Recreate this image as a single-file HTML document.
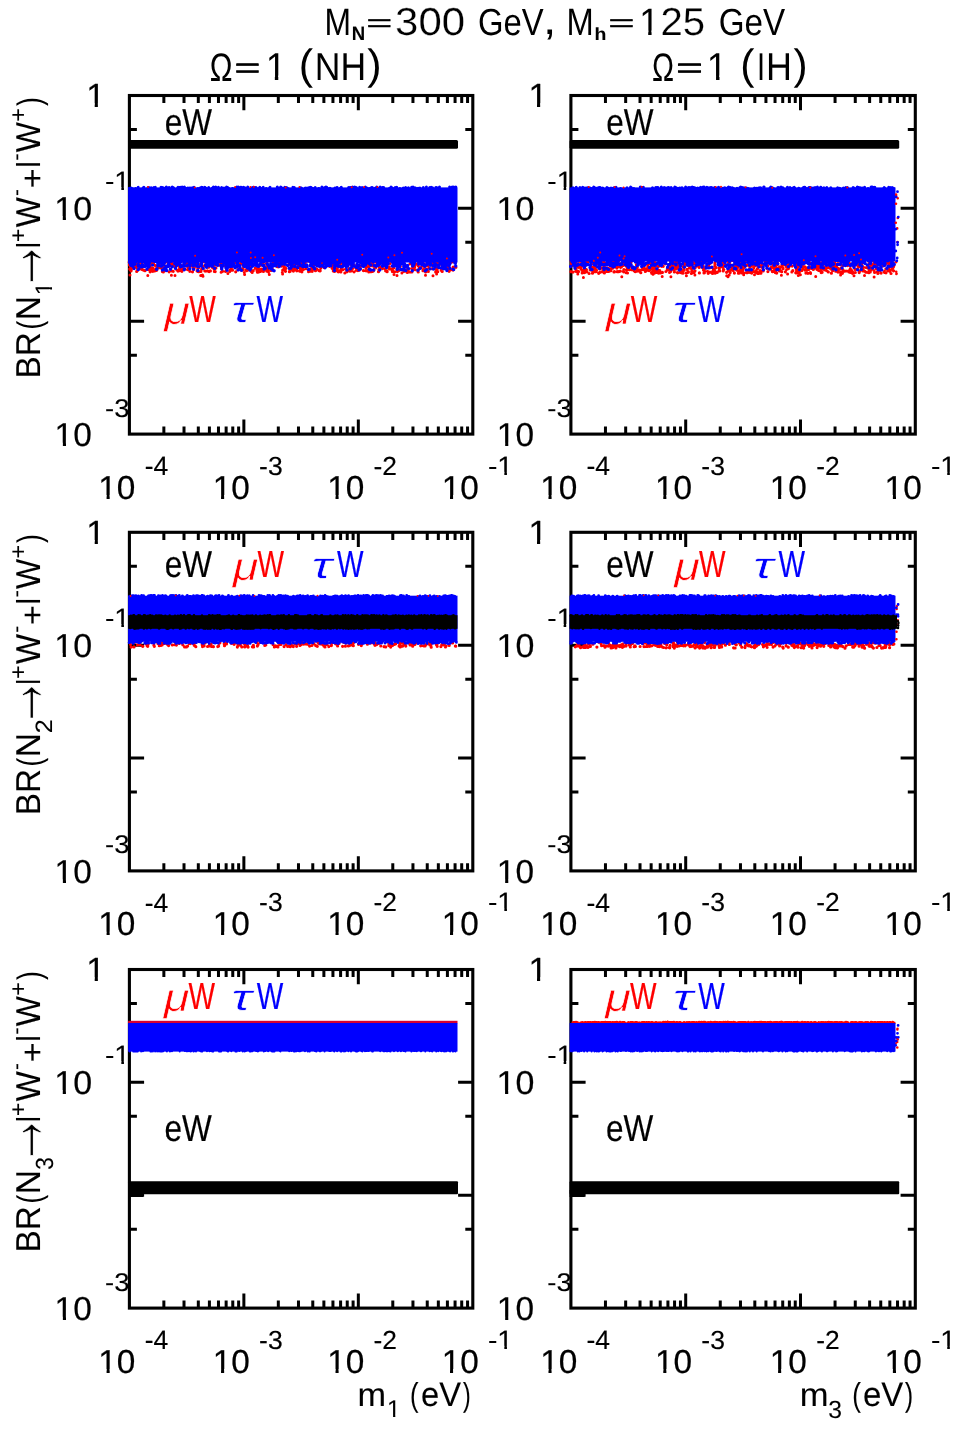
<!DOCTYPE html>
<html><head><meta charset="utf-8"><title>BR plots</title>
<style>html,body{margin:0;padding:0;background:#fff}svg{display:block}</style></head>
<body><svg width="957" height="1429" viewBox="0 0 957 1429" text-rendering="geometricPrecision">
<defs>
<clipPath id="k1"><path d="M-20 -130H150V-11H-20ZM24.9 -12H34.2V3H24.9Z"/></clipPath>
<clipPath id="k10"><path d="M-20 -130H250V-11H-20ZM24.9 -12H34.2V3H24.9ZM55.6 -12H130V5H55.6Z"/></clipPath>
<clipPath id="km1"><path d="M-20 -130H150V-11H-20ZM58.2 -12H67.5V3H58.2Z"/></clipPath>
<clipPath id="k1b"><path d="M-20 -130H150V-10.3H-20ZM23.1 -11H37.3V3H23.1Z"/></clipPath>
</defs>
<rect width="957" height="1429" fill="#fff"/>
<rect x="129.4" y="95.5" width="343.4" height="338.6" fill="none" stroke="#000" stroke-width="3.1"/>
<path d="M163.86 95.50v7.6M163.86 434.10v-7.6M184.01 95.50v7.6M184.01 434.10v-7.6M198.32 95.50v7.6M198.32 434.10v-7.6M209.41 95.50v7.6M209.41 434.10v-7.6M218.47 95.50v7.6M218.47 434.10v-7.6M226.14 95.50v7.6M226.14 434.10v-7.6M232.77 95.50v7.6M232.77 434.10v-7.6M238.63 95.50v7.6M238.63 434.10v-7.6M243.87 95.50v14.7M243.87 434.10v-14.7M278.32 95.50v7.6M278.32 434.10v-7.6M298.48 95.50v7.6M298.48 434.10v-7.6M312.78 95.50v7.6M312.78 434.10v-7.6M323.88 95.50v7.6M323.88 434.10v-7.6M332.94 95.50v7.6M332.94 434.10v-7.6M340.60 95.50v7.6M340.60 434.10v-7.6M347.24 95.50v7.6M347.24 434.10v-7.6M353.10 95.50v7.6M353.10 434.10v-7.6M358.33 95.50v14.7M358.33 434.10v-14.7M392.79 95.50v7.6M392.79 434.10v-7.6M412.95 95.50v7.6M412.95 434.10v-7.6M427.25 95.50v7.6M427.25 434.10v-7.6M438.34 95.50v7.6M438.34 434.10v-7.6M447.41 95.50v7.6M447.41 434.10v-7.6M455.07 95.50v7.6M455.07 434.10v-7.6M461.71 95.50v7.6M461.71 434.10v-7.6M467.56 95.50v7.6M467.56 434.10v-7.6M129.40 129.48h7.5M472.80 129.48h-7.5M129.40 208.37h14.7M472.80 208.37h-14.7M129.40 242.34h7.5M472.80 242.34h-7.5M129.40 321.23h14.7M472.80 321.23h-14.7M129.40 355.21h7.5M472.80 355.21h-7.5" stroke="#000" stroke-width="3" fill="none"/>
<rect x="129.4" y="532.3" width="343.4" height="338.6" fill="none" stroke="#000" stroke-width="3.1"/>
<path d="M163.86 532.30v7.6M163.86 870.90v-7.6M184.01 532.30v7.6M184.01 870.90v-7.6M198.32 532.30v7.6M198.32 870.90v-7.6M209.41 532.30v7.6M209.41 870.90v-7.6M218.47 532.30v7.6M218.47 870.90v-7.6M226.14 532.30v7.6M226.14 870.90v-7.6M232.77 532.30v7.6M232.77 870.90v-7.6M238.63 532.30v7.6M238.63 870.90v-7.6M243.87 532.30v14.7M243.87 870.90v-14.7M278.32 532.30v7.6M278.32 870.90v-7.6M298.48 532.30v7.6M298.48 870.90v-7.6M312.78 532.30v7.6M312.78 870.90v-7.6M323.88 532.30v7.6M323.88 870.90v-7.6M332.94 532.30v7.6M332.94 870.90v-7.6M340.60 532.30v7.6M340.60 870.90v-7.6M347.24 532.30v7.6M347.24 870.90v-7.6M353.10 532.30v7.6M353.10 870.90v-7.6M358.33 532.30v14.7M358.33 870.90v-14.7M392.79 532.30v7.6M392.79 870.90v-7.6M412.95 532.30v7.6M412.95 870.90v-7.6M427.25 532.30v7.6M427.25 870.90v-7.6M438.34 532.30v7.6M438.34 870.90v-7.6M447.41 532.30v7.6M447.41 870.90v-7.6M455.07 532.30v7.6M455.07 870.90v-7.6M461.71 532.30v7.6M461.71 870.90v-7.6M467.56 532.30v7.6M467.56 870.90v-7.6M129.40 566.28h7.5M472.80 566.28h-7.5M129.40 645.17h14.7M472.80 645.17h-14.7M129.40 679.14h7.5M472.80 679.14h-7.5M129.40 758.03h14.7M472.80 758.03h-14.7M129.40 792.01h7.5M472.80 792.01h-7.5" stroke="#000" stroke-width="3" fill="none"/>
<rect x="129.4" y="969.5" width="343.4" height="338.6" fill="none" stroke="#000" stroke-width="3.1"/>
<path d="M163.86 969.50v7.6M163.86 1308.10v-7.6M184.01 969.50v7.6M184.01 1308.10v-7.6M198.32 969.50v7.6M198.32 1308.10v-7.6M209.41 969.50v7.6M209.41 1308.10v-7.6M218.47 969.50v7.6M218.47 1308.10v-7.6M226.14 969.50v7.6M226.14 1308.10v-7.6M232.77 969.50v7.6M232.77 1308.10v-7.6M238.63 969.50v7.6M238.63 1308.10v-7.6M243.87 969.50v14.7M243.87 1308.10v-14.7M278.32 969.50v7.6M278.32 1308.10v-7.6M298.48 969.50v7.6M298.48 1308.10v-7.6M312.78 969.50v7.6M312.78 1308.10v-7.6M323.88 969.50v7.6M323.88 1308.10v-7.6M332.94 969.50v7.6M332.94 1308.10v-7.6M340.60 969.50v7.6M340.60 1308.10v-7.6M347.24 969.50v7.6M347.24 1308.10v-7.6M353.10 969.50v7.6M353.10 1308.10v-7.6M358.33 969.50v14.7M358.33 1308.10v-14.7M392.79 969.50v7.6M392.79 1308.10v-7.6M412.95 969.50v7.6M412.95 1308.10v-7.6M427.25 969.50v7.6M427.25 1308.10v-7.6M438.34 969.50v7.6M438.34 1308.10v-7.6M447.41 969.50v7.6M447.41 1308.10v-7.6M455.07 969.50v7.6M455.07 1308.10v-7.6M461.71 969.50v7.6M461.71 1308.10v-7.6M467.56 969.50v7.6M467.56 1308.10v-7.6M129.40 1003.48h7.5M472.80 1003.48h-7.5M129.40 1082.37h14.7M472.80 1082.37h-14.7M129.40 1116.34h7.5M472.80 1116.34h-7.5M129.40 1195.23h14.7M472.80 1195.23h-14.7M129.40 1229.21h7.5M472.80 1229.21h-7.5" stroke="#000" stroke-width="3" fill="none"/>
<rect x="570.9" y="95.5" width="344.4" height="338.6" fill="none" stroke="#000" stroke-width="3.1"/>
<path d="M605.46 95.50v7.6M605.46 434.10v-7.6M625.67 95.50v7.6M625.67 434.10v-7.6M640.02 95.50v7.6M640.02 434.10v-7.6M651.14 95.50v7.6M651.14 434.10v-7.6M660.23 95.50v7.6M660.23 434.10v-7.6M667.92 95.50v7.6M667.92 434.10v-7.6M674.57 95.50v7.6M674.57 434.10v-7.6M680.45 95.50v7.6M680.45 434.10v-7.6M685.70 95.50v14.7M685.70 434.10v-14.7M720.26 95.50v7.6M720.26 434.10v-7.6M740.47 95.50v7.6M740.47 434.10v-7.6M754.82 95.50v7.6M754.82 434.10v-7.6M765.94 95.50v7.6M765.94 434.10v-7.6M775.03 95.50v7.6M775.03 434.10v-7.6M782.72 95.50v7.6M782.72 434.10v-7.6M789.37 95.50v7.6M789.37 434.10v-7.6M795.25 95.50v7.6M795.25 434.10v-7.6M800.50 95.50v14.7M800.50 434.10v-14.7M835.06 95.50v7.6M835.06 434.10v-7.6M855.27 95.50v7.6M855.27 434.10v-7.6M869.62 95.50v7.6M869.62 434.10v-7.6M880.74 95.50v7.6M880.74 434.10v-7.6M889.83 95.50v7.6M889.83 434.10v-7.6M897.52 95.50v7.6M897.52 434.10v-7.6M904.17 95.50v7.6M904.17 434.10v-7.6M910.05 95.50v7.6M910.05 434.10v-7.6M570.90 129.48h7.5M915.30 129.48h-7.5M570.90 208.37h14.7M915.30 208.37h-14.7M570.90 242.34h7.5M915.30 242.34h-7.5M570.90 321.23h14.7M915.30 321.23h-14.7M570.90 355.21h7.5M915.30 355.21h-7.5" stroke="#000" stroke-width="3" fill="none"/>
<rect x="570.9" y="532.3" width="344.4" height="338.6" fill="none" stroke="#000" stroke-width="3.1"/>
<path d="M605.46 532.30v7.6M605.46 870.90v-7.6M625.67 532.30v7.6M625.67 870.90v-7.6M640.02 532.30v7.6M640.02 870.90v-7.6M651.14 532.30v7.6M651.14 870.90v-7.6M660.23 532.30v7.6M660.23 870.90v-7.6M667.92 532.30v7.6M667.92 870.90v-7.6M674.57 532.30v7.6M674.57 870.90v-7.6M680.45 532.30v7.6M680.45 870.90v-7.6M685.70 532.30v14.7M685.70 870.90v-14.7M720.26 532.30v7.6M720.26 870.90v-7.6M740.47 532.30v7.6M740.47 870.90v-7.6M754.82 532.30v7.6M754.82 870.90v-7.6M765.94 532.30v7.6M765.94 870.90v-7.6M775.03 532.30v7.6M775.03 870.90v-7.6M782.72 532.30v7.6M782.72 870.90v-7.6M789.37 532.30v7.6M789.37 870.90v-7.6M795.25 532.30v7.6M795.25 870.90v-7.6M800.50 532.30v14.7M800.50 870.90v-14.7M835.06 532.30v7.6M835.06 870.90v-7.6M855.27 532.30v7.6M855.27 870.90v-7.6M869.62 532.30v7.6M869.62 870.90v-7.6M880.74 532.30v7.6M880.74 870.90v-7.6M889.83 532.30v7.6M889.83 870.90v-7.6M897.52 532.30v7.6M897.52 870.90v-7.6M904.17 532.30v7.6M904.17 870.90v-7.6M910.05 532.30v7.6M910.05 870.90v-7.6M570.90 566.28h7.5M915.30 566.28h-7.5M570.90 645.17h14.7M915.30 645.17h-14.7M570.90 679.14h7.5M915.30 679.14h-7.5M570.90 758.03h14.7M915.30 758.03h-14.7M570.90 792.01h7.5M915.30 792.01h-7.5" stroke="#000" stroke-width="3" fill="none"/>
<rect x="570.9" y="969.5" width="344.4" height="338.6" fill="none" stroke="#000" stroke-width="3.1"/>
<path d="M605.46 969.50v7.6M605.46 1308.10v-7.6M625.67 969.50v7.6M625.67 1308.10v-7.6M640.02 969.50v7.6M640.02 1308.10v-7.6M651.14 969.50v7.6M651.14 1308.10v-7.6M660.23 969.50v7.6M660.23 1308.10v-7.6M667.92 969.50v7.6M667.92 1308.10v-7.6M674.57 969.50v7.6M674.57 1308.10v-7.6M680.45 969.50v7.6M680.45 1308.10v-7.6M685.70 969.50v14.7M685.70 1308.10v-14.7M720.26 969.50v7.6M720.26 1308.10v-7.6M740.47 969.50v7.6M740.47 1308.10v-7.6M754.82 969.50v7.6M754.82 1308.10v-7.6M765.94 969.50v7.6M765.94 1308.10v-7.6M775.03 969.50v7.6M775.03 1308.10v-7.6M782.72 969.50v7.6M782.72 1308.10v-7.6M789.37 969.50v7.6M789.37 1308.10v-7.6M795.25 969.50v7.6M795.25 1308.10v-7.6M800.50 969.50v14.7M800.50 1308.10v-14.7M835.06 969.50v7.6M835.06 1308.10v-7.6M855.27 969.50v7.6M855.27 1308.10v-7.6M869.62 969.50v7.6M869.62 1308.10v-7.6M880.74 969.50v7.6M880.74 1308.10v-7.6M889.83 969.50v7.6M889.83 1308.10v-7.6M897.52 969.50v7.6M897.52 1308.10v-7.6M904.17 969.50v7.6M904.17 1308.10v-7.6M910.05 969.50v7.6M910.05 1308.10v-7.6M570.90 1003.48h7.5M915.30 1003.48h-7.5M570.90 1082.37h14.7M915.30 1082.37h-14.7M570.90 1116.34h7.5M915.30 1116.34h-7.5M570.90 1195.23h14.7M915.30 1195.23h-14.7M570.90 1229.21h7.5M915.30 1229.21h-7.5" stroke="#000" stroke-width="3" fill="none"/>
<path d="M235.1 262.2h0M342.1 261.3h0M304.4 264.7h0M148.1 266.3h0M141.4 265.5h0M152.0 261.5h0M268.0 270.0h0M169.6 263.1h0M334.4 271.4h0M317.9 265.1h0M448.5 261.0h0M410.0 263.8h0M176.3 261.9h0M230.0 269.9h0M188.2 267.2h0M338.2 264.8h0M308.3 261.2h0M148.6 262.9h0M351.7 265.4h0M231.9 267.2h0M277.4 263.9h0M389.0 268.5h0M209.0 267.1h0M300.9 270.6h0M367.8 263.8h0M449.8 261.9h0M265.9 269.2h0M178.8 266.1h0M141.9 268.2h0M379.3 267.1h0M415.6 264.1h0M356.6 267.3h0M318.8 265.7h0M403.9 271.4h0M284.2 268.1h0M149.0 268.6h0M340.8 271.9h0M398.0 263.8h0M255.3 268.2h0M136.5 265.8h0M184.1 261.8h0M148.4 269.3h0M171.4 263.3h0M257.0 270.5h0M155.5 265.7h0M308.9 270.7h0M397.2 270.4h0M220.2 265.3h0M246.5 270.7h0M442.5 262.2h0M186.8 263.2h0M205.4 266.1h0M321.9 263.5h0M130.4 265.3h0M249.9 267.0h0M441.0 268.4h0M297.8 267.6h0M350.4 261.1h0M423.4 269.5h0M415.2 269.7h0M257.5 265.1h0M163.0 267.8h0M149.5 261.3h0M197.4 262.4h0M240.4 261.1h0M129.2 262.2h0M162.3 264.7h0M137.4 270.6h0M330.0 262.2h0M211.6 264.5h0M248.3 261.9h0M406.9 271.9h0M281.6 266.1h0M157.2 261.7h0M241.2 263.5h0M400.3 262.4h0M136.7 271.4h0M301.9 262.2h0M306.8 260.8h0M301.9 271.8h0M411.6 268.5h0M214.5 264.7h0M183.8 269.4h0M303.4 269.5h0M237.0 263.1h0M394.6 271.8h0M408.1 269.8h0M396.9 269.0h0M203.3 266.5h0M245.4 260.8h0M138.2 263.7h0M213.9 268.5h0M442.1 265.6h0M435.7 271.9h0M441.6 264.7h0M201.2 263.1h0M193.5 262.9h0M333.3 270.9h0M404.1 266.0h0M342.8 269.7h0M156.8 268.1h0M426.8 269.5h0M374.5 266.0h0M187.5 269.6h0M237.9 269.7h0M447.0 265.1h0M260.4 271.4h0M366.3 262.5h0M170.7 262.2h0M425.2 269.8h0M176.9 270.0h0M449.9 268.1h0M243.8 266.8h0M172.0 260.7h0M446.8 268.0h0M301.4 271.2h0M271.0 270.5h0M399.4 262.9h0M211.5 263.9h0M207.8 267.2h0M214.0 265.3h0M172.0 271.0h0M244.9 265.8h0M320.0 270.9h0M266.7 271.1h0M293.2 266.6h0M300.4 260.7h0M273.1 262.6h0M130.4 269.7h0M185.5 265.9h0M366.4 266.9h0M235.8 266.5h0M310.8 269.5h0M163.8 266.9h0M210.4 263.7h0M381.8 266.3h0M312.9 269.2h0M427.7 265.6h0M329.5 266.3h0M296.7 268.5h0M277.1 266.6h0M285.5 271.3h0M357.9 270.6h0M437.4 263.5h0M312.2 271.3h0M403.9 262.1h0M168.9 265.6h0M152.8 263.3h0M153.0 268.2h0M385.6 270.8h0M179.6 268.7h0M345.1 262.1h0M418.0 271.6h0M200.9 271.5h0M259.4 266.1h0M453.0 270.1h0M181.9 265.5h0M297.8 264.4h0M193.1 264.2h0M365.4 260.7h0M310.4 265.6h0M135.0 264.3h0M333.2 266.4h0M150.1 271.8h0M387.1 271.7h0M163.4 263.6h0M142.1 269.5h0M217.6 262.0h0M267.3 271.0h0M397.1 263.5h0M178.0 271.1h0M315.8 268.6h0M158.4 261.2h0M354.3 265.4h0M152.8 271.3h0M336.7 269.7h0M156.5 270.3h0M150.9 270.4h0M277.6 264.4h0M310.1 271.2h0M216.7 262.0h0M301.5 263.2h0M164.9 262.4h0M145.6 262.8h0M231.2 264.0h0M377.6 263.8h0M292.7 262.5h0M242.6 260.7h0M211.0 260.7h0M369.0 266.8h0M191.1 266.0h0M434.9 261.7h0M397.1 265.5h0M291.1 270.1h0M257.7 266.3h0M354.1 271.8h0M241.2 270.1h0M360.3 267.8h0M261.5 264.5h0M146.9 262.0h0M152.2 269.0h0M212.7 262.4h0M156.7 270.2h0M413.9 268.2h0M221.3 263.3h0M225.0 265.8h0M180.6 265.6h0M215.2 271.6h0M447.3 266.8h0M209.1 271.6h0M230.4 264.6h0M129.4 264.9h0M284.4 266.3h0M194.9 266.3h0M130.7 263.5h0M158.5 265.1h0M142.7 260.8h0M228.6 263.2h0M320.7 266.6h0M374.7 268.1h0M363.4 270.6h0M256.5 264.3h0M451.3 262.2h0M366.0 267.9h0M143.4 270.1h0M420.9 267.7h0M369.2 269.8h0M174.7 266.5h0M294.1 270.1h0M392.4 270.0h0M320.2 270.8h0M352.5 268.5h0M204.3 260.9h0M172.6 264.6h0M163.4 270.1h0M311.9 267.7h0M334.0 268.3h0M289.2 260.5h0M390.1 269.1h0M293.7 266.7h0M344.8 261.3h0M370.2 263.4h0M153.5 263.6h0M367.7 262.9h0M371.2 271.7h0M290.7 264.9h0M285.8 268.4h0M380.1 267.6h0M339.4 261.4h0M177.3 263.4h0M372.3 264.0h0M314.9 260.6h0M148.9 263.6h0M349.0 268.5h0M350.2 263.8h0M298.1 265.8h0M281.7 261.9h0M421.5 262.8h0M449.1 271.3h0M134.8 265.8h0M397.4 271.6h0M276.2 263.6h0M197.8 271.4h0M198.0 267.2h0M175.5 266.5h0M440.8 262.0h0M397.5 266.4h0M419.3 268.6h0M204.8 270.8h0M288.2 260.8h0M130.3 266.2h0M276.6 264.0h0M175.1 264.5h0M232.5 270.2h0M129.7 269.1h0M403.7 261.9h0M432.2 268.7h0M424.1 263.8h0M250.9 265.0h0M455.9 267.3h0M247.1 265.4h0M219.1 261.1h0M162.4 270.1h0M222.6 271.3h0M210.7 263.6h0M296.3 262.7h0M251.3 271.5h0M418.4 269.8h0M335.5 271.0h0M436.9 266.8h0M364.5 261.1h0M368.7 265.7h0M375.4 267.9h0M222.7 261.1h0M432.3 262.0h0M283.6 264.5h0M226.5 269.0h0M448.5 263.5h0M343.7 264.0h0M311.5 265.0h0M183.9 262.4h0M197.1 270.9h0M291.7 263.0h0M425.6 272.0h0M276.3 262.1h0M192.1 261.5h0M241.0 261.5h0M207.3 263.5h0M315.5 270.7h0M374.4 265.2h0M264.5 266.5h0M252.4 264.4h0M149.4 263.7h0M445.7 261.9h0M293.8 267.7h0M411.4 263.0h0M217.8 263.4h0M259.9 265.6h0M441.2 270.3h0M414.7 260.8h0M139.7 268.7h0M422.2 265.9h0M321.2 260.5h0M257.2 271.2h0M399.2 270.3h0M447.2 263.4h0M164.8 262.3h0M300.0 268.3h0M437.2 268.8h0M340.9 269.3h0M278.7 266.8h0M142.0 269.5h0M205.2 271.1h0M340.3 264.0h0M171.0 263.4h0M337.3 268.5h0M165.8 261.3h0M300.7 267.2h0M256.1 263.1h0M325.8 260.6h0M227.8 265.8h0M442.9 267.9h0M418.3 266.0h0M205.9 263.3h0M443.4 268.6h0M229.7 260.8h0M292.1 268.3h0M266.5 263.5h0M347.5 271.1h0M203.3 260.9h0M239.7 265.3h0M352.4 262.8h0M389.9 269.0h0M294.3 262.9h0M446.4 264.1h0M397.4 263.2h0M201.6 269.2h0M225.6 271.4h0M291.3 262.7h0M202.2 265.3h0M346.8 271.4h0M177.0 265.0h0M198.8 271.7h0M175.5 261.1h0M148.8 265.0h0M423.0 270.7h0M368.8 272.0h0M433.9 264.3h0M189.8 271.3h0M373.3 260.9h0M346.5 264.9h0M251.4 264.3h0M184.5 260.5h0M220.7 264.5h0M441.7 261.9h0M444.6 262.9h0M245.8 269.9h0M398.1 265.5h0M145.2 265.9h0M251.1 271.1h0M192.3 264.7h0M422.6 260.8h0M263.5 269.8h0M380.0 261.0h0M140.5 261.2h0M430.1 263.5h0M373.6 270.8h0M240.0 263.6h0M442.5 267.6h0M214.9 268.7h0M232.7 263.7h0M130.3 269.2h0M429.0 267.8h0M437.7 260.8h0M205.6 266.0h0M442.2 271.5h0M255.6 263.4h0M269.8 266.2h0M432.8 262.6h0M391.7 269.0h0M398.3 269.4h0M327.8 264.3h0M233.7 264.7h0M385.1 261.4h0M193.7 269.2h0M210.0 261.2h0M140.2 266.9h0M235.7 271.8h0M418.2 271.9h0M215.8 261.5h0M160.6 266.2h0M361.3 265.6h0M205.7 265.3h0M332.1 268.3h0M373.8 270.2h0M346.5 261.9h0M404.2 263.9h0M314.6 264.8h0M370.6 262.8h0M210.1 263.3h0M179.3 270.7h0M318.3 264.3h0M258.7 271.9h0M295.1 263.2h0M393.6 268.0h0M453.3 261.7h0M284.4 269.9h0M404.1 271.0h0M142.3 263.9h0M168.1 262.7h0M447.5 267.2h0M433.5 264.8h0M412.5 265.7h0M214.2 269.4h0M438.5 261.7h0M324.2 267.6h0M200.3 264.7h0M175.4 262.8h0M212.5 267.4h0M342.3 262.8h0M132.8 264.3h0M351.0 262.6h0M231.3 262.8h0M389.3 266.8h0M149.8 261.7h0M258.4 266.8h0M338.2 261.5h0M182.7 268.5h0M263.2 263.8h0M229.7 271.5h0M231.3 267.0h0M246.0 265.3h0M411.9 272.0h0M248.1 262.8h0M367.3 262.8h0M131.0 270.9h0M267.8 269.9h0M262.0 270.7h0M279.9 262.4h0M134.0 266.8h0M338.7 271.0h0M158.2 267.7h0M250.4 266.3h0M176.8 263.8h0M299.6 271.1h0M164.7 266.1h0M392.4 271.6h0M193.7 262.0h0M437.7 271.7h0M287.1 261.1h0M432.1 265.0h0M425.0 267.6h0M398.9 262.3h0M386.2 263.1h0M261.4 270.2h0M400.4 262.6h0M200.5 265.1h0M298.6 264.9h0M169.4 263.3h0M366.3 270.8h0M142.5 267.0h0M376.9 260.9h0M403.4 261.9h0M325.3 266.8h0M334.3 264.0h0M266.5 267.2h0M268.4 268.1h0M275.3 265.5h0M136.7 267.6h0M289.3 263.2h0M378.9 269.5h0M279.1 262.6h0M283.9 261.7h0M171.1 265.5h0M159.1 265.6h0M296.0 261.0h0M337.3 261.4h0M369.1 269.4h0M296.5 261.1h0M294.0 264.8h0M440.2 262.1h0M409.5 272.0h0M368.6 269.9h0M192.5 271.8h0M290.0 271.5h0M428.8 262.4h0M387.1 271.2h0M150.5 264.5h0M376.5 262.3h0M422.4 263.7h0M396.0 262.2h0M293.4 271.1h0M197.3 263.5h0M294.7 264.2h0M141.2 262.6h0M181.9 271.3h0M351.5 270.8h0M184.3 269.5h0M166.8 266.6h0M337.3 264.6h0M414.7 266.9h0M318.9 270.6h0M163.3 271.9h0M335.2 265.0h0M390.1 263.5h0M453.2 267.1h0M247.0 269.3h0M273.8 262.5h0M372.4 261.1h0M397.3 263.4h0M338.3 271.8h0M320.8 268.1h0M231.4 260.5h0M140.2 262.2h0M330.7 265.5h0M296.8 270.8h0M172.3 263.1h0M342.8 260.8h0M130.0 264.6h0M163.9 264.6h0M202.5 267.2h0M321.9 262.8h0M333.2 266.0h0M173.2 271.3h0M208.8 262.2h0M160.4 267.8h0M414.2 269.5h0M260.6 263.5h0M132.9 267.9h0M313.1 264.5h0M340.3 265.6h0M435.7 268.9h0M210.4 270.9h0M143.5 266.6h0M261.9 263.2h0M148.2 269.5h0M133.1 266.8h0M437.0 262.1h0M194.4 267.5h0M295.0 267.9h0M395.2 262.5h0M230.3 264.0h0M145.0 270.7h0M385.3 268.7h0M131.2 270.2h0M372.9 265.9h0M371.8 265.7h0M203.0 261.7h0M205.1 260.9h0M238.9 269.1h0M356.5 270.2h0M362.0 263.6h0M310.3 265.5h0M387.1 266.5h0M215.9 267.9h0M444.9 263.0h0M417.1 260.7h0M214.3 263.2h0M372.5 271.4h0M373.2 264.3h0M417.1 264.3h0M207.4 270.9h0M335.5 268.5h0M346.8 271.8h0M282.7 270.2h0M357.4 270.4h0M272.2 268.8h0M315.7 264.0h0M198.5 267.7h0M154.6 271.0h0M176.4 260.8h0M164.0 271.2h0M241.9 262.1h0M138.5 261.0h0M355.7 267.8h0M357.2 269.0h0M150.6 267.3h0M248.0 269.9h0M397.3 270.7h0M150.7 270.5h0M428.3 271.4h0M164.1 262.9h0M165.7 260.9h0M406.5 269.8h0M336.6 270.0h0M335.7 263.8h0M161.8 261.6h0M376.9 262.9h0M233.5 265.4h0M135.9 263.5h0M221.6 268.7h0M249.5 264.2h0M444.5 266.3h0M407.7 267.6h0M139.2 265.2h0M271.9 269.4h0M242.6 268.6h0M305.1 263.0h0M411.2 261.5h0M397.3 262.5h0M129.5 262.8h0M378.5 271.7h0M130.5 266.1h0M289.9 269.7h0M189.5 266.2h0M242.7 270.1h0M214.4 271.4h0M221.9 263.0h0M358.0 266.2h0M165.1 267.8h0M155.6 269.6h0M357.2 269.5h0M334.6 264.6h0M260.4 265.0h0M420.4 261.5h0M419.8 260.8h0M196.5 263.5h0M424.0 266.3h0M253.2 270.7h0M205.5 265.8h0M303.0 269.2h0M375.5 267.9h0M243.1 264.3h0M179.9 270.2h0M345.7 269.0h0M184.6 265.5h0M382.2 267.2h0M170.3 265.8h0M418.7 263.2h0M191.8 264.0h0M359.2 270.2h0M179.7 262.3h0M210.1 264.3h0M300.0 262.4h0M236.4 262.7h0M448.2 268.9h0M162.4 271.6h0M162.4 264.9h0M451.0 269.6h0M369.0 265.5h0M193.3 267.8h0M164.1 262.9h0M256.2 260.9h0M259.7 269.6h0M356.0 266.3h0M336.0 265.8h0M175.5 267.4h0M261.5 269.0h0M426.2 265.4h0M316.9 269.1h0M266.9 263.1h0M365.4 270.6h0M382.4 268.6h0M408.0 268.3h0M339.0 265.7h0M231.5 267.7h0M161.1 265.3h0M385.1 268.7h0M335.1 263.4h0M267.7 265.7h0M332.5 265.2h0M350.0 271.2h0M189.0 268.0h0M383.7 265.0h0M289.4 271.7h0M141.6 266.7h0M181.7 269.5h0M436.9 266.5h0M162.2 267.1h0M306.1 268.7h0M296.7 267.9h0M400.3 266.5h0M263.4 271.4h0M197.8 268.4h0M257.5 269.3h0M169.1 271.8h0M245.4 261.2h0M218.9 265.1h0M133.5 265.3h0M266.7 268.5h0" stroke="#f00" stroke-width="3.2" stroke-linecap="round" fill="none"/>
<path d="M244.3 272.5h0M202.5 275.1h0M436.6 273.9h0M200.7 275.4h0M257.4 272.2h0M171.4 275.3h0M394.0 274.5h0M282.6 274.1h0M203.0 276.3h0M244.6 274.5h0M397.0 275.5h0M282.3 272.6h0M308.5 271.7h0M401.9 273.0h0M407.4 272.5h0M252.2 272.4h0M268.5 272.0h0M130.0 275.0h0M221.1 272.3h0M227.9 273.6h0M269.3 274.5h0M344.8 273.0h0M433.0 275.7h0M147.8 275.6h0M425.5 275.3h0M175.0 275.6h0" stroke="#f00" stroke-width="3.0" stroke-linecap="round" fill="none"/>
<rect x="128.1" y="187.4" width="329.4" height="75.1" fill="#00f"/>
<path d="M336.3 261.1h0M132.9 266.2h0M343.7 262.4h0M162.3 261.8h0M205.5 265.3h0M242.5 261.8h0M424.9 265.4h0M184.0 265.9h0M328.2 265.3h0M347.8 265.9h0M387.0 265.6h0M193.7 264.8h0M302.8 265.1h0M272.6 265.9h0M310.7 262.5h0M205.7 261.8h0M290.4 261.3h0M281.9 261.8h0M289.9 263.7h0M305.6 265.7h0M131.3 265.6h0M282.2 264.1h0M346.8 265.6h0M251.8 263.3h0M443.4 261.4h0M337.5 264.5h0M138.4 264.4h0M352.4 266.1h0M237.2 266.4h0M296.2 263.7h0M422.8 261.2h0M364.1 264.4h0M239.9 265.7h0M248.9 263.6h0M301.1 265.2h0M198.0 263.4h0M267.3 264.0h0M399.6 262.6h0M399.9 263.2h0M293.9 262.5h0M294.8 266.4h0M343.3 265.4h0M237.4 262.7h0M227.0 264.2h0M336.8 265.3h0M142.2 265.0h0M418.9 264.0h0M145.4 262.7h0M131.1 262.0h0M430.6 264.3h0M344.4 265.3h0M426.8 264.4h0M330.9 264.4h0M357.0 264.3h0M351.9 262.2h0M347.3 263.5h0M378.6 261.6h0M188.4 261.2h0M382.5 266.0h0M343.7 263.0h0M398.3 265.3h0M313.0 262.4h0M227.9 263.3h0M233.3 263.4h0M339.1 266.1h0M147.0 264.1h0M142.0 261.7h0M394.2 264.2h0M429.7 263.5h0M133.7 263.1h0M322.8 266.2h0M450.0 263.6h0M264.0 261.6h0M340.0 262.2h0M178.8 261.1h0M130.7 264.8h0M168.9 266.3h0M157.9 265.8h0M171.3 261.1h0M364.5 262.3h0M369.1 262.0h0M145.5 265.3h0M362.6 265.7h0M367.9 261.5h0M334.8 264.9h0M279.8 266.1h0M212.2 266.3h0M363.8 261.1h0M133.9 264.6h0M396.5 261.4h0M230.9 265.0h0M183.4 265.7h0M288.2 261.3h0M249.4 264.2h0M272.7 264.7h0M176.5 265.4h0M248.0 264.5h0M335.1 263.3h0M255.3 265.3h0M438.3 265.3h0M314.6 262.6h0M148.9 266.4h0M359.2 265.6h0M237.7 264.3h0M448.9 265.6h0M325.8 262.7h0M269.3 265.9h0M252.3 264.8h0M326.0 265.9h0M393.3 262.6h0M129.7 262.4h0M267.3 264.2h0M396.1 265.9h0M142.9 265.6h0M394.7 265.8h0M316.2 262.5h0M407.6 265.4h0M353.1 266.0h0M242.6 261.5h0M310.3 265.4h0M194.7 265.1h0M434.0 262.3h0M327.7 264.7h0M281.4 262.1h0M212.4 265.1h0M388.1 263.5h0M157.8 265.4h0M381.8 262.3h0M318.7 265.9h0M418.7 263.9h0M285.0 264.2h0M191.0 262.1h0M188.2 264.9h0M247.8 264.1h0M260.8 263.8h0M177.9 261.2h0M455.4 263.1h0M163.8 264.5h0M386.7 261.9h0M324.5 262.9h0M299.1 261.1h0M140.1 266.4h0M412.5 263.7h0M314.7 262.4h0M384.1 263.3h0M438.8 265.2h0M397.0 266.3h0M212.2 261.2h0M194.9 262.0h0M156.5 261.3h0M311.5 265.8h0M279.0 266.2h0M426.8 261.4h0M324.8 263.2h0M168.3 266.3h0M213.3 264.1h0M338.7 266.3h0M348.2 263.2h0M275.8 261.9h0M445.1 266.5h0M201.6 261.2h0M212.8 262.9h0M424.5 266.0h0M403.0 261.3h0M386.4 264.9h0M340.7 266.4h0M147.3 261.8h0M376.1 266.2h0M350.6 262.6h0M322.6 265.2h0M163.6 262.8h0M213.2 261.7h0M286.6 261.9h0M207.1 261.8h0M350.8 261.1h0M363.8 262.1h0M140.9 266.1h0M201.3 266.1h0M412.7 265.9h0M174.8 263.5h0M160.8 266.1h0M404.7 264.5h0M277.1 262.9h0M398.4 263.6h0M334.6 261.8h0M201.6 261.3h0M362.6 264.0h0M176.4 265.8h0M216.3 263.3h0M180.0 262.5h0M403.8 262.8h0M184.0 263.7h0M233.2 266.0h0M166.5 266.4h0M147.7 265.9h0M347.8 262.2h0M285.3 262.6h0M213.4 262.1h0M248.3 266.5h0M455.7 266.1h0M161.0 262.6h0M422.3 261.3h0M366.8 262.6h0M449.3 261.1h0M393.2 262.9h0M175.0 261.0h0M401.4 263.9h0M189.9 263.4h0M427.5 262.2h0M316.0 261.8h0M188.0 265.2h0M361.9 262.1h0M155.0 261.5h0M328.2 263.7h0M218.7 262.1h0M329.5 264.9h0M394.7 264.2h0M195.3 261.4h0M368.8 263.2h0M365.2 261.3h0M394.3 262.8h0M404.6 265.8h0M290.4 261.1h0M426.9 263.6h0M414.4 262.5h0M190.0 265.6h0M249.2 261.9h0M250.5 264.3h0M130.6 263.9h0M275.0 263.8h0M168.6 264.9h0M396.3 265.8h0M234.1 264.9h0M253.9 265.1h0M149.1 265.8h0M441.3 263.7h0M297.1 263.9h0M304.9 261.1h0M445.6 262.2h0M188.8 261.6h0M211.0 265.5h0M138.9 261.5h0M357.8 262.1h0M134.9 264.3h0M317.7 263.9h0M359.0 261.6h0M413.6 264.9h0M143.9 261.7h0M290.6 263.8h0M220.6 261.7h0M261.8 261.8h0M322.7 265.7h0M177.3 264.2h0M373.4 261.9h0M399.4 266.2h0M256.3 263.3h0M403.9 263.9h0M258.6 266.2h0M383.3 262.9h0M207.8 262.8h0M271.6 266.4h0M392.3 266.0h0M395.8 265.7h0M146.6 263.8h0M442.5 266.1h0M210.7 263.3h0M336.1 263.0h0M302.8 261.4h0M270.8 263.8h0M135.9 261.8h0M446.4 265.3h0M435.7 264.5h0M393.9 265.9h0M418.6 261.2h0M339.0 262.5h0M351.1 262.5h0M306.5 266.1h0M332.4 262.4h0M299.3 263.4h0M440.2 262.6h0M229.0 264.6h0M168.5 264.3h0M441.9 263.8h0M216.9 263.6h0M303.8 261.8h0M169.6 261.7h0M225.2 263.2h0M223.4 262.3h0M157.8 264.0h0M403.9 264.4h0M315.7 264.6h0M194.9 264.9h0M279.9 264.0h0M329.6 263.6h0M230.7 262.3h0M201.6 263.8h0M254.5 264.2h0M133.0 262.9h0M411.1 262.3h0M311.2 263.7h0M222.3 266.4h0M225.8 265.2h0M181.0 261.4h0M414.2 263.4h0M149.4 263.1h0M273.0 265.0h0M164.8 262.2h0M443.0 265.1h0M179.7 262.9h0M244.4 264.7h0M330.8 265.7h0M397.8 263.8h0M370.8 265.1h0M377.7 263.6h0M385.9 264.9h0M428.4 261.7h0M414.0 261.0h0M379.6 264.2h0M292.0 266.3h0M316.2 263.3h0M385.5 265.8h0M327.8 263.1h0M277.1 263.5h0M365.7 262.6h0M256.9 264.1h0M254.9 262.8h0M386.6 265.7h0M292.6 263.4h0M189.4 262.7h0M176.5 264.2h0M319.4 261.5h0M430.2 262.8h0M405.1 265.6h0M442.8 262.1h0M268.6 266.0h0M132.6 261.3h0M313.9 263.7h0M430.2 265.3h0M305.3 266.5h0M298.4 263.8h0M353.3 263.1h0M246.1 264.3h0M244.0 266.2h0M350.4 263.9h0M161.5 263.1h0M260.3 264.1h0M316.9 265.8h0M444.7 263.7h0M273.1 264.4h0M455.0 262.9h0M302.6 265.5h0M185.0 262.7h0M449.2 265.5h0M296.8 261.6h0M421.8 264.8h0M397.6 266.4h0M419.7 263.3h0M180.3 262.6h0M296.5 263.8h0M190.6 262.0h0M335.3 264.3h0M244.7 266.5h0M337.4 261.2h0M263.7 265.3h0M229.5 264.8h0M130.4 262.7h0M404.7 264.2h0M347.7 262.1h0M292.0 264.0h0M216.1 264.6h0M303.0 266.5h0M317.1 263.3h0M168.9 261.9h0M377.6 261.6h0M161.9 261.9h0M300.1 265.5h0M329.7 265.4h0M149.4 261.1h0M381.2 262.8h0M363.2 262.9h0M184.5 262.5h0M161.6 266.0h0M319.6 262.9h0M276.3 263.1h0M147.0 265.9h0M319.7 266.3h0M273.0 264.4h0M210.7 261.2h0M433.7 265.7h0M232.1 265.9h0M396.1 262.7h0M326.3 266.3h0M291.2 266.2h0M208.6 263.1h0M364.2 262.2h0M230.3 265.8h0M287.6 265.4h0M208.7 262.0h0M246.4 262.0h0M447.0 262.6h0M312.8 261.6h0M303.7 263.1h0M261.0 261.4h0M169.4 265.5h0M244.0 262.3h0M191.7 262.6h0M206.7 261.2h0M346.5 262.9h0M180.1 264.9h0M159.4 262.5h0M402.3 261.7h0M274.2 265.6h0M392.5 261.9h0M244.6 265.0h0M252.4 266.3h0M197.2 266.2h0M294.3 262.3h0M277.2 261.7h0M360.3 262.4h0M423.5 264.2h0M249.5 262.4h0M328.1 262.2h0M414.5 261.7h0M297.0 264.0h0M217.6 265.2h0M255.0 264.6h0M314.8 262.7h0M256.7 261.5h0M187.0 265.7h0M234.1 264.6h0" stroke="#00f" stroke-width="3.5" stroke-linecap="round" fill="none"/>
<path d="M164.8 268.4h0M247.4 268.0h0M226.3 265.4h0M230.9 266.4h0M170.4 269.3h0M221.5 267.4h0M426.5 269.6h0M417.9 270.2h0M172.3 266.7h0M138.8 269.1h0M346.2 267.1h0M264.1 269.0h0M357.9 266.5h0M406.1 267.1h0M334.9 266.1h0M166.8 270.5h0M369.3 269.3h0M142.3 265.2h0M182.1 266.2h0M228.3 267.3h0M141.9 266.9h0M338.0 266.1h0M403.8 268.4h0M363.6 266.5h0M271.4 269.1h0M243.3 265.0h0M402.1 269.7h0M222.8 265.3h0M408.6 268.6h0M144.6 266.5h0M165.5 269.7h0M197.9 270.5h0M374.3 265.5h0M356.4 267.4h0M373.7 270.0h0M221.1 265.5h0M438.7 267.5h0M433.5 269.1h0M370.8 270.0h0M334.6 267.7h0M146.9 269.2h0M269.3 268.1h0M432.8 265.8h0M378.4 265.3h0M359.0 269.8h0M214.6 268.3h0M446.3 268.8h0M307.1 266.5h0M148.5 267.1h0M263.8 266.2h0M230.7 265.8h0M360.4 269.0h0M206.9 266.5h0M297.7 267.7h0M435.3 267.1h0M227.1 270.3h0M175.5 268.4h0M238.2 269.9h0M308.5 269.6h0M184.5 269.0h0M325.0 267.8h0M379.8 270.0h0M166.6 266.7h0M247.0 266.2h0M148.8 266.7h0M193.6 269.2h0M275.7 265.7h0M235.3 267.8h0M247.9 266.0h0M152.6 265.1h0M453.7 269.5h0M156.6 269.3h0M449.8 268.4h0M164.7 267.9h0M271.2 266.1h0M306.8 265.0h0M430.0 268.9h0M334.5 270.6h0M342.6 266.5h0M209.6 265.8h0M138.2 269.6h0M403.8 266.8h0M189.9 268.8h0M405.8 270.6h0M184.2 269.7h0M400.8 269.5h0M236.0 266.1h0M399.1 266.9h0M249.7 268.3h0M249.9 270.0h0M207.4 265.2h0M314.6 268.8h0M397.3 269.2h0M425.3 270.7h0M290.9 268.0h0M180.6 266.8h0M319.2 265.5h0M354.2 266.0h0M274.1 270.8h0M158.4 265.2h0M272.9 266.1h0M365.6 265.0h0M404.2 270.1h0M386.6 267.6h0M221.8 269.0h0M297.5 267.5h0M239.9 267.6h0M347.0 270.0h0M424.9 266.0h0M225.9 267.7h0M313.4 267.1h0M193.0 265.5h0M235.0 267.8h0M446.9 270.5h0M412.3 270.8h0M443.8 268.7h0M394.5 265.4h0M350.4 268.7h0M226.3 268.4h0M440.9 267.9h0M340.9 266.8h0M241.5 270.3h0M138.2 266.1h0M351.2 267.7h0M157.0 269.0h0M250.8 268.5h0M265.3 268.2h0M313.9 267.4h0M166.5 266.1h0M420.3 268.3h0M165.8 270.2h0M212.0 265.6h0M302.8 266.5h0M289.2 268.3h0M203.2 268.4h0M166.1 268.1h0M321.6 265.5h0M262.6 265.4h0M272.9 270.2h0M309.2 269.3h0M376.8 265.7h0M453.2 269.3h0M162.5 270.0h0M257.4 266.0h0M443.2 268.4h0M382.7 265.8h0M383.1 265.3h0M206.6 267.2h0M134.1 268.6h0M198.8 266.8h0" stroke="#00f" stroke-width="3.4" stroke-linecap="round" fill="none"/>
<path d="M360.6 187.7h0M419.9 188.0h0M414.5 187.9h0M429.3 188.4h0M184.1 188.2h0M240.8 188.2h0M351.8 188.3h0M169.3 187.6h0M370.3 188.5h0M365.3 187.1h0M326.7 187.2h0M308.7 188.3h0M166.1 188.5h0M350.0 187.4h0M192.3 187.7h0M403.3 187.9h0M166.3 187.0h0M165.2 188.3h0M189.7 187.9h0M224.0 188.1h0M253.7 187.2h0M415.5 187.9h0M354.7 188.3h0M439.5 187.0h0M241.1 187.2h0M293.3 188.4h0M391.0 187.1h0M188.7 188.3h0M351.4 187.6h0M284.8 187.3h0M405.6 187.6h0M414.8 188.0h0M153.9 187.5h0M199.9 188.4h0M321.9 187.1h0M184.6 187.6h0M282.2 187.9h0M256.0 187.6h0M131.1 187.9h0M238.3 187.0h0M279.4 188.6h0M143.9 187.2h0M348.6 187.4h0M218.5 187.8h0M214.8 187.9h0M301.9 188.5h0M453.7 187.1h0M312.5 188.2h0M414.5 188.2h0M336.3 188.0h0M247.8 187.5h0M389.3 188.4h0M436.2 188.1h0M228.6 188.2h0M371.1 187.8h0M336.9 187.6h0M309.3 187.6h0M148.9 187.5h0M234.9 188.6h0M286.6 187.6h0M208.7 187.4h0M243.4 187.2h0M131.5 188.4h0M277.4 187.7h0M315.2 187.5h0M184.4 187.1h0M227.7 187.5h0M366.9 187.9h0M435.8 187.5h0M430.5 187.9h0M155.3 187.3h0M319.0 188.6h0M245.9 188.2h0M269.2 188.4h0M151.3 187.8h0M423.3 187.4h0M213.4 187.0h0M182.9 187.4h0M359.6 187.3h0M259.8 187.3h0M326.4 188.4h0M341.2 187.3h0M369.2 188.5h0M325.8 187.1h0M394.0 188.4h0M240.7 187.2h0M190.7 187.9h0M415.5 188.0h0M431.1 187.3h0M236.0 188.2h0M341.4 187.6h0M351.3 187.5h0M147.9 187.7h0M144.0 188.0h0M238.6 187.8h0M324.7 187.4h0M280.7 187.0h0M431.9 187.9h0M452.2 187.1h0M330.0 188.2h0M236.8 187.1h0M180.2 187.2h0M380.1 187.1h0M395.4 187.7h0M305.3 187.9h0M310.7 188.1h0M325.9 187.5h0M371.6 187.4h0M361.9 188.2h0M383.0 187.5h0M381.9 188.6h0M277.4 187.4h0M300.3 188.5h0M172.2 187.0h0M284.8 188.0h0M382.4 187.6h0M452.9 187.4h0M376.7 187.1h0M138.2 187.2h0M148.8 187.8h0M310.8 187.3h0M436.6 187.6h0M178.0 187.3h0M370.5 188.5h0M182.1 187.0h0M383.7 187.4h0M450.5 187.8h0M337.2 187.6h0M391.0 187.7h0M235.1 188.4h0M164.4 188.2h0M150.5 188.0h0M260.6 188.4h0M148.7 187.9h0M263.2 188.5h0M438.3 188.0h0M202.4 187.4h0M214.9 187.7h0M204.8 187.3h0M377.5 188.0h0M226.8 188.6h0M200.0 187.9h0M180.4 188.4h0M413.5 187.4h0M375.0 188.3h0M221.6 187.5h0M288.0 188.4h0M182.0 188.1h0M324.6 187.7h0M318.6 188.4h0M197.8 188.4h0M247.0 188.2h0M411.6 187.3h0M411.8 188.6h0M226.5 187.0h0M165.6 188.6h0M132.2 188.5h0M178.4 188.2h0M161.0 187.3h0M352.5 187.1h0M240.2 188.5h0M363.5 188.4h0M449.6 187.1h0M205.9 188.3h0M354.7 187.1h0M294.3 187.4h0M270.0 187.2h0M135.6 188.6h0M232.7 188.4h0M168.5 187.8h0M173.5 187.7h0M187.7 188.1h0M177.5 188.2h0M292.9 187.2h0M244.8 187.8h0M429.7 187.6h0M199.5 188.5h0M418.1 188.2h0M218.4 187.3h0M215.7 187.1h0M143.2 187.8h0M262.6 187.9h0M247.7 187.0h0M354.3 188.0h0M307.1 187.9h0M355.0 188.6h0M415.1 188.1h0M259.7 187.5h0M266.2 188.6h0M255.8 187.6h0M263.2 187.2h0M455.8 187.0h0M328.0 188.5h0M212.4 188.0h0M252.4 187.4h0M194.0 187.2h0M404.9 188.3h0M426.4 187.1h0M356.2 187.5h0M340.5 187.9h0M232.4 188.6h0M129.4 188.2h0M408.4 187.8h0M322.9 188.6h0M205.8 188.0h0M372.3 187.6h0M362.1 187.6h0M301.3 188.0h0M350.7 187.5h0M334.9 187.9h0M202.2 188.0h0M215.8 188.5h0M284.0 188.2h0M299.9 187.8h0M201.5 187.2h0M432.5 187.8h0M300.5 187.8h0M395.2 187.4h0M185.5 188.3h0M279.7 188.0h0M399.8 188.4h0M413.0 187.1h0M253.8 188.3h0M396.7 187.2h0M179.4 187.4h0M162.7 187.6h0M391.9 187.8h0M277.3 187.1h0M258.5 188.6h0M356.5 187.7h0" stroke="#00f" stroke-width="3.0" stroke-linecap="round" fill="none"/>
<path d="M285.6 187.6h0M377.4 186.9h0M351.7 187.2h0M299.5 187.0h0M250.4 187.1h0M253.8 186.8h0M194.8 187.4h0M148.0 187.0h0M364.1 187.1h0M235.1 187.0h0" stroke="#f00" stroke-width="2.0" stroke-linecap="round" fill="none"/>
<path d="M402.0 252.8h0M337.2 259.7h0M195.1 255.8h0M388.3 257.6h0M250.7 252.4h0M273.9 255.3h0M362.2 254.7h0M262.6 257.8h0M394.4 255.2h0M255.2 257.2h0M431.7 253.7h0M446.9 258.4h0M250.9 258.0h0M236.9 252.6h0" stroke="#f00" stroke-width="2.0" stroke-linecap="round" fill="none"/>
<rect x="128.1" y="140" width="329.9" height="8.8" fill="#000" rx="1.5"/>
<path d="M376.5 644.0h0M301.1 644.6h0M424.0 645.9h0M137.5 645.1h0M280.4 644.4h0M403.8 644.2h0M284.1 646.6h0M273.0 644.6h0M296.6 646.3h0M348.4 645.9h0M260.5 642.2h0M351.5 644.9h0M380.8 646.0h0M167.7 643.1h0M154.3 646.3h0M162.4 642.5h0M375.6 644.9h0M147.1 645.5h0M361.8 644.5h0M147.0 645.6h0M265.8 645.0h0M455.7 646.2h0M414.4 642.8h0M238.5 644.7h0M131.1 647.1h0M219.0 643.4h0M231.5 643.3h0M410.1 644.9h0M296.3 644.2h0M145.8 643.6h0M412.7 646.2h0M409.4 643.3h0M195.2 642.3h0M304.8 643.9h0M281.0 644.5h0M320.1 643.9h0M391.3 643.0h0M429.9 644.9h0M145.8 643.6h0M303.5 644.1h0M313.9 643.7h0M218.6 646.1h0M224.5 645.7h0M391.7 645.1h0M277.9 646.9h0M274.7 646.6h0M148.0 644.3h0M338.3 642.3h0M411.4 642.4h0M324.2 642.9h0M430.9 644.9h0M391.1 644.6h0M349.6 645.5h0M225.6 643.1h0M403.4 642.8h0M429.4 643.1h0M162.1 642.5h0M385.7 646.9h0M264.8 645.4h0M213.4 646.7h0M353.5 642.8h0M147.6 645.6h0M142.8 646.3h0M225.2 643.2h0M319.5 643.7h0M312.5 642.8h0M427.5 643.7h0M404.4 642.8h0M390.7 647.1h0M257.2 642.2h0M253.4 645.3h0M202.2 644.8h0M159.7 644.4h0M367.4 644.2h0M351.2 642.6h0M400.2 642.6h0M431.2 647.2h0M436.5 644.7h0M224.2 643.8h0M374.6 644.6h0M433.3 642.5h0M287.7 646.5h0M324.7 644.8h0M158.0 642.7h0M217.8 646.6h0M405.7 643.2h0M431.6 642.2h0M325.0 647.0h0M241.8 646.9h0M343.9 642.3h0M238.1 644.3h0M210.0 645.9h0M187.6 646.1h0M226.7 642.4h0M312.1 642.5h0M309.6 646.1h0M324.0 644.4h0M140.1 644.7h0M160.9 645.4h0M172.3 645.0h0M244.6 643.9h0M346.1 642.9h0M184.6 646.9h0M237.6 646.4h0M414.9 644.5h0M177.9 642.5h0M416.7 642.6h0M291.4 644.8h0M167.6 644.4h0M182.8 644.8h0M294.9 643.9h0M193.8 644.1h0M195.7 642.7h0M207.6 646.5h0M293.3 646.6h0M134.0 646.9h0M288.9 646.1h0M315.7 645.6h0M204.1 645.9h0M179.4 643.4h0M139.2 644.0h0M298.6 643.5h0M420.5 642.4h0M318.4 643.2h0M323.9 646.1h0M361.7 642.3h0M209.5 645.1h0M450.7 642.2h0M331.4 645.6h0M395.7 643.8h0M394.3 644.4h0M430.4 642.1h0M436.8 644.1h0M262.3 642.5h0M209.2 645.8h0M351.2 642.8h0M241.8 642.7h0M194.0 643.1h0M237.4 647.1h0M455.4 646.1h0M286.1 644.6h0M384.1 646.7h0M375.0 645.3h0M194.2 645.3h0M405.8 646.1h0M159.3 645.7h0M243.4 642.8h0M445.1 645.5h0M373.0 642.7h0M400.2 646.9h0M425.1 645.9h0M401.5 646.2h0M322.3 644.3h0M399.1 646.1h0M414.0 643.6h0M443.5 644.8h0M438.6 642.6h0M446.0 646.1h0M211.6 646.4h0M205.0 643.0h0M278.9 643.2h0M290.3 646.7h0M353.3 645.7h0M257.4 646.1h0M388.8 645.6h0M437.2 646.3h0M262.0 642.5h0M342.6 646.3h0M240.2 645.1h0M402.7 646.1h0M130.6 644.5h0M134.5 642.6h0M394.9 644.2h0M327.0 644.4h0M238.8 643.1h0M244.8 646.4h0M331.7 643.5h0M157.9 643.4h0M358.5 644.3h0M345.4 646.2h0M168.6 645.6h0M142.7 646.3h0M189.3 643.4h0M442.5 643.9h0M202.5 646.6h0M328.8 646.6h0M258.1 644.6h0M441.8 644.6h0M452.6 643.0h0M400.9 642.8h0M301.6 642.0h0M186.5 646.9h0M277.8 646.2h0M211.2 643.8h0M162.1 644.9h0M411.2 644.7h0M252.4 646.8h0M421.6 645.5h0M153.9 645.2h0M274.4 647.0h0M247.5 645.4h0M335.9 644.0h0M300.0 645.5h0M425.9 644.6h0M248.1 647.1h0M147.7 646.3h0M352.8 644.9h0M275.6 645.9h0M420.7 645.8h0M374.4 642.2h0M235.5 642.7h0M440.9 646.6h0M176.4 645.1h0M317.8 642.2h0M257.4 645.9h0M339.0 643.5h0M378.6 643.5h0M307.2 644.2h0M449.2 645.4h0M392.5 645.5h0M253.6 647.0h0M361.3 645.6h0M219.9 642.8h0M317.3 646.3h0M388.8 643.8h0M174.9 644.7h0M416.2 642.8h0M370.7 642.9h0M231.2 642.3h0M226.5 644.0h0M445.5 647.0h0M190.3 643.6h0M437.9 643.0h0M234.1 644.3h0M164.6 643.4h0M258.0 644.0h0M444.4 643.4h0M195.8 646.7h0M276.4 646.4h0M337.6 646.0h0M232.1 642.8h0M376.8 644.4h0M311.9 645.5h0M375.4 643.4h0M247.8 646.8h0M302.3 643.5h0M335.3 643.4h0M381.5 642.2h0M399.6 644.9h0M244.8 646.9h0" stroke="#f00" stroke-width="3.2" stroke-linecap="round" fill="none"/>
<rect x="128.1" y="595.7" width="329.4" height="46.1" fill="#00f"/>
<path d="M216.0 595.7h0M152.0 596.1h0M375.7 596.2h0M264.1 596.4h0M165.5 595.8h0M340.1 596.6h0M336.5 596.2h0M382.6 595.9h0M436.8 596.3h0M240.9 595.9h0M392.7 595.8h0M189.9 596.4h0M303.1 596.0h0M348.1 596.5h0M172.8 595.8h0M150.7 595.9h0M293.4 596.4h0M347.6 596.1h0M261.2 596.1h0M218.7 596.4h0M387.1 596.4h0M178.6 596.2h0M375.8 596.0h0M423.0 596.5h0M372.2 596.4h0M341.4 596.5h0M172.1 596.2h0M359.4 596.1h0M219.1 595.5h0M326.5 596.4h0M218.4 595.7h0M202.3 595.5h0M350.3 596.6h0M391.6 595.8h0M358.0 595.5h0M403.5 595.8h0M130.2 596.2h0M174.5 595.7h0M148.4 595.9h0M310.7 596.4h0M142.1 596.4h0M165.3 595.7h0M335.1 595.8h0M237.4 596.1h0M200.4 596.4h0M197.5 596.4h0M393.7 596.0h0M139.1 596.3h0M138.4 596.0h0M267.8 595.5h0M335.2 596.3h0M320.5 595.9h0M296.7 596.1h0M203.1 596.4h0M454.9 596.4h0M443.7 595.8h0M451.8 595.5h0M285.5 595.6h0M277.6 596.2h0M360.9 595.9h0M240.9 595.6h0M260.9 595.7h0M192.6 596.3h0M298.0 595.9h0M193.8 596.2h0M193.5 595.7h0M312.4 596.2h0M447.5 596.3h0M439.4 596.5h0M365.5 596.3h0M149.6 595.6h0M133.4 596.4h0M365.3 596.2h0M215.4 595.8h0M182.6 596.2h0M453.5 595.8h0M143.6 595.6h0M245.3 596.5h0M392.3 595.9h0M162.5 595.5h0M179.4 596.3h0M283.3 596.6h0M427.4 596.4h0M284.9 596.4h0M171.1 595.5h0M313.4 596.0h0M197.6 595.7h0M136.0 596.5h0M361.5 596.5h0M449.9 595.9h0M368.7 595.9h0M394.7 596.4h0M172.9 595.4h0M199.1 596.1h0M253.1 595.4h0M400.8 596.3h0M280.8 595.5h0M420.0 596.0h0M152.3 595.8h0M333.5 596.5h0M287.6 596.2h0M196.4 595.7h0M425.5 595.9h0M163.1 596.1h0M170.4 595.6h0M278.4 596.1h0M337.3 596.2h0M272.9 595.5h0M366.1 595.5h0M283.1 595.9h0M349.3 596.3h0M207.6 596.2h0M355.5 596.0h0M175.5 596.5h0M325.1 595.5h0M207.2 596.6h0M203.9 595.9h0M387.0 596.4h0M336.5 596.3h0M141.6 595.5h0M448.5 596.4h0M141.6 595.5h0M207.8 596.5h0M200.9 596.2h0M433.5 596.2h0M429.9 595.7h0M179.3 595.4h0M376.8 595.5h0M447.5 596.3h0M190.3 596.4h0M182.4 596.0h0M163.7 596.3h0M420.2 596.5h0M129.8 596.4h0M311.0 596.4h0M293.5 596.1h0M323.6 596.4h0M154.5 595.5h0M307.6 595.7h0M259.0 595.4h0M372.9 595.4h0M400.6 596.4h0M279.0 595.5h0M341.8 595.6h0M269.5 595.5h0M448.6 596.1h0M244.4 595.5h0M368.0 596.4h0M406.7 595.5h0M249.4 595.8h0M378.6 595.6h0M327.5 596.6h0M380.6 595.4h0M153.6 595.5h0M355.7 596.1h0M299.3 595.9h0M262.4 596.1h0M341.3 596.5h0M368.8 596.4h0M427.8 596.4h0M363.6 595.4h0M351.9 596.4h0M270.0 596.5h0M187.9 596.5h0M273.6 596.2h0M211.8 595.8h0M243.1 595.8h0M160.1 595.9h0M450.0 596.2h0M434.1 596.3h0M402.9 596.6h0M375.4 595.7h0M210.8 595.9h0M135.9 595.7h0M419.1 596.5h0M236.7 596.3h0M382.7 596.5h0M389.1 596.0h0M163.4 596.4h0M231.7 596.2h0M249.2 596.0h0M445.1 595.6h0M302.8 596.2h0M305.3 596.5h0M262.4 596.5h0M354.8 596.6h0M158.4 595.7h0M223.1 596.5h0M133.6 595.7h0M363.3 596.6h0M186.8 595.9h0M353.8 596.2h0M373.2 596.3h0M210.4 595.7h0M138.2 596.2h0M197.6 595.7h0M444.6 596.2h0M322.5 596.2h0M324.7 596.2h0M228.5 595.5h0M151.0 595.4h0M247.4 595.6h0M166.0 596.0h0M446.3 596.2h0M218.6 596.3h0M187.3 595.5h0M228.3 595.9h0M354.7 595.9h0M367.4 595.5h0M434.2 595.8h0M401.4 595.4h0M400.3 595.7h0M408.9 596.4h0M348.6 595.7h0M132.3 595.6h0M425.2 595.6h0M344.8 596.1h0M345.5 595.6h0M176.1 595.5h0M450.6 595.9h0M342.5 596.1h0M202.2 595.5h0M133.9 596.4h0M171.7 596.6h0M248.1 596.3h0M174.4 596.3h0M211.4 595.8h0M300.2 595.5h0M210.3 596.4h0M222.4 595.9h0" stroke="#00f" stroke-width="2.8" stroke-linecap="round" fill="none"/>
<path d="M379.3 641.4h0M192.6 641.4h0M254.8 641.7h0M339.0 642.0h0M413.7 640.9h0M346.2 643.0h0M205.9 640.9h0M272.5 641.1h0M279.6 642.6h0M159.8 641.1h0M286.0 641.3h0M204.6 641.9h0M167.8 641.0h0M247.3 642.0h0M435.6 642.2h0M152.5 641.4h0M372.6 642.3h0M413.8 643.3h0M409.8 641.1h0M437.9 642.2h0M207.5 641.2h0M412.0 641.4h0M156.3 641.5h0M431.5 642.0h0M368.4 641.0h0M277.3 641.6h0M196.3 642.5h0M247.3 641.1h0M451.1 642.1h0M188.0 640.8h0M342.8 642.1h0M137.1 642.0h0M371.4 642.2h0M205.7 642.1h0M327.0 642.5h0M176.6 642.9h0M438.5 642.7h0M409.6 641.8h0M424.5 641.3h0M203.3 642.4h0M424.1 641.0h0M200.1 640.9h0M272.7 641.2h0M191.8 642.7h0M320.0 643.2h0M260.6 642.6h0M133.2 643.3h0M205.4 642.0h0M296.5 643.3h0M290.1 643.4h0M332.4 641.4h0M402.0 641.3h0M456.2 642.0h0M203.1 643.3h0M234.4 641.9h0M241.4 642.5h0M136.6 641.8h0M182.1 643.0h0M129.2 642.4h0M213.5 642.0h0M312.9 642.7h0M174.2 641.4h0M168.5 643.3h0M177.9 641.2h0M300.0 642.3h0M419.2 640.9h0M205.8 641.2h0M320.7 642.0h0M262.9 643.1h0M345.6 643.0h0M442.2 641.5h0M437.3 641.9h0M146.0 643.2h0M163.2 640.8h0M223.9 641.6h0M445.5 643.1h0M266.6 642.2h0M406.8 642.9h0M342.9 642.1h0M167.3 641.4h0M344.4 642.3h0M391.2 643.1h0M444.0 641.3h0M154.0 643.1h0M315.7 641.3h0M355.6 641.5h0M206.5 641.8h0M300.5 642.6h0M153.1 642.7h0M333.4 642.0h0M349.0 642.9h0M132.2 642.0h0M350.9 642.6h0M341.0 641.3h0M442.7 642.8h0M205.3 641.9h0M442.5 641.3h0M263.0 643.3h0M423.6 641.4h0M369.7 641.7h0M346.1 642.8h0M170.8 641.4h0M199.4 641.5h0M140.8 641.2h0M262.0 641.9h0M154.6 642.3h0M437.4 642.3h0M245.5 642.6h0M272.2 641.3h0M286.7 640.8h0M350.3 641.2h0M250.1 643.3h0M380.0 643.0h0M339.2 642.4h0M359.7 643.3h0M193.3 642.8h0M227.5 641.5h0M397.9 642.4h0M407.1 643.1h0M321.8 641.3h0M134.0 642.2h0M366.5 641.5h0M152.0 640.8h0M185.8 642.6h0M130.4 641.4h0M215.9 642.6h0M452.1 640.9h0M166.5 643.2h0M446.5 641.2h0M238.8 642.2h0M233.9 641.9h0M285.8 641.5h0M147.1 641.0h0M182.3 641.0h0M333.3 642.6h0M215.1 642.9h0M367.6 641.7h0M290.0 641.3h0M433.1 642.3h0M145.9 641.2h0M355.7 641.8h0M363.7 641.4h0M389.9 642.9h0M159.9 642.3h0M191.7 642.6h0M392.2 642.9h0M204.8 641.0h0M346.2 642.3h0M174.3 641.3h0M319.7 641.1h0M336.5 641.4h0M213.7 641.9h0M303.5 642.7h0M139.2 642.7h0M201.4 641.6h0M338.4 642.6h0M330.2 643.1h0M196.1 641.6h0M345.9 641.5h0M180.6 641.4h0M381.5 643.0h0M363.5 643.3h0M389.0 641.6h0M232.3 642.7h0M147.3 642.4h0M158.3 640.9h0M297.2 641.2h0M433.9 643.1h0M280.2 641.3h0M168.2 642.1h0M299.7 641.7h0M363.5 642.2h0M382.8 641.1h0M152.0 641.8h0M287.3 641.5h0M347.8 641.4h0M233.2 642.0h0M362.2 642.8h0M250.7 642.0h0M432.6 643.2h0M331.6 641.1h0M278.2 642.5h0M220.3 640.9h0M450.1 643.2h0M171.3 642.0h0M331.7 641.6h0M151.5 642.8h0M381.3 641.9h0M157.1 641.8h0M159.9 643.3h0M145.9 641.5h0M380.4 641.2h0M164.0 641.0h0M182.8 642.2h0M401.7 641.2h0M185.9 642.8h0M268.4 641.7h0M169.4 641.4h0M447.1 641.1h0M214.0 642.7h0M420.9 643.2h0M283.8 643.3h0M326.7 641.6h0M281.3 642.7h0M369.3 641.1h0M192.5 643.3h0M164.1 642.9h0M240.0 641.4h0M212.6 642.0h0M453.2 641.2h0M408.7 641.6h0M185.6 642.7h0M240.9 641.3h0M266.0 642.9h0M411.5 642.3h0M132.5 642.8h0M327.6 643.1h0M440.6 641.7h0M406.7 642.9h0M216.1 641.8h0M251.7 641.7h0M252.9 641.1h0M203.4 643.2h0M263.4 642.5h0M419.4 642.8h0M209.1 643.2h0M392.2 643.4h0M367.3 642.8h0M395.1 641.5h0M343.7 641.8h0M403.9 641.1h0M305.5 641.7h0M397.6 641.7h0M405.2 643.0h0M416.7 641.2h0M436.1 642.7h0M350.6 642.5h0M144.8 643.1h0M308.3 642.0h0M240.1 642.8h0M385.0 643.1h0M199.2 641.7h0M210.7 641.1h0M236.1 640.9h0M389.7 641.4h0M152.2 641.0h0M371.6 641.3h0M280.3 641.8h0M391.6 643.3h0M230.5 642.4h0M421.9 642.0h0M423.5 642.7h0M231.0 643.1h0M316.7 641.1h0M321.3 643.0h0M298.8 642.1h0M265.4 643.1h0M346.9 641.3h0M247.7 641.7h0M442.8 642.6h0M170.0 643.2h0M140.5 642.3h0M270.6 642.7h0M269.6 641.0h0M300.4 642.9h0M387.2 641.7h0M201.8 642.7h0M391.4 641.4h0M418.1 643.4h0M270.9 641.8h0M361.4 643.2h0M195.1 641.6h0M236.8 642.7h0M190.2 642.2h0M292.8 642.5h0M176.0 643.3h0M456.3 642.3h0M389.3 641.3h0M426.9 642.2h0M377.6 643.1h0M247.5 643.2h0M197.0 640.9h0M293.5 643.1h0M423.7 643.3h0M296.2 643.2h0M312.3 641.2h0M335.6 642.9h0M267.8 642.4h0M213.9 641.5h0M266.6 642.1h0M282.3 641.0h0M131.0 641.7h0M363.7 642.7h0M206.7 641.5h0M298.2 641.3h0M326.4 643.2h0M195.2 642.3h0M364.9 642.7h0M362.1 642.6h0M218.3 643.0h0M431.8 640.9h0M438.0 642.0h0M157.4 641.0h0M389.8 642.6h0M175.6 642.0h0M338.1 643.4h0M239.1 642.8h0M209.3 641.3h0M181.9 641.9h0M331.4 641.6h0M182.1 641.4h0M156.9 641.3h0M232.4 642.1h0M189.2 642.0h0M273.0 643.3h0M288.2 643.3h0M283.4 641.3h0M322.8 641.2h0M184.5 641.0h0M358.6 643.3h0M261.1 641.7h0M268.2 641.7h0M355.1 641.8h0M178.9 643.0h0M316.4 640.8h0M407.1 642.7h0M245.1 642.4h0M430.2 641.8h0M270.6 641.6h0M310.4 642.5h0M369.6 643.3h0M176.6 641.8h0M407.7 642.9h0M322.2 642.6h0M240.4 643.3h0M308.9 641.8h0M188.8 641.1h0M422.8 642.9h0M137.9 641.6h0M286.0 642.1h0M248.0 643.1h0M243.6 642.2h0M433.2 642.5h0M285.1 641.7h0M255.8 642.4h0M386.3 641.5h0M250.3 641.8h0M247.8 643.2h0M305.4 641.5h0M237.9 642.9h0M181.5 642.6h0M136.2 641.3h0M148.6 642.9h0M177.2 641.4h0M147.9 641.5h0M369.1 642.7h0M427.0 643.3h0M309.4 643.2h0M158.4 643.2h0M271.1 641.3h0M373.9 643.0h0M255.3 641.0h0M414.7 642.8h0M324.4 643.3h0M141.6 640.9h0M169.7 640.9h0M360.9 642.4h0M165.9 641.2h0M188.3 642.4h0M349.1 643.3h0M247.1 643.3h0M271.3 641.8h0M212.0 641.4h0M448.0 643.4h0M360.1 641.3h0M188.0 641.2h0M244.0 642.7h0M148.4 642.2h0M351.8 640.9h0M272.9 642.9h0" stroke="#00f" stroke-width="3.0" stroke-linecap="round" fill="none"/>
<path d="M317.5 595.7h0M417.5 595.8h0M239.4 595.6h0M437.8 596.1h0M428.4 595.8h0M175.7 595.4h0M254.5 595.9h0M130.6 596.0h0" stroke="#f00" stroke-width="1.8" stroke-linecap="round" fill="none"/>
<rect x="128.1" y="615.2" width="329.4" height="13.6" fill="#000"/>
<path d="M386.3 615.7h0M130.9 615.9h0M264.6 615.8h0M315.6 615.8h0M262.9 616.0h0M441.7 616.0h0M330.4 615.5h0M252.3 615.5h0M424.8 615.9h0M387.0 615.9h0M453.3 615.8h0M233.2 615.8h0M214.9 615.7h0M180.9 615.9h0M289.0 615.5h0M431.1 615.4h0M433.5 615.8h0M177.9 615.8h0M316.7 615.9h0M321.0 615.6h0M434.5 615.4h0M383.4 615.4h0M219.6 615.4h0M414.2 615.6h0M366.8 615.5h0M368.1 615.8h0M161.0 615.6h0M365.3 615.5h0M343.2 615.5h0M250.3 615.9h0M437.7 616.0h0M268.7 615.7h0M393.6 615.8h0M278.4 615.9h0M260.4 616.0h0M283.8 615.4h0M374.2 615.4h0M351.4 615.3h0M452.5 615.7h0M371.4 615.4h0M337.5 615.6h0M210.6 615.9h0M140.0 615.6h0M157.5 615.9h0M421.4 615.3h0M281.1 615.6h0M364.3 615.8h0M241.4 616.0h0M189.7 615.4h0M395.7 615.4h0M189.9 615.7h0M239.2 615.4h0M433.4 615.6h0M386.2 615.5h0M427.7 615.5h0M425.7 615.7h0M446.8 615.8h0M335.5 615.7h0M408.8 615.6h0M161.3 615.9h0M392.7 615.8h0M372.8 615.5h0M280.7 615.9h0M443.9 615.9h0M181.6 615.8h0M310.4 615.6h0M184.0 615.4h0M283.0 615.6h0M216.7 615.6h0M310.4 615.8h0M321.9 615.4h0M419.0 615.6h0M443.1 616.0h0M175.0 615.7h0M445.4 615.6h0M308.2 615.5h0M138.5 615.4h0M169.7 615.5h0M335.1 615.7h0M439.4 615.8h0M247.7 616.0h0M336.6 615.7h0M411.3 615.8h0M247.0 615.7h0M227.4 616.0h0M209.0 616.0h0M150.2 615.3h0M310.1 615.4h0M295.1 615.4h0M402.9 615.8h0M353.0 615.9h0M453.7 615.8h0M362.5 615.3h0M145.2 615.6h0M446.2 615.5h0M315.1 615.3h0M265.1 615.9h0M322.0 615.9h0M133.4 615.4h0M187.7 615.9h0M162.4 616.0h0M216.6 615.9h0M297.8 615.5h0M445.3 615.6h0M357.3 615.3h0M400.8 616.0h0M165.3 615.8h0M217.6 615.4h0M248.3 615.8h0M441.1 616.0h0M454.2 615.7h0M342.9 615.4h0M366.7 615.7h0M246.6 615.9h0M212.6 615.4h0M180.9 615.4h0M321.7 615.9h0M181.5 615.7h0M317.1 615.7h0M264.1 615.7h0M134.0 615.3h0M267.4 615.5h0M376.7 615.5h0M398.7 615.5h0M159.4 615.6h0M255.9 615.5h0M379.4 615.5h0M348.3 615.9h0M277.2 615.7h0M431.3 615.7h0M188.3 615.3h0M156.0 615.5h0M158.2 615.8h0M267.7 615.5h0M296.7 616.0h0M209.1 615.4h0M229.0 615.5h0M426.8 615.8h0M269.4 615.4h0M144.0 615.4h0M406.4 615.8h0M180.3 615.7h0M148.2 615.7h0M238.8 615.4h0M372.0 615.8h0M296.2 615.4h0M348.2 615.6h0M345.5 615.4h0M424.4 615.3h0M202.0 615.6h0M194.0 615.4h0M354.0 616.0h0M238.7 615.5h0M348.5 615.5h0M260.2 615.8h0M270.0 615.4h0M152.2 615.7h0M453.2 615.9h0M161.8 615.7h0M288.9 615.4h0" stroke="#000" stroke-width="2.6" stroke-linecap="round" fill="none"/>
<path d="M348.3 628.3h0M393.7 628.2h0M434.7 628.6h0M284.0 628.1h0M287.4 628.1h0M353.5 628.5h0M318.3 628.7h0M143.9 628.5h0M391.1 628.1h0M234.5 628.0h0M319.9 628.5h0M243.0 628.5h0M249.1 628.5h0M219.7 628.7h0M272.4 628.0h0M159.0 628.5h0M412.0 628.4h0M179.9 628.6h0M363.7 628.1h0M253.6 628.5h0M130.3 628.0h0M244.8 628.6h0M455.1 628.2h0M426.5 628.6h0M412.2 628.4h0M446.3 628.5h0M439.2 628.4h0M193.4 628.4h0M287.1 628.2h0M251.4 628.4h0M321.5 628.2h0M219.9 628.4h0M294.0 628.3h0M346.4 628.1h0M303.1 628.2h0M381.1 628.5h0M384.7 628.4h0M210.6 628.6h0M296.2 628.3h0M224.1 628.3h0M361.0 628.6h0M287.0 628.5h0M198.8 628.3h0M246.2 628.2h0M246.7 628.5h0M369.1 628.1h0M205.6 628.5h0M343.3 628.5h0M336.9 628.5h0M218.4 628.0h0M247.1 628.0h0M443.9 628.4h0M348.4 628.7h0M392.3 628.2h0M239.3 628.1h0M389.4 628.5h0M288.7 628.3h0M217.4 628.3h0M362.1 628.6h0M406.8 628.6h0M272.8 628.3h0M231.9 628.7h0M189.1 628.1h0M221.0 628.6h0M408.1 628.2h0M407.8 628.6h0M268.9 628.1h0M381.9 628.3h0M168.1 628.6h0M272.9 628.3h0M323.9 628.2h0M135.7 628.3h0M253.2 628.0h0M250.7 628.5h0M238.0 628.5h0M333.5 628.1h0M135.8 628.5h0M329.0 628.2h0M194.6 628.6h0M426.6 628.2h0M320.8 628.4h0M234.5 628.0h0M235.5 628.5h0M326.1 628.4h0M169.1 628.1h0M231.0 628.3h0M247.9 628.6h0M167.1 628.7h0M207.8 628.6h0M208.8 628.4h0M252.5 628.0h0M389.7 628.6h0M217.2 628.5h0M285.9 628.7h0M146.9 628.3h0M203.6 628.4h0M383.6 628.6h0M308.5 628.3h0M390.7 628.1h0M214.2 628.5h0M273.2 628.7h0M158.9 628.3h0M198.6 628.0h0M159.7 628.1h0M249.8 628.3h0M295.2 628.2h0M358.8 628.4h0M450.4 628.1h0M296.2 628.3h0M250.8 628.6h0M197.7 628.6h0M246.2 628.2h0M330.3 628.4h0M222.0 628.1h0M441.6 628.3h0M166.5 628.5h0M303.2 628.2h0M236.6 628.6h0M239.9 628.3h0M442.2 628.3h0M260.6 628.1h0M345.9 628.5h0M275.1 628.3h0M205.2 628.6h0M278.7 628.6h0M251.8 628.5h0M138.5 628.2h0M443.4 628.5h0M350.2 628.3h0M283.7 628.1h0M185.7 628.5h0M356.1 628.2h0M340.0 628.1h0M329.7 628.1h0M295.8 628.2h0M309.3 628.1h0M287.3 628.4h0M173.2 628.2h0M351.1 628.4h0M330.9 628.5h0M316.1 628.2h0M273.9 628.6h0M314.5 628.5h0M248.2 628.3h0M446.4 628.6h0M342.7 628.1h0M329.3 628.0h0M434.7 628.7h0M367.3 628.2h0M405.8 628.1h0M400.0 628.4h0M134.3 628.6h0M273.1 628.6h0M354.4 628.4h0M411.3 628.1h0M423.1 628.2h0M137.6 628.2h0M150.7 628.1h0M333.3 628.1h0M181.3 628.2h0" stroke="#000" stroke-width="2.6" stroke-linecap="round" fill="none"/>
<rect x="128.1" y="1020.8" width="329.4" height="2.5" fill="#d80030"/>
<rect x="128.1" y="1023" width="329.4" height="28.6" fill="#00f"/>
<path d="M220.3 1051.6h0M425.3 1051.5h0M453.0 1051.3h0M389.5 1051.2h0M432.2 1051.5h0M368.7 1051.1h0M159.0 1051.6h0M309.8 1051.4h0M411.1 1051.1h0M357.9 1051.3h0M386.3 1051.3h0M193.5 1051.6h0M221.1 1051.4h0M401.1 1051.1h0M356.5 1051.2h0M202.4 1051.1h0M441.3 1051.2h0M295.9 1051.3h0M137.8 1051.5h0M372.9 1051.5h0M245.9 1051.1h0M242.8 1051.4h0M344.4 1051.2h0M300.8 1051.1h0M429.6 1051.3h0M294.9 1051.5h0M193.8 1051.4h0M244.7 1051.5h0M160.0 1051.2h0M337.1 1051.3h0M252.4 1051.3h0M200.3 1051.3h0M129.7 1051.5h0M212.2 1051.5h0M309.8 1051.4h0M333.9 1051.1h0M383.4 1051.2h0M411.4 1051.5h0M351.0 1051.5h0M272.0 1051.4h0M440.9 1051.1h0M162.1 1051.2h0M295.8 1051.1h0M201.5 1051.5h0M256.1 1051.1h0M189.0 1051.3h0M191.3 1051.3h0M305.0 1051.3h0M293.9 1051.5h0M134.6 1051.6h0M194.3 1051.0h0M380.2 1051.3h0M305.1 1051.1h0M384.7 1051.2h0M367.0 1051.1h0M316.5 1051.4h0M250.7 1051.3h0M150.4 1051.4h0M355.3 1051.1h0M309.3 1051.4h0M162.2 1051.5h0M413.9 1051.0h0M210.4 1051.1h0M211.8 1051.1h0M289.2 1051.2h0M227.3 1051.3h0M250.7 1051.5h0M365.6 1051.1h0M202.2 1051.0h0M236.8 1051.1h0M357.2 1051.5h0M454.9 1051.1h0M141.1 1051.5h0M263.8 1051.6h0M257.5 1051.2h0M152.9 1051.6h0M296.7 1051.3h0M272.1 1051.5h0M400.9 1051.3h0M187.4 1051.2h0M420.7 1051.2h0M345.4 1051.3h0M280.1 1051.3h0M209.3 1051.3h0M412.0 1051.0h0M249.8 1051.5h0M449.2 1051.0h0M334.3 1051.4h0M405.0 1051.3h0M172.0 1051.2h0M362.3 1051.4h0M196.0 1051.4h0M344.0 1051.4h0M136.3 1051.3h0M235.4 1051.4h0M239.3 1051.1h0M348.4 1051.2h0M387.8 1051.2h0M307.7 1051.5h0M166.9 1051.4h0M151.4 1051.6h0M137.3 1051.4h0M249.7 1051.1h0M258.3 1051.3h0M264.9 1051.1h0M300.2 1051.2h0M445.6 1051.2h0M271.5 1051.1h0M446.1 1051.2h0M340.6 1051.5h0M257.8 1051.5h0M220.3 1051.1h0M142.9 1051.3h0M415.1 1051.1h0M273.2 1051.5h0M219.5 1051.1h0M299.0 1051.3h0M436.2 1051.5h0M207.0 1051.3h0M265.3 1051.0h0M274.5 1051.5h0M228.2 1051.4h0M361.5 1051.0h0M431.5 1051.1h0M227.8 1051.4h0M135.4 1051.2h0M170.5 1051.3h0M134.3 1051.1h0M201.9 1051.0h0M158.7 1051.1h0M298.5 1051.1h0M397.8 1051.3h0M211.5 1051.1h0M403.8 1051.0h0M371.9 1051.1h0M438.2 1051.2h0M324.6 1051.5h0M162.0 1051.0h0M356.0 1051.4h0M365.0 1051.2h0M291.7 1051.1h0M272.1 1051.2h0M320.7 1051.2h0M219.0 1051.4h0M157.1 1051.5h0M291.3 1051.1h0M166.7 1051.3h0M294.0 1051.4h0M251.4 1051.2h0M421.2 1051.2h0M450.1 1051.5h0M453.1 1051.6h0M213.3 1051.5h0M329.3 1051.1h0M455.5 1051.4h0M394.0 1051.3h0M155.1 1051.5h0M186.5 1051.2h0M330.7 1051.1h0M280.4 1051.4h0M160.5 1051.4h0M163.3 1051.3h0M341.6 1051.4h0M143.2 1051.1h0M443.3 1051.2h0M268.1 1051.2h0M356.9 1051.4h0M341.9 1051.2h0M315.5 1051.3h0M190.6 1051.6h0M444.8 1051.5h0M453.9 1051.3h0M403.7 1051.1h0M372.1 1051.4h0M436.2 1051.5h0M416.8 1051.2h0M386.7 1051.3h0M231.3 1051.2h0M390.5 1051.5h0M405.5 1051.4h0M184.8 1051.1h0M314.9 1051.1h0M239.2 1051.1h0M179.7 1051.4h0M202.3 1051.5h0M236.8 1051.5h0M228.1 1051.2h0M258.3 1051.0h0M271.6 1051.2h0M133.2 1051.5h0M251.9 1051.0h0M443.3 1051.1h0M211.9 1051.0h0M161.7 1051.4h0M319.5 1051.3h0M209.6 1051.2h0M446.5 1051.2h0M452.8 1051.5h0M169.9 1051.5h0M136.0 1051.4h0" stroke="#00f" stroke-width="2.0" stroke-linecap="round" fill="none"/>
<rect x="128.1" y="1181.2" width="329.9" height="13" fill="#000" rx="1"/>
<rect x="128.1" y="1190" width="15" height="7" fill="#000"/>
<path d="M832.7 269.4h0M748.6 271.0h0M620.6 267.3h0M656.7 265.4h0M632.5 269.6h0M756.1 270.5h0M774.0 268.1h0M869.0 271.0h0M754.1 264.4h0M870.9 265.0h0M603.7 264.5h0M799.3 272.6h0M779.6 268.9h0M874.0 270.5h0M714.8 266.2h0M816.5 264.3h0M606.1 268.4h0M832.5 263.4h0M791.9 272.0h0M611.9 261.8h0M730.2 264.5h0M877.9 273.5h0M714.8 270.7h0M775.1 262.3h0M885.2 262.4h0M595.2 266.1h0M576.4 266.5h0M704.0 272.9h0M704.5 271.5h0M823.0 267.9h0M647.6 264.1h0M729.7 265.3h0M779.6 266.8h0M675.2 268.2h0M893.2 262.7h0M679.3 260.2h0M601.0 260.7h0M707.5 271.3h0M796.4 273.0h0M841.5 267.9h0M758.5 260.2h0M694.7 263.5h0M771.5 260.9h0M746.1 265.1h0M729.9 265.5h0M603.7 269.9h0M829.7 268.1h0M608.1 268.1h0M852.5 273.3h0M816.1 260.6h0M855.0 269.0h0M660.1 272.4h0M838.0 272.1h0M650.7 267.8h0M693.2 264.0h0M817.0 268.3h0M678.0 267.3h0M871.1 267.7h0M866.3 267.6h0M891.8 260.4h0M719.5 267.5h0M805.9 273.1h0M772.4 266.5h0M775.9 267.2h0M798.8 272.8h0M575.1 264.3h0M854.3 260.8h0M826.4 260.4h0M780.4 270.8h0M647.7 265.1h0M643.9 269.5h0M741.8 268.2h0M676.0 267.9h0M879.6 270.5h0M878.7 263.3h0M737.6 265.2h0M682.6 270.8h0M627.2 267.5h0M821.2 272.6h0M576.6 263.7h0M730.2 272.6h0M623.4 271.4h0M699.2 267.4h0M871.0 260.9h0M677.3 262.1h0M613.9 264.1h0M797.4 267.8h0M610.0 270.8h0M734.8 261.9h0M836.2 271.1h0M640.8 272.7h0M832.9 263.1h0M570.9 271.7h0M838.0 261.3h0M818.7 270.4h0M775.7 271.2h0M889.4 264.4h0M840.5 272.4h0M672.1 269.2h0M792.1 271.5h0M754.1 263.7h0M652.1 267.3h0M614.4 271.6h0M858.4 263.3h0M796.3 269.1h0M610.0 270.5h0M818.7 264.1h0M602.4 263.8h0M820.4 266.3h0M834.5 262.2h0M605.1 264.7h0M855.4 262.2h0M594.4 270.2h0M600.2 269.0h0M597.6 263.3h0M785.4 271.8h0M703.1 266.1h0M580.7 264.6h0M649.0 270.6h0M801.8 270.6h0M742.7 269.4h0M611.8 265.2h0M665.4 263.8h0M809.9 262.9h0M675.9 263.8h0M850.3 268.6h0M726.2 265.1h0M868.9 272.7h0M716.2 267.7h0M849.8 263.5h0M654.3 261.4h0M733.1 270.4h0M621.3 265.8h0M891.3 266.5h0M694.4 271.3h0M859.4 265.1h0M610.6 268.6h0M810.3 272.5h0M784.3 264.2h0M737.3 263.9h0M715.0 266.3h0M865.9 272.2h0M870.5 266.5h0M882.8 261.9h0M868.8 268.6h0M853.0 265.6h0M891.4 260.3h0M845.0 271.1h0M691.7 271.2h0M639.8 270.2h0M722.2 265.5h0M634.2 270.8h0M807.2 261.2h0M887.2 263.0h0M692.1 265.6h0M757.2 272.0h0M876.5 268.5h0M688.9 261.5h0M592.9 267.0h0M759.4 266.0h0M888.6 265.6h0M684.2 265.6h0M626.2 272.7h0M761.9 267.3h0M708.4 263.4h0M672.7 266.7h0M715.1 273.2h0M752.9 262.8h0M588.0 262.1h0M682.5 270.6h0M858.4 263.2h0M823.2 266.0h0M744.6 267.2h0M584.4 260.9h0M786.7 269.3h0M693.7 272.4h0M836.0 264.1h0M592.3 267.5h0M782.4 263.0h0M584.8 266.6h0M581.7 269.9h0M773.1 263.8h0M714.9 263.1h0M630.8 262.4h0M834.6 266.1h0M802.2 264.7h0M831.8 268.0h0M782.3 265.3h0M752.5 262.6h0M885.8 269.1h0M743.0 268.6h0M603.0 264.5h0M645.3 271.4h0M574.8 266.0h0M851.8 270.6h0M803.3 264.1h0M645.8 269.5h0M667.3 269.8h0M683.9 270.3h0M756.1 271.0h0M889.7 265.1h0M889.9 260.1h0M854.6 260.4h0M747.1 265.2h0M819.8 264.3h0M638.0 270.6h0M748.7 270.2h0M729.0 260.5h0M820.2 262.9h0M723.3 260.0h0M654.4 269.0h0M818.0 268.6h0M714.1 269.9h0M787.1 262.8h0M743.8 268.1h0M806.5 262.7h0M671.2 264.6h0M601.7 264.7h0M806.8 267.8h0M626.6 269.9h0M608.4 270.1h0M618.4 261.3h0M652.1 267.0h0M658.0 271.9h0M874.4 263.8h0M813.3 269.4h0M752.2 263.4h0M878.0 272.9h0M574.9 264.5h0M674.5 262.7h0M709.9 272.1h0M578.3 271.3h0M670.6 260.2h0M861.8 263.7h0M639.3 261.6h0M689.5 261.6h0M628.8 263.4h0M757.8 266.0h0M669.3 267.1h0M821.2 269.8h0M681.8 272.4h0M826.7 267.6h0M724.5 264.4h0M614.0 272.0h0M767.5 261.3h0M870.2 272.0h0M581.5 269.5h0M647.7 267.2h0M840.6 264.7h0M731.9 269.0h0M632.9 268.5h0M708.2 273.3h0M631.3 269.6h0M583.9 263.7h0M608.7 262.0h0M741.6 262.4h0M827.9 261.3h0M772.3 271.6h0M611.6 262.9h0M818.2 266.3h0M872.3 264.6h0M699.4 272.9h0M681.9 273.0h0M859.0 262.7h0M747.3 272.7h0M608.6 271.5h0M821.2 270.1h0M765.1 261.3h0M880.8 261.4h0M824.2 269.8h0M673.3 269.2h0M703.5 270.1h0M584.6 272.6h0M695.0 270.8h0M723.2 271.0h0M668.1 267.4h0M578.8 266.6h0M596.2 271.6h0M789.8 265.7h0M886.0 272.8h0M880.3 261.1h0M798.5 269.8h0M766.7 260.2h0M869.7 265.9h0M763.2 271.0h0M659.7 260.4h0M869.5 263.7h0M583.9 261.8h0M892.6 270.0h0M638.5 262.0h0M861.2 269.0h0M759.3 261.8h0M704.4 272.8h0M571.7 265.7h0M589.1 273.5h0M604.4 272.9h0M842.9 269.9h0M584.3 269.4h0M730.2 266.6h0M617.6 266.9h0M830.2 261.8h0M854.2 265.7h0M656.7 263.2h0M719.4 268.7h0M755.1 272.0h0M736.2 266.9h0M890.7 262.9h0M576.0 264.4h0M672.0 261.7h0M706.0 260.5h0M868.7 266.5h0M855.1 269.4h0M806.9 270.2h0M668.2 269.8h0M637.3 267.5h0M763.3 270.5h0M624.9 264.6h0M837.4 270.9h0M887.2 261.6h0M638.6 261.4h0M804.9 270.1h0M780.4 270.5h0M737.6 267.6h0M868.7 268.8h0M782.9 267.9h0M730.5 270.2h0M755.9 261.7h0M708.5 265.7h0M710.5 267.6h0M687.7 265.3h0M708.8 265.0h0M885.2 261.2h0M576.1 269.7h0M698.5 266.1h0M762.2 265.0h0M648.0 260.2h0M853.5 272.7h0M663.2 266.3h0M675.4 260.8h0M859.6 271.3h0M648.6 263.4h0M796.6 270.8h0M722.6 265.2h0M646.2 270.8h0M850.1 271.6h0M607.6 268.0h0M889.5 269.7h0M719.3 262.0h0M590.2 269.9h0M592.8 270.9h0M786.1 266.4h0M859.2 272.6h0M770.2 261.3h0M761.1 265.7h0M651.4 272.5h0M807.0 261.6h0M644.7 264.6h0M756.1 264.4h0M712.9 271.0h0M629.4 269.7h0M677.6 272.8h0M878.7 264.4h0M766.8 261.5h0M703.5 268.4h0M777.2 264.6h0M581.6 261.7h0M752.0 262.3h0M669.7 268.3h0M862.2 267.0h0M653.0 267.9h0M659.8 270.6h0M621.1 263.5h0M712.6 272.3h0M624.1 262.6h0M613.2 262.9h0M678.1 265.3h0M816.5 265.5h0M724.4 265.4h0M821.2 272.2h0M708.3 272.4h0M651.7 273.2h0M740.7 269.2h0M694.0 263.7h0M614.3 272.0h0M687.0 269.4h0M719.7 267.1h0M637.6 262.4h0M679.4 269.2h0M746.5 260.0h0M800.7 265.8h0M592.9 263.5h0M639.1 271.1h0M748.6 264.4h0M651.1 263.9h0M661.3 264.7h0M826.5 270.6h0M796.6 271.9h0M782.3 261.5h0M585.0 262.2h0M654.1 267.1h0M836.7 267.9h0M709.7 263.3h0M888.4 270.2h0M681.1 260.6h0M888.4 263.5h0M845.0 261.6h0M782.0 264.8h0M858.3 264.0h0M603.2 262.7h0M831.4 273.2h0M778.7 269.2h0M661.9 263.7h0M598.7 273.3h0M584.6 268.3h0M683.9 262.5h0M711.7 272.6h0M650.8 262.2h0M774.4 268.9h0M735.9 262.4h0M853.6 261.5h0M627.0 263.3h0M736.9 266.4h0M749.8 269.8h0M860.0 266.3h0M584.2 271.2h0M576.6 264.3h0M616.9 268.1h0M823.7 261.7h0M665.9 271.5h0M793.7 261.5h0M792.8 270.7h0M702.8 262.1h0M783.9 264.3h0M613.9 262.2h0M700.9 261.7h0M695.3 267.4h0M749.3 265.5h0M829.6 261.2h0M677.4 272.6h0M850.4 272.4h0M818.3 267.2h0M825.5 267.7h0M608.7 263.4h0M602.1 271.8h0M674.8 265.5h0M744.8 261.4h0M799.1 270.7h0M828.3 271.9h0M673.3 262.0h0M817.1 269.4h0M690.9 264.6h0M620.3 271.2h0M719.7 271.0h0M680.6 264.3h0M736.7 270.1h0M856.3 264.8h0M795.1 265.4h0M849.5 270.3h0M750.3 264.9h0M659.2 271.9h0M829.9 264.1h0M598.0 262.6h0M882.7 260.5h0M832.8 267.1h0M749.9 267.3h0M703.4 267.5h0M599.7 272.4h0M603.9 261.9h0M788.3 268.7h0M831.7 269.4h0M871.9 260.7h0M574.0 263.2h0M822.7 262.1h0M742.6 270.4h0M621.2 267.1h0M862.2 270.1h0M699.4 266.5h0M660.5 273.0h0M823.9 269.2h0M669.1 269.9h0M728.2 270.8h0M688.4 271.9h0M792.2 266.1h0M752.8 270.9h0M741.9 273.0h0M572.9 272.1h0M801.8 266.6h0M845.7 262.0h0M679.9 269.6h0M837.1 265.0h0M892.4 268.8h0M585.3 261.7h0M595.3 267.7h0M674.8 263.5h0M715.5 261.1h0M864.8 271.3h0M751.4 266.0h0M670.4 268.1h0M682.9 273.2h0M880.1 269.8h0M838.0 261.0h0M610.6 264.7h0M611.4 265.7h0M889.8 271.3h0M880.9 263.0h0M642.4 260.3h0M659.2 260.8h0M741.6 264.1h0M788.7 267.6h0M764.0 264.0h0M808.5 269.3h0M801.8 266.4h0M720.8 263.9h0M583.6 266.3h0M770.1 262.5h0M849.0 271.9h0M846.9 271.0h0M728.7 262.4h0M658.4 270.0h0M889.3 261.5h0M572.6 264.8h0M683.7 268.1h0M607.0 271.4h0M680.0 272.3h0M677.2 264.1h0M627.5 273.0h0M761.4 271.1h0M591.0 267.3h0M807.9 273.3h0M873.8 261.4h0M691.4 273.5h0M743.7 272.9h0M652.7 260.3h0M876.9 263.6h0M752.1 264.9h0M757.6 272.6h0M877.1 271.8h0M653.7 271.1h0M576.6 265.6h0M876.2 263.4h0M689.5 267.9h0M647.2 269.6h0M781.8 261.3h0M868.4 261.0h0M796.1 264.7h0M617.1 261.1h0M893.6 270.8h0M719.1 270.7h0M884.5 272.5h0M743.0 263.7h0M738.4 273.2h0M807.0 269.0h0M843.5 265.5h0M751.5 271.5h0M635.1 271.6h0M578.6 267.3h0M756.7 262.0h0M869.1 265.9h0M630.5 265.6h0M762.0 265.8h0M571.5 261.2h0M801.5 261.8h0M653.3 270.9h0M849.5 271.9h0M627.1 260.1h0M814.8 268.1h0M688.6 260.3h0M710.3 263.2h0M760.9 273.2h0M638.4 261.0h0M795.4 261.5h0M642.8 265.9h0M889.8 264.4h0M672.8 266.4h0M623.1 265.4h0M797.3 264.4h0M828.4 262.5h0M603.5 268.5h0M717.2 272.4h0M604.6 270.1h0M787.4 265.0h0M612.1 268.3h0M816.0 266.4h0M723.5 269.3h0M767.9 265.7h0M630.8 266.3h0M748.6 272.1h0M892.6 267.5h0M677.0 263.0h0M774.7 270.0h0M650.8 269.3h0M894.0 265.3h0M874.5 265.9h0M781.7 271.7h0M636.4 264.7h0M889.2 260.9h0M669.7 266.4h0M811.7 268.5h0M871.6 269.0h0M571.1 261.0h0M582.4 265.8h0M579.4 267.1h0M775.4 262.7h0M847.7 265.6h0M881.3 264.8h0M771.3 267.3h0M655.7 270.5h0M571.9 263.4h0M674.4 271.9h0M732.6 260.5h0M667.4 268.2h0M832.4 261.5h0M822.9 265.3h0M740.3 265.7h0M712.5 273.4h0M868.1 272.4h0M808.8 269.5h0M616.4 260.5h0M839.6 269.1h0M774.7 264.2h0M657.1 272.4h0M742.8 260.3h0M680.8 264.7h0M592.5 273.2h0M862.9 271.0h0M572.0 265.6h0M606.7 269.8h0M832.6 270.7h0M826.9 261.6h0M574.9 261.3h0M843.3 271.2h0M737.7 263.2h0M848.0 261.6h0M675.8 260.0h0M888.8 265.6h0M820.2 270.8h0M758.7 273.3h0M821.3 272.5h0M882.4 261.1h0M813.6 263.1h0M675.7 264.6h0M890.6 260.8h0M711.4 261.7h0M893.5 266.7h0M797.8 267.0h0M818.9 264.5h0M704.4 270.0h0M798.0 272.0h0M670.7 271.5h0M809.2 267.7h0M702.7 267.7h0M595.5 261.3h0M671.4 261.7h0M586.4 269.7h0M807.3 268.3h0M637.3 269.7h0M837.9 268.4h0M644.2 267.6h0M698.4 263.6h0M618.7 271.7h0M775.3 272.6h0M626.3 263.6h0M735.5 260.8h0M668.4 267.3h0M726.6 272.3h0M757.5 268.6h0M760.0 270.6h0M689.2 260.0h0M888.0 270.7h0M611.6 261.5h0M642.6 268.9h0M613.0 260.3h0M730.6 260.1h0M654.4 265.2h0M637.0 260.0h0M654.8 263.3h0M675.6 265.6h0M687.1 264.4h0M576.8 271.3h0M809.6 266.7h0M571.5 263.1h0M862.1 266.2h0M637.1 271.1h0M859.2 261.6h0M732.8 267.6h0M608.6 264.3h0M770.7 269.1h0M774.0 268.4h0M692.9 260.9h0M575.8 271.3h0M850.5 272.2h0M595.2 270.4h0M626.2 264.7h0M635.4 271.6h0M835.7 271.2h0M694.1 272.6h0M654.8 267.8h0M788.6 263.2h0M694.2 261.4h0M828.5 262.5h0M614.6 263.8h0M777.8 268.6h0M740.4 271.5h0M814.2 262.8h0M743.7 262.3h0M648.9 262.0h0M595.5 264.7h0M857.5 268.9h0M599.0 263.0h0M762.1 267.2h0M579.2 261.3h0M753.8 268.1h0M596.6 270.4h0M648.4 268.0h0M742.1 264.6h0M876.9 265.3h0M707.6 267.3h0M842.4 273.3h0M819.7 267.3h0M802.6 268.6h0M881.1 273.1h0M816.6 262.9h0M754.6 265.9h0M645.5 270.5h0M642.2 269.6h0M729.0 265.8h0M799.4 269.8h0M891.0 273.5h0M829.5 263.6h0M787.2 266.7h0M875.0 266.0h0M686.3 260.3h0M722.8 267.2h0M670.4 261.4h0M727.3 261.0h0M626.2 266.0h0M683.3 266.8h0M742.2 265.2h0M613.8 260.2h0M751.7 273.1h0M661.7 264.7h0M674.0 270.0h0M730.3 270.7h0M572.3 261.8h0M637.3 265.0h0M699.9 265.2h0M883.2 265.9h0M756.9 273.0h0M778.4 268.0h0M838.7 264.5h0M582.2 272.9h0M743.6 267.9h0M592.2 270.1h0M691.6 268.7h0M662.4 272.4h0M690.0 263.7h0M860.0 263.0h0M658.3 266.6h0M888.1 261.6h0M638.7 270.7h0M594.9 265.6h0M824.1 269.6h0M827.3 261.6h0M858.7 264.8h0M834.2 266.4h0M859.1 266.5h0M654.1 262.0h0M731.3 260.7h0M623.7 271.8h0M756.3 271.7h0M619.4 266.5h0M722.3 261.5h0M655.9 272.4h0M804.8 266.9h0M767.9 271.6h0M879.4 268.0h0M586.9 271.8h0M623.9 263.2h0M615.0 266.9h0M759.2 266.2h0M722.7 261.9h0M803.0 267.3h0M670.6 271.3h0M874.6 272.5h0M889.4 260.9h0M696.4 266.1h0M653.7 270.0h0M863.5 261.9h0M734.4 273.1h0M858.3 266.1h0M604.5 266.2h0M738.1 270.6h0M630.8 263.8h0M889.3 260.2h0M768.4 261.3h0M813.5 265.7h0M870.2 263.0h0M854.6 263.1h0M586.0 261.2h0M595.2 265.2h0M885.2 264.8h0M802.6 260.5h0M737.6 267.3h0M602.3 267.8h0M715.0 264.4h0M839.4 269.3h0M609.6 261.4h0M587.6 263.6h0M776.7 273.1h0M884.2 271.7h0M610.9 270.7h0M817.3 266.4h0M892.9 268.1h0M608.9 262.9h0M612.6 268.2h0M772.6 271.6h0M573.9 260.1h0M885.5 263.5h0M656.1 271.7h0M606.6 270.7h0M860.9 267.6h0M767.6 260.1h0M767.0 268.3h0M820.2 267.0h0M607.5 263.0h0M782.0 261.1h0M605.2 263.4h0M828.4 267.4h0M686.1 273.0h0M758.7 263.2h0M753.6 271.5h0M689.9 265.9h0M757.5 273.3h0M777.3 262.4h0M759.0 264.3h0M723.8 269.6h0M577.1 266.9h0M672.3 268.1h0M836.3 266.3h0M774.5 263.9h0M653.5 266.9h0M743.0 263.0h0M818.3 266.7h0M685.7 263.4h0M841.5 272.2h0M874.3 263.3h0M593.6 268.5h0M578.6 271.6h0M790.4 264.5h0M713.5 269.2h0M622.5 264.9h0M825.3 269.2h0M760.1 261.4h0M640.9 263.5h0M580.8 268.6h0M756.0 272.5h0M750.1 272.4h0M722.4 267.0h0M661.7 266.3h0M873.8 266.6h0M571.3 264.8h0M634.6 268.4h0M735.4 266.4h0M870.7 270.3h0M598.9 260.4h0M797.4 268.1h0M781.8 266.8h0M582.2 266.1h0M841.0 268.1h0M584.9 261.7h0M863.5 267.4h0M623.9 269.5h0M869.9 271.7h0M779.5 270.9h0M598.9 266.3h0M832.9 264.6h0M617.2 271.7h0M798.7 260.1h0M591.2 267.5h0M879.4 268.3h0M854.2 261.4h0M757.0 262.5h0M678.1 262.0h0M720.7 260.6h0M783.1 268.7h0M863.5 270.4h0M595.1 271.7h0M746.3 272.6h0M729.9 261.1h0M798.5 262.3h0M889.1 267.3h0M862.7 266.6h0M676.3 268.9h0M800.4 266.2h0M659.8 265.7h0M802.0 263.1h0M621.7 266.5h0M783.6 260.9h0M658.5 273.1h0M657.1 270.4h0" stroke="#f00" stroke-width="3.2" stroke-linecap="round" fill="none"/>
<path d="M669.5 272.5h0M728.0 276.8h0M822.2 272.3h0M798.3 275.4h0M726.7 275.7h0M739.5 273.0h0M795.7 272.7h0M670.9 276.7h0M754.5 274.8h0M800.4 274.7h0M694.9 275.0h0M577.8 273.9h0M583.4 277.5h0M864.5 275.6h0M621.8 276.7h0M662.2 276.4h0M781.4 275.3h0M810.6 273.5h0M840.6 275.0h0M815.7 276.6h0M653.0 274.3h0M687.6 272.4h0M854.0 275.8h0M729.2 275.0h0M855.4 272.4h0M686.4 275.8h0M743.7 274.7h0M654.3 273.2h0M787.6 273.9h0M874.1 277.0h0" stroke="#f00" stroke-width="3.0" stroke-linecap="round" fill="none"/>
<rect x="569.6" y="187.4" width="325.9" height="74.1" fill="#00f"/>
<path d="M884.7 261.5h0M737.1 260.6h0M686.9 260.4h0M733.0 265.3h0M817.4 262.0h0M660.0 265.1h0M587.6 264.6h0M847.7 260.4h0M878.5 263.6h0M696.5 262.3h0M767.6 262.9h0M851.5 264.9h0M676.3 260.0h0M822.7 263.6h0M782.6 260.4h0M595.1 264.9h0M688.4 262.6h0M885.7 261.1h0M776.2 260.3h0M752.2 264.1h0M621.6 264.2h0M884.1 264.5h0M826.5 265.2h0M802.6 263.0h0M837.5 264.4h0M774.2 263.7h0M628.3 261.9h0M675.9 264.7h0M823.6 261.6h0M892.3 260.3h0M590.6 261.8h0M595.6 265.2h0M686.7 262.1h0M847.3 262.9h0M774.7 262.4h0M719.6 265.3h0M660.4 262.9h0M725.5 260.8h0M618.0 262.8h0M829.1 262.4h0M589.7 265.1h0M615.1 264.9h0M585.2 263.6h0M617.9 261.4h0M707.0 264.2h0M711.5 262.3h0M700.8 262.9h0M661.5 265.2h0M632.2 260.7h0M748.2 261.9h0M804.1 260.2h0M789.6 262.0h0M870.8 261.7h0M710.7 261.7h0M743.3 261.5h0M787.4 262.3h0M799.8 261.6h0M718.4 263.1h0M803.2 263.6h0M709.5 260.5h0M606.9 260.8h0M630.1 261.0h0M784.9 261.9h0M864.5 261.3h0M650.1 261.0h0M617.3 263.8h0M757.8 261.4h0M832.9 263.7h0M709.4 263.3h0M783.1 262.4h0M600.3 262.0h0M876.8 262.1h0M777.4 260.5h0M821.1 264.8h0M691.4 262.0h0M736.6 261.4h0M638.5 260.7h0M793.0 262.8h0M880.1 265.3h0M853.6 265.2h0M841.9 260.1h0M612.6 265.4h0M853.4 263.4h0M771.2 262.4h0M708.1 260.8h0M748.0 261.5h0M610.1 264.8h0M756.6 264.8h0M665.8 263.2h0M660.2 264.6h0M638.3 263.6h0M750.2 261.8h0M596.5 262.7h0M739.9 264.5h0M636.4 261.0h0M669.5 264.4h0M645.8 263.5h0M581.0 260.5h0M799.9 262.7h0M607.1 262.6h0M875.0 262.2h0M750.9 262.3h0M734.2 260.2h0M856.4 263.2h0M683.0 261.6h0M631.1 265.1h0M842.8 262.1h0M765.8 263.0h0M635.4 260.2h0M808.6 260.9h0M753.5 260.1h0M577.7 260.9h0M782.2 263.4h0M891.4 263.6h0M739.6 260.1h0M880.7 262.7h0M848.3 260.2h0M840.9 262.6h0M640.8 262.2h0M594.9 263.2h0M641.5 263.9h0M626.8 263.8h0M770.5 263.9h0M878.3 261.6h0M791.7 262.2h0M860.0 264.5h0M817.8 263.3h0M655.3 265.0h0M884.2 265.2h0M680.1 264.5h0M790.4 264.6h0M830.2 262.5h0M698.5 264.4h0M782.5 263.0h0M853.4 260.2h0M574.9 262.6h0M602.1 264.6h0M599.1 264.9h0M643.4 260.7h0M814.6 263.7h0M703.4 263.3h0M749.6 265.2h0M734.9 263.0h0M720.2 262.3h0M794.0 260.6h0M794.7 265.1h0M817.0 263.0h0M685.0 260.5h0M600.5 263.0h0M855.5 264.8h0M630.0 264.1h0M831.9 262.6h0M848.4 261.0h0M679.2 262.8h0M805.8 262.5h0M668.4 264.8h0M697.5 262.3h0M643.0 262.7h0M799.2 262.0h0M784.9 262.7h0M574.4 265.3h0M663.8 263.0h0M881.0 261.1h0M591.3 261.1h0M620.1 264.7h0M738.0 260.2h0M658.5 262.8h0M627.0 261.7h0M863.4 262.4h0M646.1 263.3h0M607.1 262.9h0M780.3 260.5h0M748.2 261.7h0M811.7 263.4h0M865.0 263.3h0M629.8 261.0h0M798.4 264.5h0M590.8 262.3h0M662.2 262.6h0M853.0 263.1h0M811.5 264.2h0M660.5 263.4h0M692.0 262.6h0M742.3 263.7h0M625.1 264.6h0M622.7 261.7h0M845.5 265.4h0M689.3 265.2h0M582.7 265.3h0M635.7 260.2h0M817.3 260.9h0M814.1 260.0h0M610.7 262.0h0M597.9 262.6h0M682.6 264.1h0M730.2 265.3h0M843.6 260.9h0M867.5 264.9h0M753.5 262.9h0M625.6 261.8h0M641.8 261.1h0M769.4 261.8h0M819.1 263.2h0M838.4 260.5h0M844.8 262.8h0M775.2 261.3h0M795.9 262.2h0M804.2 263.2h0M616.0 261.7h0M814.0 260.1h0M775.1 263.0h0M802.0 261.8h0M725.0 262.6h0M813.1 260.4h0M735.8 261.4h0M761.4 261.4h0M637.3 261.3h0M860.3 262.0h0M855.5 264.0h0M657.6 263.0h0M573.4 265.1h0M774.8 260.6h0M738.6 262.7h0M787.7 261.6h0M865.1 263.4h0M594.1 264.5h0M856.9 261.7h0M800.9 264.7h0M856.1 260.4h0M841.5 261.4h0M830.2 263.8h0M721.3 265.0h0M830.6 265.5h0M880.9 263.2h0M808.5 263.7h0M700.2 262.7h0M735.0 261.2h0M655.1 264.6h0M844.5 263.8h0M793.5 262.8h0M756.1 263.7h0M573.0 262.4h0M884.5 261.1h0M721.9 260.4h0M653.1 264.5h0M581.2 264.4h0M828.9 264.8h0M653.8 265.1h0M690.9 262.5h0M878.4 263.0h0M791.0 260.6h0M572.1 261.5h0M604.8 264.5h0M651.4 265.3h0M790.2 261.1h0M800.7 261.7h0M741.2 260.4h0M840.2 264.3h0M758.6 263.8h0M680.6 260.7h0M675.9 264.1h0M752.9 260.7h0M648.5 262.6h0M575.3 260.2h0M716.2 260.7h0M858.3 260.7h0M813.1 264.4h0M672.7 263.0h0M891.7 263.4h0M695.9 265.4h0M654.7 265.3h0M670.9 262.3h0M672.8 263.6h0M856.2 263.8h0M629.5 265.4h0M804.6 262.8h0M845.6 260.6h0M764.2 264.3h0M822.0 263.7h0M590.9 262.6h0M657.6 263.3h0M699.1 262.5h0M744.7 263.2h0M858.8 261.6h0M659.6 261.0h0M607.0 264.7h0M868.3 260.7h0M687.2 265.0h0M850.3 265.4h0M891.9 261.7h0M592.1 261.4h0M733.2 260.1h0M652.7 262.6h0M791.3 260.9h0M610.5 261.8h0M600.0 260.7h0M604.0 264.4h0M855.2 260.2h0M831.0 264.6h0M781.3 261.6h0M836.0 260.4h0M585.7 265.3h0M642.2 265.0h0M814.7 260.3h0M601.2 263.6h0M617.9 263.7h0M788.3 261.3h0M724.9 261.2h0M852.6 263.5h0M794.3 263.4h0M590.3 264.9h0M822.9 262.8h0M761.7 262.7h0M815.1 262.9h0M660.5 262.8h0M639.8 260.0h0M739.2 264.8h0M803.5 261.2h0M735.1 263.2h0M758.1 262.5h0M735.5 263.8h0M855.8 262.8h0M824.4 263.7h0M609.3 261.4h0M672.1 261.9h0M729.6 261.6h0M893.6 264.0h0M690.8 263.8h0M869.9 260.9h0M774.3 265.3h0M692.1 264.8h0M830.8 261.8h0M617.3 264.4h0M705.1 261.9h0M720.7 264.0h0M860.0 265.0h0M818.7 261.0h0M690.1 260.0h0M635.5 261.9h0M628.0 262.6h0M613.3 263.6h0M703.7 261.4h0M792.6 261.8h0M578.3 264.6h0M814.7 264.8h0M665.7 261.5h0M796.0 260.8h0M883.5 263.6h0M748.1 260.3h0M662.3 262.3h0M888.0 260.8h0M762.2 260.4h0M885.0 264.1h0M833.6 264.1h0M628.8 261.3h0M583.3 263.0h0M596.9 261.0h0M627.0 265.1h0M826.2 261.6h0M884.9 260.9h0M616.1 262.1h0M831.4 260.5h0M825.9 263.0h0M829.1 261.9h0M584.2 260.5h0M804.7 262.8h0M817.8 261.1h0M661.0 261.2h0M846.0 263.9h0M620.7 264.0h0M583.1 262.6h0M653.8 264.2h0M803.2 263.8h0M634.5 260.2h0M777.8 263.8h0M573.6 264.6h0M861.1 262.0h0M738.6 263.6h0M870.3 263.6h0M737.5 264.2h0M729.2 260.2h0M747.8 262.3h0M679.1 262.2h0M642.2 261.7h0M812.4 264.9h0M718.3 264.7h0M611.2 262.8h0M811.6 264.3h0M695.9 260.9h0M881.6 263.4h0M782.0 261.9h0M607.2 263.1h0M701.6 264.9h0M785.3 264.2h0M755.0 264.1h0M613.9 265.5h0M758.6 263.3h0M632.0 260.5h0M798.9 264.0h0M786.4 261.4h0" stroke="#00f" stroke-width="3.5" stroke-linecap="round" fill="none"/>
<path d="M728.2 268.6h0M778.0 269.5h0M599.5 268.6h0M574.9 267.8h0M743.5 264.4h0M706.2 268.0h0M851.4 264.5h0M735.6 268.8h0M608.4 269.4h0M874.5 266.1h0M638.2 264.9h0M641.7 266.5h0M799.5 269.6h0M751.4 269.7h0M708.8 267.9h0M570.6 266.5h0M578.0 264.8h0M832.4 264.7h0M667.6 267.2h0M740.6 264.2h0M606.4 268.1h0M701.6 264.6h0M725.5 266.2h0M894.2 264.3h0M628.9 264.4h0M749.0 269.8h0M822.3 264.7h0M745.3 266.1h0M887.0 268.2h0M766.2 265.5h0M711.9 267.2h0M693.2 267.4h0M599.8 266.5h0M890.0 266.4h0M734.4 268.5h0M833.6 268.4h0M694.0 268.3h0M635.2 267.7h0M575.8 265.2h0M627.3 266.1h0M809.5 264.1h0M854.3 264.6h0M878.2 269.7h0M769.5 269.0h0M875.2 266.7h0M847.6 264.2h0M823.4 267.9h0M822.0 264.9h0M597.6 267.1h0M766.9 268.1h0M628.6 267.4h0M884.2 265.5h0M835.9 269.8h0M788.4 266.6h0M706.0 266.8h0M611.0 264.4h0M661.1 265.0h0M861.8 266.2h0M854.0 267.4h0M861.3 269.4h0M800.8 266.7h0M649.5 267.4h0M671.5 269.0h0M584.4 267.8h0M680.4 266.5h0M746.2 269.9h0M892.2 266.1h0M880.5 269.7h0M740.9 267.4h0M634.5 268.7h0M727.7 268.6h0M869.0 267.7h0M795.6 267.3h0M613.0 266.8h0M590.8 265.1h0M888.0 266.3h0M614.3 266.6h0M590.0 267.6h0M644.5 265.3h0M776.8 269.6h0M575.0 268.3h0M759.0 266.9h0M707.0 264.1h0M684.5 267.1h0M679.2 270.0h0M680.7 269.1h0M833.0 268.8h0M729.8 267.0h0M843.7 264.7h0M643.4 264.1h0M729.7 266.7h0M880.0 269.6h0M702.0 267.0h0M604.6 268.5h0M738.6 265.0h0M854.4 264.3h0M632.9 266.9h0M893.3 264.8h0M656.9 268.7h0M679.4 269.6h0M576.7 265.4h0M670.9 269.1h0M603.7 268.0h0M857.6 269.8h0M831.5 264.3h0M727.0 265.3h0M610.1 265.5h0M808.6 267.5h0M612.8 265.7h0M592.0 269.6h0M814.7 266.8h0M881.8 269.9h0M637.5 265.5h0M632.5 267.8h0M763.2 267.1h0M821.1 267.2h0M672.5 268.0h0M877.8 264.3h0M728.0 264.8h0M812.4 266.6h0M842.1 268.0h0M881.1 267.5h0M763.4 269.8h0M830.6 266.0h0M604.1 269.5h0M591.2 269.5h0M872.7 268.0h0M877.7 267.6h0M812.0 267.6h0M642.6 264.5h0" stroke="#00f" stroke-width="3.4" stroke-linecap="round" fill="none"/>
<path d="M811.1 187.7h0M611.0 187.9h0M656.4 187.4h0M854.2 188.0h0M812.8 188.3h0M712.0 187.7h0M710.5 187.6h0M822.6 188.4h0M667.1 188.1h0M640.3 187.0h0M792.4 188.2h0M677.4 188.6h0M803.4 187.5h0M816.7 188.4h0M616.0 188.5h0M711.2 187.4h0M692.9 187.8h0M741.3 187.5h0M590.1 188.0h0M802.9 188.1h0M699.0 188.4h0M576.2 187.2h0M576.5 187.9h0M739.9 187.4h0M740.7 187.0h0M582.3 188.5h0M857.3 187.1h0M782.9 187.8h0M744.9 188.3h0M778.2 188.5h0M791.3 188.5h0M608.3 188.3h0M674.0 188.5h0M826.8 188.5h0M815.1 187.6h0M740.1 188.3h0M589.4 187.9h0M754.5 188.1h0M681.3 188.0h0M808.9 187.6h0M791.2 188.4h0M690.2 187.8h0M727.2 188.3h0M658.0 187.5h0M697.7 188.0h0M620.6 188.6h0M733.4 188.2h0M704.1 187.0h0M695.4 187.9h0M599.9 188.6h0M760.6 187.7h0M579.9 187.4h0M679.8 188.0h0M627.0 187.8h0M658.2 187.9h0M793.3 187.8h0M813.4 188.0h0M597.7 188.1h0M727.2 188.2h0M873.9 187.6h0M845.8 187.4h0M781.0 187.0h0M837.6 187.7h0M717.8 187.8h0M691.1 187.4h0M794.7 188.0h0M588.2 187.4h0M872.2 187.5h0M665.6 187.9h0M691.2 188.5h0M888.7 187.2h0M643.4 187.3h0M714.6 187.5h0M788.9 188.4h0M593.7 187.0h0M606.9 187.5h0M613.9 187.7h0M688.3 188.2h0M883.6 188.6h0M706.7 188.0h0M613.4 188.0h0M856.6 188.4h0M616.0 187.3h0M862.5 188.1h0M817.4 187.1h0M770.8 187.0h0M809.1 188.3h0M674.8 187.0h0M807.9 188.6h0M771.5 187.6h0M677.1 188.3h0M884.2 187.6h0M642.1 188.6h0M709.0 187.7h0M671.2 188.2h0M888.6 187.8h0M847.4 187.6h0M707.2 188.3h0M884.9 188.2h0M798.7 188.3h0M868.1 188.5h0M742.7 187.6h0M572.9 187.8h0M685.6 187.0h0M892.1 187.5h0M872.3 187.0h0M687.1 188.3h0M788.5 188.1h0M728.6 187.1h0M839.7 188.2h0M725.3 187.9h0M830.8 187.8h0M724.5 187.8h0M808.9 188.2h0M679.0 188.2h0M692.2 188.1h0M692.8 188.4h0M874.9 188.2h0M694.0 187.6h0M710.9 188.0h0M581.5 187.9h0M871.1 187.1h0M859.1 187.9h0M893.5 188.2h0M803.3 188.2h0M706.9 187.2h0M847.3 188.4h0M804.1 187.3h0M732.3 187.8h0M688.4 187.8h0M718.7 188.6h0M773.5 188.6h0M864.6 187.3h0M820.3 187.6h0M764.0 187.9h0M810.1 187.5h0M790.0 187.6h0M823.9 187.8h0M778.8 188.6h0M661.3 187.0h0M860.5 187.8h0M779.8 188.3h0M858.8 187.6h0M890.2 187.6h0M805.8 188.3h0M688.0 187.7h0M689.2 187.5h0M704.0 188.4h0M590.2 188.6h0M826.5 187.9h0M778.5 187.5h0M818.1 188.4h0M694.2 187.8h0M641.4 187.4h0M846.4 188.0h0M715.3 188.0h0M630.6 187.0h0M686.2 187.9h0M630.4 187.9h0M675.8 187.4h0M810.2 187.6h0M810.9 188.2h0M692.2 187.1h0M843.4 187.9h0M758.4 188.1h0M748.2 188.5h0M573.4 188.5h0M770.1 187.7h0M864.3 188.4h0M763.7 187.0h0M772.4 187.7h0M756.4 188.3h0M613.3 188.4h0M671.1 187.4h0M582.7 187.2h0M657.3 187.8h0M874.8 187.3h0M664.2 187.6h0M777.8 187.6h0M787.4 187.2h0M584.8 187.9h0M804.9 187.2h0M586.2 188.1h0M591.8 188.5h0M794.2 187.3h0M703.2 187.1h0M599.0 187.6h0M854.7 188.5h0M814.4 188.0h0M759.7 187.8h0M782.9 187.8h0M699.3 188.3h0M668.0 187.6h0M790.5 188.5h0M682.1 187.7h0M700.7 187.3h0M685.4 188.3h0M631.4 187.8h0M662.5 187.9h0M820.9 187.2h0M728.1 187.3h0M779.9 188.1h0M642.2 187.4h0M668.7 187.5h0M859.6 188.4h0M826.8 187.6h0M718.6 187.3h0M719.6 188.5h0M600.2 187.6h0M633.8 188.4h0M668.2 187.8h0M587.4 188.1h0M737.0 188.3h0M804.1 188.2h0M655.7 187.4h0M764.1 187.1h0M873.9 188.2h0M730.3 187.6h0M595.7 187.9h0M820.8 187.2h0M602.7 188.1h0M722.7 188.3h0M703.8 188.6h0M853.1 187.5h0M744.3 187.9h0M716.4 188.3h0M798.9 188.3h0M652.5 187.8h0M746.5 187.9h0M575.8 188.3h0" stroke="#00f" stroke-width="3.0" stroke-linecap="round" fill="none"/>
<path d="M715.6 187.0h0M847.3 187.4h0M810.3 187.5h0M772.2 187.7h0M588.7 187.1h0M623.6 187.4h0M641.7 186.8h0M614.7 187.0h0M745.5 187.3h0M721.0 186.8h0" stroke="#f00" stroke-width="2.0" stroke-linecap="round" fill="none"/>
<path d="M741.6 254.3h0M600.2 252.5h0M619.5 255.6h0M624.6 256.2h0M623.6 258.6h0M854.1 254.9h0M593.8 260.7h0M597.8 257.8h0M815.5 256.3h0M859.1 253.3h0M803.8 260.2h0M861.0 259.6h0M711.9 256.6h0M845.3 255.4h0" stroke="#f00" stroke-width="2.0" stroke-linecap="round" fill="none"/>
<path d="M896.1 194.6h0M896.0 203.8h0M897.8 218.0h0M896.4 273.9h0M897.2 228.4h0M895.8 222.7h0M896.2 271.7h0M896.6 273.7h0M896.2 196.0h0M897.7 198.3h0M897.5 242.0h0M896.2 262.1h0" stroke="#f00" stroke-width="2.6" stroke-linecap="round" fill="none"/>
<path d="M896.8 260.8h0M897.2 258.0h0M898.3 217.1h0M897.6 242.4h0M897.5 191.7h0M897.6 244.8h0M896.1 196.9h0M895.7 229.2h0M895.8 251.0h0" stroke="#00f" stroke-width="2.8" stroke-linecap="round" fill="none"/>
<rect x="569.6" y="140" width="329.6" height="8.8" fill="#000" rx="1.5"/>
<path d="M705.0 648.2h0M808.2 644.7h0M629.7 644.6h0M767.1 647.3h0M859.3 644.0h0M578.2 646.1h0M793.1 646.0h0M830.6 647.0h0M773.1 647.1h0M611.1 647.9h0M786.3 642.6h0M625.1 646.0h0M669.7 647.8h0M660.9 645.0h0M733.6 647.8h0M669.0 647.5h0M804.7 645.5h0M876.9 647.5h0M813.2 645.4h0M584.8 643.4h0M781.2 642.7h0M778.8 644.2h0M696.0 647.1h0M842.7 646.6h0M715.2 645.3h0M889.6 647.7h0M767.3 642.5h0M862.5 642.3h0M608.5 646.1h0M634.2 646.7h0M792.8 643.0h0M864.6 648.2h0M783.2 648.1h0M829.9 644.9h0M837.5 647.8h0M795.9 642.5h0M691.2 646.4h0M689.0 643.0h0M718.3 642.9h0M724.2 642.6h0M805.8 643.3h0M873.5 642.7h0M774.9 646.0h0M635.0 645.9h0M748.4 645.8h0M630.5 645.0h0M841.2 645.8h0M649.5 644.1h0M855.2 642.3h0M725.4 645.2h0M709.8 642.0h0M605.0 647.2h0M717.9 643.8h0M716.8 642.3h0M596.9 647.1h0M816.5 643.2h0M673.4 642.5h0M673.5 645.2h0M814.2 645.1h0M845.0 648.2h0M754.3 642.3h0M614.1 646.2h0M612.8 647.6h0M588.2 642.3h0M892.9 644.5h0M750.3 645.7h0M608.9 644.1h0M690.0 646.6h0M823.8 646.3h0M629.1 644.9h0M867.0 643.1h0M683.5 645.8h0M892.8 642.2h0M794.3 644.9h0M741.8 647.2h0M601.6 645.7h0M673.2 646.7h0M801.9 644.6h0M619.8 646.7h0M797.5 645.5h0M812.0 647.9h0M649.7 646.3h0M831.7 643.6h0M862.9 643.9h0M880.1 645.6h0M885.5 647.5h0M823.7 644.3h0M718.9 645.6h0M831.2 644.6h0M861.6 643.3h0M739.2 642.9h0M625.9 643.8h0M586.0 645.5h0M771.4 644.5h0M828.8 645.4h0M791.8 642.5h0M677.3 642.1h0M622.4 647.3h0M614.5 645.7h0M692.8 646.2h0M852.7 647.1h0M882.9 648.0h0M699.6 648.1h0M817.5 643.7h0M676.9 645.2h0M844.3 642.6h0M859.1 646.2h0M762.6 644.5h0M694.1 644.5h0M802.3 644.7h0M801.6 647.4h0M598.7 642.1h0M875.3 643.2h0M834.1 644.5h0M643.4 642.1h0M709.3 645.7h0M588.2 642.1h0M663.6 647.5h0M813.4 643.6h0M701.2 644.6h0M800.0 643.8h0M685.6 645.1h0M647.4 644.7h0M812.6 645.1h0M588.7 644.2h0M755.2 643.4h0M696.1 645.5h0M688.6 643.1h0M853.8 642.4h0M864.0 642.6h0M749.9 645.4h0M703.1 645.9h0M856.6 644.0h0M590.0 643.2h0M854.9 645.7h0M814.7 644.4h0M675.4 646.3h0M754.5 647.7h0M622.6 644.1h0M794.4 647.6h0M721.7 646.9h0M606.1 646.0h0M677.2 646.3h0M666.9 643.2h0M657.7 646.5h0M801.2 647.7h0M704.6 642.4h0M832.4 643.6h0M803.0 645.0h0M714.4 642.2h0M644.0 646.6h0M719.4 647.5h0M831.8 645.3h0M888.8 642.0h0M700.4 645.3h0M588.0 647.4h0M619.1 645.6h0M658.4 644.4h0M721.3 643.8h0M626.0 646.1h0M773.3 642.5h0M885.6 642.7h0M642.8 643.7h0M688.6 645.0h0M862.9 642.6h0M756.5 645.9h0M654.0 644.2h0M714.6 647.5h0M822.1 645.0h0M592.9 644.2h0M835.0 644.7h0M697.1 646.0h0M583.7 646.0h0M792.5 642.7h0M705.6 647.3h0M655.5 645.3h0M682.5 645.4h0M697.1 644.1h0M869.9 646.3h0M893.9 644.1h0M721.6 644.3h0M851.2 644.3h0M790.7 643.1h0M746.1 643.7h0M866.4 644.3h0M879.0 645.5h0M681.0 645.4h0M871.9 646.3h0M837.4 645.5h0M770.8 642.9h0M839.8 646.0h0M780.5 643.9h0M817.6 645.3h0M674.3 648.1h0M820.6 646.2h0M842.5 646.3h0M695.1 647.9h0M863.8 646.2h0M711.4 645.1h0M585.4 647.5h0M839.5 645.7h0M721.4 647.0h0M577.5 644.5h0M651.7 645.8h0M685.2 645.8h0M861.1 644.5h0M607.8 642.1h0M841.0 644.9h0M713.5 642.2h0M604.0 642.0h0M860.6 642.3h0M674.8 644.9h0M756.2 643.4h0M779.6 646.0h0M889.4 642.6h0M666.4 642.6h0M664.4 643.3h0M580.4 647.0h0M659.7 646.6h0M834.0 646.9h0M578.7 645.6h0M846.1 645.9h0M766.1 644.6h0M836.9 645.3h0M684.5 645.1h0M723.2 643.2h0M788.3 647.2h0M782.2 642.1h0M701.7 646.8h0M613.0 645.1h0M791.8 645.3h0M677.6 642.1h0M798.5 643.0h0M765.2 645.3h0M804.6 642.7h0M885.8 646.6h0M853.1 643.1h0M803.7 644.3h0M797.2 646.3h0M702.9 647.9h0M712.5 644.9h0M802.1 642.9h0M860.6 644.1h0M857.9 642.9h0M610.7 645.7h0M648.5 644.7h0M635.4 646.5h0M809.3 646.3h0M614.1 642.3h0M759.3 642.5h0M802.4 645.4h0M872.4 647.1h0M782.7 647.1h0M734.9 643.8h0M590.4 646.4h0M786.1 645.9h0M736.3 644.8h0M868.1 644.3h0M615.9 647.9h0M817.1 647.6h0M889.6 644.7h0M620.9 645.1h0M729.3 644.4h0M825.1 643.6h0M884.7 643.3h0M662.5 647.1h0M646.3 646.5h0M659.2 644.5h0M722.6 643.5h0M837.1 647.8h0M870.0 643.0h0M578.9 644.7h0M810.2 645.4h0M881.6 648.1h0M791.6 643.6h0M700.6 642.4h0M698.1 646.7h0M673.0 643.1h0M745.0 647.6h0M779.6 642.7h0M710.3 643.4h0M833.4 644.6h0M714.2 647.4h0M666.7 644.8h0M887.9 643.9h0M745.3 646.0h0M679.0 645.9h0M707.0 647.2h0M750.8 646.5h0M756.1 646.3h0M696.8 642.9h0M688.3 644.0h0M575.3 646.8h0M740.5 645.0h0M798.6 642.4h0M611.3 646.4h0M583.8 647.4h0M735.1 648.0h0M848.7 644.5h0M681.9 644.7h0M819.6 644.9h0M803.7 648.1h0M813.0 645.2h0M810.8 645.1h0M758.6 644.6h0M873.4 648.1h0M754.5 645.5h0M604.0 645.5h0M871.4 643.5h0M821.4 643.6h0M801.6 643.7h0M763.4 646.8h0M581.1 647.2h0M740.1 643.5h0M670.1 645.4h0M810.5 643.1h0M593.3 643.4h0M776.0 644.5h0M817.5 646.5h0M689.7 645.7h0M617.8 645.8h0M780.1 643.5h0M786.3 642.9h0M885.2 645.4h0M869.1 646.1h0M640.1 646.5h0M769.5 644.3h0M794.9 646.7h0M790.6 643.4h0M883.1 647.6h0M711.1 647.7h0M892.2 644.1h0M632.5 643.5h0M729.1 642.9h0M647.4 646.5h0M576.6 645.8h0M702.6 646.4h0M654.4 645.0h0M639.5 642.1h0M850.4 644.3h0M666.1 647.8h0M690.4 645.4h0M616.1 644.6h0M853.9 647.1h0M835.4 647.7h0M645.3 642.3h0M612.7 646.0h0M747.2 644.3h0M801.1 643.4h0M767.4 644.6h0M615.7 646.8h0M630.3 647.0h0M817.0 644.7h0M717.4 643.3h0M615.7 646.3h0M690.6 645.5h0M689.7 643.7h0M623.4 646.7h0M710.7 642.9h0M853.3 643.0h0M644.8 643.0h0M751.7 646.8h0M580.6 647.7h0M798.0 647.2h0M707.2 644.7h0M601.0 643.6h0M852.5 643.8h0M862.2 647.2h0M868.6 642.9h0M707.5 647.2h0" stroke="#f00" stroke-width="3.2" stroke-linecap="round" fill="none"/>
<rect x="569.6" y="595.7" width="325.9" height="46.1" fill="#00f"/>
<path d="M671.4 595.7h0M577.3 596.0h0M748.7 595.7h0M654.4 596.2h0M626.5 596.3h0M852.9 595.9h0M612.8 596.1h0M666.2 595.5h0M800.2 596.1h0M658.5 595.7h0M804.9 596.5h0M684.4 596.1h0M642.0 596.0h0M758.5 595.8h0M766.4 596.1h0M584.7 595.5h0M704.7 595.6h0M747.4 596.1h0M773.0 596.5h0M767.5 596.3h0M608.0 596.4h0M871.5 596.1h0M838.5 596.1h0M711.3 595.6h0M726.2 596.3h0M827.7 596.5h0M738.3 596.5h0M691.0 595.4h0M708.6 596.0h0M820.8 595.7h0M578.8 596.3h0M632.5 596.4h0M753.8 595.6h0M739.2 596.3h0M643.0 596.5h0M588.9 595.6h0M763.0 596.2h0M765.5 596.5h0M635.8 595.5h0M744.5 595.8h0M698.9 595.9h0M856.2 595.7h0M794.6 596.1h0M662.6 596.5h0M653.3 595.8h0M632.9 596.2h0M795.0 595.8h0M608.7 596.1h0M679.8 596.1h0M782.8 595.4h0M585.4 596.4h0M851.5 595.5h0M642.8 595.9h0M840.2 595.8h0M880.2 595.5h0M863.7 595.5h0M765.4 596.6h0M804.2 596.5h0M684.3 596.5h0M863.1 595.7h0M820.4 596.5h0M639.8 595.9h0M820.0 596.1h0M867.7 595.9h0M715.6 595.6h0M659.4 596.4h0M655.2 596.5h0M830.5 596.1h0M668.3 595.4h0M608.8 596.4h0M880.9 596.6h0M661.3 596.5h0M713.1 595.8h0M864.8 596.4h0M790.3 595.7h0M605.3 595.6h0M655.8 595.6h0M755.4 595.8h0M640.4 596.5h0M689.9 595.4h0M573.6 596.1h0M580.2 596.1h0M578.9 596.0h0M770.9 596.0h0M640.6 596.4h0M885.4 596.4h0M872.3 596.6h0M689.7 596.1h0M704.5 596.3h0M625.0 595.7h0M716.6 596.1h0M891.3 595.8h0M571.9 595.9h0M854.4 595.5h0M738.5 596.1h0M842.2 595.8h0M767.2 596.5h0M885.4 596.1h0M680.1 596.2h0M807.0 596.2h0M789.1 595.9h0M802.4 595.8h0M645.9 595.5h0M749.7 595.6h0M661.9 595.8h0M691.0 595.9h0M886.1 596.0h0M748.4 595.9h0M747.9 596.4h0M739.8 596.0h0M684.2 595.6h0M639.5 595.5h0M662.7 595.4h0M705.1 596.1h0M607.7 596.3h0M716.8 596.1h0M709.9 596.4h0M790.6 595.5h0M748.3 595.7h0M812.3 595.8h0M643.1 595.4h0M889.8 595.5h0M652.0 596.5h0M587.1 595.9h0M710.7 596.2h0M823.9 596.6h0M673.8 595.5h0M640.3 595.4h0M657.7 596.1h0M860.1 595.5h0M657.4 596.5h0M760.7 595.9h0M593.9 595.5h0M640.9 596.1h0M589.4 596.0h0M835.3 595.4h0M663.7 595.9h0M768.0 596.3h0M790.3 595.9h0M680.0 596.2h0M719.4 596.5h0M741.9 596.1h0M786.2 596.0h0M729.9 596.2h0M764.7 596.6h0M669.4 596.0h0M886.1 596.4h0M750.0 595.8h0M628.4 595.9h0M708.6 595.9h0M653.5 596.0h0M756.3 595.5h0M783.9 596.3h0M633.8 595.7h0M583.0 596.0h0M789.1 595.9h0M761.2 596.1h0M584.9 595.5h0M734.7 596.5h0M799.2 595.9h0M654.7 595.6h0M779.8 596.3h0M697.7 595.5h0M660.3 596.2h0M820.1 595.9h0M857.8 595.9h0M578.2 595.6h0M858.7 596.2h0M598.6 595.7h0M698.4 596.0h0M578.8 596.5h0M742.5 595.7h0M580.8 596.1h0M872.6 596.3h0M848.6 596.4h0M785.9 595.5h0M671.3 596.1h0M705.3 595.7h0M592.5 596.4h0M786.5 595.8h0M722.8 596.4h0M617.2 596.2h0M646.0 596.5h0M829.7 596.5h0M694.5 596.0h0M674.7 595.8h0M879.2 596.6h0M892.4 596.5h0M729.0 596.2h0M864.5 595.9h0M868.0 596.4h0M662.5 595.8h0M794.1 595.6h0M653.5 595.6h0M605.2 596.5h0M893.5 596.4h0M733.7 596.3h0M793.0 595.9h0M739.1 595.6h0M648.9 595.8h0M686.2 596.2h0M648.8 595.7h0M853.7 596.3h0M872.4 596.3h0M633.7 596.0h0M840.5 596.4h0M644.5 596.0h0M761.3 595.4h0M649.4 596.3h0M786.4 595.9h0M755.4 596.0h0M682.5 595.5h0M810.8 596.3h0M711.4 596.3h0M838.5 596.2h0M832.2 596.6h0M583.5 596.5h0M717.0 596.3h0M809.2 595.5h0M760.4 595.5h0M807.5 595.8h0M692.5 595.7h0M832.7 596.2h0M667.2 596.3h0M630.6 596.4h0M766.3 596.3h0M770.1 596.6h0M795.6 596.0h0M761.8 596.1h0M663.0 595.8h0" stroke="#00f" stroke-width="2.8" stroke-linecap="round" fill="none"/>
<path d="M829.2 642.9h0M883.0 642.6h0M734.0 641.8h0M798.9 642.5h0M875.9 642.7h0M694.8 641.5h0M585.2 642.8h0M709.1 641.8h0M587.7 642.1h0M861.4 641.5h0M811.2 642.8h0M784.3 642.3h0M651.3 642.6h0M759.8 643.3h0M737.4 641.7h0M863.9 642.4h0M681.1 642.5h0M620.0 641.3h0M856.8 642.0h0M830.2 641.4h0M723.0 641.4h0M830.3 642.4h0M698.0 641.8h0M639.0 641.3h0M794.1 641.6h0M604.4 641.8h0M717.2 643.4h0M695.3 641.8h0M885.2 642.7h0M719.1 641.8h0M643.5 641.2h0M723.5 642.5h0M604.9 642.0h0M626.7 642.4h0M682.1 642.5h0M824.0 641.9h0M694.5 641.0h0M639.2 642.4h0M831.8 641.2h0M886.6 643.2h0M689.0 642.2h0M788.3 641.7h0M689.2 642.7h0M727.4 641.9h0M752.8 641.1h0M722.9 641.6h0M624.7 642.2h0M797.9 642.2h0M732.1 642.5h0M707.1 643.4h0M639.9 640.8h0M754.6 642.6h0M694.4 641.8h0M681.6 641.4h0M826.9 643.0h0M660.9 642.3h0M719.4 641.1h0M808.0 642.2h0M891.3 643.2h0M863.0 641.5h0M606.1 642.9h0M605.6 642.6h0M627.4 642.6h0M588.0 641.0h0M851.5 642.1h0M716.4 643.3h0M824.5 641.4h0M799.1 641.8h0M720.8 641.6h0M644.1 641.6h0M658.9 641.3h0M853.5 641.8h0M752.1 642.9h0M790.2 641.2h0M879.1 643.2h0M842.3 641.7h0M839.4 642.5h0M580.7 641.8h0M796.5 642.2h0M877.4 642.9h0M841.3 643.3h0M681.6 643.2h0M571.4 642.9h0M599.0 642.1h0M713.4 641.0h0M776.6 642.8h0M643.0 641.4h0M820.1 642.2h0M576.6 641.6h0M876.1 641.5h0M664.2 642.0h0M857.5 642.9h0M695.2 642.5h0M579.6 641.0h0M691.0 642.4h0M616.1 640.9h0M846.8 641.3h0M588.3 641.0h0M596.2 641.5h0M758.0 642.5h0M663.1 642.1h0M678.2 642.3h0M605.9 642.4h0M570.7 643.2h0M638.3 642.2h0M631.6 642.0h0M656.2 642.5h0M822.9 643.0h0M885.9 642.0h0M748.5 641.7h0M663.9 642.1h0M885.6 640.9h0M812.5 641.6h0M764.1 641.5h0M803.3 642.1h0M671.0 642.0h0M572.1 641.1h0M864.4 641.0h0M699.3 642.5h0M582.3 643.2h0M637.5 643.3h0M711.0 642.3h0M766.0 641.0h0M734.4 642.7h0M826.2 642.7h0M790.8 641.1h0M703.1 642.1h0M583.7 642.8h0M603.7 642.3h0M657.0 641.2h0M879.0 642.4h0M807.8 642.4h0M753.3 643.1h0M591.1 641.8h0M641.5 642.4h0M698.3 643.2h0M646.1 641.5h0M867.5 642.7h0M709.5 641.8h0M808.2 641.2h0M804.3 641.4h0M831.6 641.0h0M866.5 643.0h0M578.5 641.2h0M866.6 642.9h0M665.1 642.9h0M758.3 641.4h0M793.2 641.9h0M616.6 643.0h0M802.9 641.4h0M708.8 642.6h0M690.8 641.5h0M741.0 643.3h0M601.4 641.5h0M727.0 643.4h0M891.9 640.8h0M778.4 641.2h0M637.6 641.2h0M732.4 643.4h0M883.2 641.8h0M861.4 642.6h0M594.6 643.1h0M659.1 643.3h0M613.4 643.1h0M736.6 642.1h0M629.8 642.1h0M816.5 642.2h0M887.9 642.2h0M863.3 641.1h0M809.1 642.4h0M856.4 641.7h0M720.5 642.9h0M653.4 641.8h0M844.6 642.5h0M729.1 640.8h0M817.8 641.9h0M647.5 641.8h0M615.1 643.0h0M828.7 643.3h0M788.8 641.2h0M707.4 643.4h0M570.9 641.7h0M618.9 641.2h0M659.6 642.4h0M592.4 643.1h0M709.9 641.3h0M603.4 642.2h0M683.6 642.1h0M605.5 641.7h0M734.2 641.0h0M732.9 643.0h0M761.5 641.1h0M775.0 641.0h0M616.6 640.8h0M742.3 641.3h0M660.8 641.1h0M860.3 641.2h0M788.9 642.9h0M716.1 642.3h0M678.5 642.9h0M792.5 641.0h0M798.4 641.2h0M726.3 641.3h0M727.4 642.5h0M808.0 641.6h0M588.3 642.0h0M866.6 642.2h0M771.1 642.8h0M777.1 643.3h0M879.6 642.7h0M831.9 641.2h0M656.3 642.6h0M758.5 643.0h0M821.2 641.7h0M626.1 642.5h0M606.5 642.1h0M659.8 641.8h0M782.3 642.4h0M770.5 641.0h0M860.0 642.6h0M864.2 642.4h0M779.9 643.1h0M812.1 642.4h0M583.5 640.9h0M802.6 643.0h0M695.7 641.3h0M713.5 643.0h0M815.2 641.1h0M635.9 641.3h0M811.9 641.5h0M858.3 641.9h0M633.1 641.9h0M615.9 643.1h0M578.1 641.9h0M693.2 640.9h0M642.4 643.4h0M848.7 641.9h0M853.2 643.2h0M848.2 642.7h0M754.2 642.1h0M802.5 642.4h0M885.6 641.3h0M861.4 642.8h0M713.8 643.0h0M663.3 641.8h0M757.3 643.3h0M649.1 643.0h0M783.4 643.2h0M667.7 642.5h0M858.2 643.1h0M796.6 643.0h0M775.8 642.2h0M632.8 642.1h0M886.8 643.3h0M584.2 641.6h0M648.1 643.0h0M629.5 642.8h0M634.1 641.7h0M885.4 641.1h0M758.9 641.5h0M815.3 641.0h0M789.8 641.5h0M880.5 641.7h0M787.3 640.9h0M874.7 642.4h0M866.5 642.7h0M590.1 642.7h0M693.9 641.3h0M858.9 642.5h0M683.6 641.0h0M780.7 641.0h0M648.0 640.9h0M626.3 642.7h0M657.2 643.4h0M661.0 642.9h0M808.8 642.5h0M766.4 641.2h0M838.8 643.2h0M742.5 641.3h0M598.4 641.5h0M885.2 641.6h0M661.4 642.2h0M581.8 642.9h0M822.9 641.6h0M580.3 643.1h0M832.7 642.8h0M638.8 643.3h0M778.0 640.9h0M888.3 642.6h0M630.2 643.1h0M763.9 642.5h0M579.6 641.4h0M827.0 640.8h0M633.3 641.0h0M759.2 641.2h0M824.5 642.0h0M823.8 643.2h0M885.1 641.3h0M688.6 642.9h0M678.2 643.2h0M679.4 642.4h0M653.5 642.7h0M662.3 641.9h0M804.7 643.0h0M616.0 641.3h0M639.2 642.8h0M788.8 642.7h0M832.0 641.4h0M731.3 640.8h0M684.6 642.4h0M654.9 642.9h0M639.3 641.9h0M792.0 641.4h0M785.4 641.8h0M586.3 641.1h0M781.7 642.9h0M790.7 643.0h0M786.1 642.8h0M841.9 642.3h0M742.6 641.2h0M647.1 641.0h0M606.6 641.8h0M665.2 642.3h0M838.7 641.5h0M860.1 643.0h0M632.8 642.3h0M634.5 641.0h0M641.9 641.3h0M573.1 640.9h0M831.9 643.0h0M850.1 641.0h0M578.2 643.0h0M691.9 641.7h0M797.4 642.2h0M677.2 641.2h0M607.8 642.7h0M863.7 640.9h0M642.9 642.2h0M656.9 642.1h0M733.0 641.5h0M608.5 641.9h0M833.1 641.2h0M744.7 642.9h0M755.3 641.7h0M871.1 642.8h0M893.3 641.6h0M727.2 642.0h0M842.7 642.4h0M748.7 642.1h0M859.0 641.7h0M613.1 641.3h0M649.5 641.0h0M886.7 642.2h0M828.9 642.0h0M739.3 641.4h0M859.0 641.9h0M702.0 642.7h0M851.7 643.4h0M726.4 641.9h0M838.0 641.9h0M636.1 642.0h0M669.6 641.5h0M820.7 641.7h0M773.0 641.6h0M607.6 642.8h0M821.4 642.6h0M768.0 641.3h0M732.9 643.0h0M824.5 642.3h0M774.9 641.2h0M588.5 643.0h0M576.5 641.5h0M700.0 642.6h0M796.2 643.1h0M871.6 641.5h0M651.2 641.1h0M677.4 641.1h0M881.7 642.3h0M729.6 640.9h0M865.8 641.4h0" stroke="#00f" stroke-width="3.0" stroke-linecap="round" fill="none"/>
<path d="M819.7 595.4h0M658.2 595.3h0M743.8 595.5h0M755.6 595.9h0M643.7 595.3h0M737.4 595.6h0M715.2 595.6h0M624.0 595.3h0" stroke="#f00" stroke-width="1.8" stroke-linecap="round" fill="none"/>
<path d="M897.3 624.6h0M897.2 624.8h0M896.8 606.3h0M897.8 620.4h0M896.6 609.0h0M896.4 639.2h0M896.5 631.8h0" stroke="#f00" stroke-width="2.6" stroke-linecap="round" fill="none"/>
<path d="M895.9 623.2h0M896.3 607.8h0M896.4 614.6h0M897.4 615.1h0M898.1 604.5h0M898.1 616.3h0M897.9 614.6h0" stroke="#00f" stroke-width="2.8" stroke-linecap="round" fill="none"/>
<rect x="569.6" y="615.2" width="327.4" height="13.6" fill="#000"/>
<path d="M653.9 615.9h0M776.7 615.8h0M739.7 615.8h0M880.2 615.8h0M884.2 615.5h0M667.0 615.9h0M840.5 615.9h0M711.6 615.6h0M877.3 615.4h0M624.5 615.4h0M668.6 615.6h0M694.6 615.6h0M582.0 615.5h0M735.1 615.3h0M726.5 615.9h0M782.1 616.0h0M849.0 615.6h0M577.4 615.3h0M757.1 615.9h0M678.0 615.4h0M816.3 615.7h0M722.1 615.4h0M749.9 615.7h0M800.6 615.9h0M595.1 615.9h0M674.6 615.6h0M681.9 615.9h0M713.4 615.3h0M724.1 615.4h0M575.7 615.3h0M693.8 615.6h0M570.8 615.4h0M862.5 615.7h0M887.9 615.7h0M879.5 615.8h0M696.0 615.3h0M618.4 615.9h0M784.9 615.5h0M623.5 615.7h0M871.6 615.5h0M893.3 615.7h0M638.0 615.4h0M800.9 615.9h0M636.4 615.5h0M616.9 615.4h0M643.6 615.6h0M647.6 615.8h0M648.2 615.5h0M706.1 615.4h0M587.2 615.4h0M572.2 615.8h0M586.5 615.6h0M858.4 615.7h0M669.7 615.6h0M708.9 615.5h0M588.0 615.4h0M616.9 615.4h0M677.7 615.4h0M769.9 615.4h0M735.8 615.8h0M731.5 615.8h0M823.1 615.6h0M639.3 615.3h0M794.9 615.6h0M664.8 615.4h0M628.9 615.9h0M723.4 615.9h0M843.9 615.5h0M643.8 615.9h0M647.2 615.7h0M873.7 615.6h0M708.1 616.0h0M850.0 615.9h0M799.5 615.5h0M586.2 615.3h0M869.4 615.7h0M856.5 616.0h0M647.4 616.0h0M659.2 615.4h0M658.7 616.0h0M874.8 615.5h0M726.6 615.9h0M830.9 615.9h0M687.9 615.5h0M736.6 616.0h0M769.1 615.9h0M634.1 615.7h0M867.5 615.7h0M827.5 615.9h0M713.9 615.8h0M794.5 615.6h0M739.0 615.9h0M856.0 616.0h0M689.5 615.8h0M748.9 615.9h0M648.4 615.6h0M653.5 615.9h0M800.5 615.3h0M605.7 615.4h0M762.0 615.8h0M681.9 615.4h0M760.1 615.7h0M709.9 615.5h0M682.9 615.5h0M833.7 615.6h0M801.6 615.7h0M644.8 615.5h0M787.6 615.9h0M867.6 615.4h0M654.5 615.4h0M631.9 615.6h0M803.1 615.9h0M761.9 615.4h0M692.4 615.4h0M661.1 615.7h0M733.0 615.4h0M660.0 615.9h0M774.7 615.7h0M674.9 615.5h0M817.1 615.3h0M782.2 616.0h0M776.3 615.3h0M581.5 615.8h0M630.5 615.6h0M781.5 615.8h0M663.8 615.8h0M866.4 615.6h0M698.9 615.8h0M853.3 615.8h0M870.8 615.8h0M880.3 615.5h0M788.5 615.4h0M608.6 615.5h0M876.8 615.5h0M670.6 615.9h0M888.4 615.8h0M684.7 615.9h0M591.8 615.3h0M591.1 615.5h0M648.7 615.9h0M715.2 615.9h0M728.5 615.6h0M680.5 615.3h0M717.8 616.0h0M885.1 616.0h0M602.3 615.6h0M840.5 615.4h0M591.7 615.4h0M597.8 615.8h0M801.3 616.0h0M587.0 615.8h0M827.5 615.4h0M596.2 616.0h0M826.5 615.3h0M631.2 615.8h0M625.9 615.6h0M619.1 615.4h0M727.4 615.7h0M844.8 615.3h0M685.4 615.4h0" stroke="#000" stroke-width="2.6" stroke-linecap="round" fill="none"/>
<path d="M749.5 628.1h0M677.8 628.7h0M780.8 628.5h0M766.7 628.1h0M792.2 628.7h0M599.5 628.6h0M681.9 628.1h0M782.7 628.6h0M624.7 628.1h0M732.7 628.1h0M734.6 628.7h0M578.9 628.3h0M636.0 628.1h0M761.2 628.7h0M722.7 628.4h0M797.0 628.6h0M883.6 628.2h0M628.0 628.6h0M766.5 628.6h0M618.1 628.6h0M608.9 628.1h0M609.8 628.3h0M705.0 628.5h0M874.1 628.3h0M757.9 628.3h0M694.5 628.2h0M572.3 628.2h0M804.6 628.6h0M792.7 628.3h0M703.6 628.1h0M649.1 628.7h0M760.8 628.3h0M743.8 628.3h0M665.7 628.3h0M709.9 628.6h0M859.0 628.2h0M718.1 628.2h0M879.0 628.1h0M726.5 628.0h0M719.8 628.3h0M575.2 628.1h0M732.4 628.3h0M668.8 628.0h0M675.5 628.2h0M604.2 628.4h0M641.8 628.4h0M800.4 628.0h0M731.7 628.4h0M860.0 628.5h0M841.8 628.5h0M643.2 628.6h0M815.3 628.3h0M870.1 628.0h0M864.5 628.3h0M746.2 628.6h0M624.7 628.3h0M575.5 628.0h0M880.1 628.2h0M708.7 628.1h0M872.3 628.4h0M847.4 628.2h0M720.5 628.2h0M761.5 628.5h0M756.2 628.4h0M671.0 628.7h0M576.9 628.1h0M786.6 628.7h0M844.9 628.2h0M876.0 628.3h0M755.4 628.5h0M770.5 628.6h0M861.5 628.2h0M859.4 628.2h0M791.9 628.1h0M777.0 628.2h0M892.5 628.5h0M696.0 628.7h0M608.0 628.5h0M780.5 628.0h0M719.5 628.1h0M894.2 628.1h0M776.3 628.4h0M611.1 628.7h0M756.4 628.4h0M655.8 628.1h0M676.1 628.0h0M635.8 628.3h0M697.0 628.5h0M616.5 628.1h0M739.9 628.5h0M672.4 628.1h0M611.1 628.3h0M693.4 628.6h0M648.3 628.2h0M811.8 628.1h0M583.1 628.7h0M866.6 628.2h0M662.3 628.3h0M638.7 628.6h0M857.1 628.5h0M699.9 628.6h0M873.7 628.1h0M787.0 628.1h0M889.8 628.6h0M703.2 628.5h0M665.5 628.0h0M736.8 628.1h0M718.5 628.6h0M757.4 628.2h0M639.2 628.4h0M735.5 628.6h0M626.1 628.3h0M715.5 628.3h0M630.9 628.3h0M746.3 628.1h0M674.4 628.4h0M874.9 628.3h0M682.7 628.0h0M738.3 628.2h0M608.1 628.3h0M770.0 628.2h0M808.6 628.4h0M590.9 628.0h0M740.7 628.4h0M750.9 628.2h0M682.1 628.5h0M699.1 628.4h0M644.5 628.4h0M725.8 628.0h0M814.8 628.6h0M890.1 628.7h0M797.9 628.3h0M656.6 628.5h0M706.2 628.2h0M608.4 628.4h0M800.6 628.5h0M620.0 628.1h0M776.9 628.1h0M857.5 628.6h0M774.8 628.2h0M752.6 628.5h0M682.3 628.5h0M765.3 628.6h0M821.8 628.5h0M747.0 628.6h0M765.7 628.5h0M671.1 628.1h0M751.2 628.2h0M884.5 628.2h0M860.5 628.2h0M632.7 628.4h0M674.9 628.7h0M770.5 628.1h0M671.0 628.1h0M730.4 628.4h0M672.9 628.5h0M714.6 628.6h0M790.4 628.2h0M839.3 628.0h0M646.7 628.0h0" stroke="#000" stroke-width="2.6" stroke-linecap="round" fill="none"/>
<path d="M898.4 622.9h0M898.0 627.9h0M895.8 626.9h0M895.6 624.7h0M897.9 621.2h0M898.2 625.4h0" stroke="#000" stroke-width="2.6" stroke-linecap="round" fill="none"/>
<path d="M731.7 1022.4h0M622.2 1022.3h0M745.9 1022.6h0M631.3 1022.6h0M596.3 1022.4h0M787.2 1022.3h0M739.9 1022.3h0M856.1 1022.4h0M872.1 1022.9h0M882.9 1022.4h0M791.2 1022.3h0M885.3 1022.8h0M582.6 1022.3h0M604.8 1022.5h0M874.0 1022.8h0M676.2 1022.8h0M574.0 1022.6h0M696.6 1022.3h0M868.2 1022.7h0M892.9 1022.7h0M771.6 1022.3h0M724.7 1022.9h0M751.4 1022.7h0M719.4 1022.5h0M574.4 1022.4h0M630.9 1022.3h0M588.1 1022.8h0M892.8 1022.8h0M839.5 1022.4h0M845.6 1022.5h0M847.3 1022.4h0M667.4 1022.6h0M643.0 1022.4h0M805.8 1022.8h0M888.8 1022.7h0M684.1 1022.6h0M760.2 1022.7h0M867.6 1022.7h0M881.8 1022.6h0M715.0 1022.2h0M675.5 1022.6h0M574.3 1022.6h0M608.1 1022.4h0M856.8 1022.9h0M607.6 1022.7h0M728.0 1022.2h0M666.9 1022.6h0M708.3 1022.7h0M592.0 1022.7h0M768.5 1022.4h0M754.1 1022.9h0M859.1 1022.7h0M739.2 1022.8h0M717.5 1022.8h0M691.3 1022.6h0M808.1 1022.7h0M765.8 1022.5h0M683.9 1022.7h0M715.0 1022.6h0M693.2 1022.4h0M773.2 1022.9h0M633.7 1022.7h0M742.6 1022.7h0M785.3 1022.5h0M574.0 1022.5h0M739.3 1022.7h0M870.6 1022.7h0M782.0 1022.5h0M827.7 1022.3h0M857.1 1022.6h0M717.4 1022.8h0M746.3 1023.0h0M609.6 1022.3h0M763.1 1022.4h0M644.2 1023.0h0M741.9 1022.4h0M688.7 1022.4h0M652.2 1022.3h0M886.7 1022.8h0M687.0 1022.3h0M886.4 1022.9h0M601.3 1022.9h0M749.1 1023.0h0M713.2 1022.5h0M573.3 1022.7h0M647.9 1022.9h0M643.0 1022.9h0M678.6 1022.8h0M801.7 1022.9h0M756.8 1022.5h0M655.7 1022.4h0M604.0 1022.4h0M673.2 1022.9h0M572.8 1022.6h0M734.9 1022.3h0M795.1 1022.4h0M811.2 1022.3h0M855.0 1022.4h0M601.2 1022.3h0M636.7 1022.3h0M672.2 1023.0h0M691.9 1022.5h0M814.3 1022.3h0M599.0 1022.9h0M676.5 1022.3h0M630.0 1022.8h0M887.0 1022.5h0M801.0 1022.6h0M636.6 1022.5h0M680.4 1022.4h0M827.5 1022.3h0M695.7 1022.8h0M581.3 1023.0h0M769.7 1022.7h0M632.8 1022.4h0M843.6 1023.0h0M575.4 1022.9h0M635.3 1022.3h0M763.8 1022.3h0M842.8 1022.9h0M663.2 1022.3h0M736.7 1022.8h0M582.9 1022.8h0M610.6 1022.5h0M624.0 1022.3h0M743.7 1022.4h0M865.5 1022.9h0M805.7 1022.6h0M779.9 1022.5h0M722.4 1022.6h0M706.9 1022.6h0M846.4 1023.0h0M808.8 1022.9h0M669.4 1022.3h0M642.7 1022.6h0M818.1 1022.8h0M866.8 1022.8h0M667.3 1022.2h0M726.7 1022.5h0M852.2 1022.9h0M744.8 1022.8h0M805.9 1022.6h0M713.7 1023.0h0M828.8 1022.7h0M890.1 1022.3h0M819.6 1022.6h0M674.7 1022.3h0M758.7 1022.9h0M627.5 1022.9h0M890.1 1022.4h0M749.4 1022.6h0M679.3 1022.3h0M657.2 1023.0h0M842.5 1023.0h0M732.0 1022.6h0M590.5 1022.5h0M758.9 1023.0h0M591.4 1022.7h0M585.7 1023.0h0M636.0 1022.8h0M775.9 1022.4h0M720.1 1022.5h0M628.5 1022.5h0M591.1 1022.8h0M885.0 1022.6h0M699.9 1022.6h0M617.3 1022.8h0M794.3 1022.3h0M692.9 1022.3h0M797.5 1022.2h0M852.4 1022.3h0M841.0 1022.4h0M741.8 1022.8h0M874.5 1022.9h0M619.9 1022.8h0M709.8 1022.3h0M720.2 1023.0h0M576.9 1022.8h0M746.2 1022.9h0M724.4 1022.4h0M846.1 1022.3h0M793.5 1022.4h0M588.0 1022.3h0M845.8 1022.3h0M867.9 1022.3h0M871.1 1022.2h0M784.0 1022.6h0M763.7 1022.9h0M644.0 1023.0h0M755.0 1022.8h0M651.7 1023.0h0M803.8 1022.6h0M641.0 1022.9h0M751.9 1023.0h0M856.7 1022.8h0M804.3 1022.3h0M839.3 1022.8h0M602.2 1022.3h0M603.5 1022.4h0M818.0 1022.8h0M795.5 1022.5h0M874.3 1022.3h0M644.3 1022.6h0M655.0 1022.8h0M840.8 1022.8h0M675.3 1022.7h0M672.6 1022.6h0M742.5 1022.3h0M844.2 1022.8h0M822.3 1022.3h0M646.3 1022.8h0M832.0 1022.7h0M872.6 1022.5h0M644.0 1022.6h0M668.2 1022.5h0M823.8 1022.5h0M801.3 1022.7h0M577.6 1022.6h0M851.3 1022.7h0M846.1 1022.7h0M892.6 1022.2h0M708.3 1022.4h0M815.5 1022.4h0M785.8 1022.7h0M576.2 1022.7h0M677.1 1022.4h0M779.6 1022.7h0M639.8 1022.8h0M594.9 1022.2h0M857.9 1022.9h0M877.1 1023.0h0M810.4 1022.7h0M742.0 1022.6h0M876.0 1023.0h0M711.7 1022.4h0M744.7 1022.5h0M832.5 1022.9h0M771.3 1022.3h0M743.6 1022.3h0M744.4 1022.9h0M788.5 1022.6h0M621.7 1022.9h0M852.7 1022.6h0M587.5 1022.7h0M700.4 1022.5h0M693.1 1022.4h0M616.1 1022.7h0M738.4 1022.5h0M813.5 1022.6h0M623.0 1022.4h0M751.4 1022.7h0M775.7 1022.8h0M686.3 1022.8h0M759.3 1022.4h0M611.2 1022.7h0M844.8 1023.0h0M834.9 1022.9h0M761.6 1022.4h0M666.5 1022.9h0M659.0 1022.6h0M748.4 1022.2h0M606.6 1022.4h0M828.3 1022.8h0M598.9 1022.3h0M890.0 1022.3h0M829.5 1022.7h0M852.9 1022.8h0M602.1 1022.8h0M802.2 1022.2h0M875.6 1022.4h0M720.9 1022.6h0M750.4 1022.7h0M591.9 1022.9h0M740.0 1022.3h0M733.3 1022.4h0M710.4 1022.8h0M814.6 1022.3h0M663.7 1023.0h0M774.0 1022.3h0M768.0 1022.4h0M594.6 1022.7h0M606.9 1022.3h0M790.1 1023.0h0M592.9 1022.8h0M616.8 1022.2h0M576.0 1022.2h0M807.2 1022.9h0M574.8 1022.3h0M585.9 1022.5h0M674.9 1022.4h0M834.6 1022.3h0M775.3 1022.3h0M782.3 1022.3h0M634.4 1023.0h0M656.9 1022.6h0M784.5 1023.0h0M748.4 1022.3h0M787.1 1022.7h0M759.7 1022.5h0M836.0 1022.3h0M747.5 1022.6h0M867.8 1022.8h0M648.1 1022.5h0M763.5 1022.5h0M590.9 1023.0h0M717.7 1022.3h0M620.0 1022.2h0M865.5 1022.3h0M753.0 1023.0h0M819.2 1022.7h0M662.7 1022.7h0M831.8 1022.4h0M644.6 1022.5h0M764.3 1022.9h0M761.9 1022.4h0M805.4 1022.3h0M605.3 1022.2h0M757.2 1022.7h0M721.0 1022.6h0M631.4 1022.4h0M760.0 1022.5h0M732.2 1022.9h0M721.9 1022.8h0M590.2 1022.6h0M588.0 1022.4h0M631.6 1022.5h0M622.1 1022.9h0M667.9 1022.4h0M593.6 1022.5h0M824.4 1022.6h0M859.9 1022.7h0M779.1 1022.5h0M841.0 1022.6h0M615.7 1022.4h0M828.7 1022.2h0M629.0 1022.7h0M791.5 1022.6h0M781.8 1022.5h0M761.5 1022.2h0M704.0 1023.0h0M756.8 1022.5h0M772.3 1023.0h0M721.3 1022.5h0M836.5 1022.9h0M643.8 1022.7h0M667.3 1022.5h0M830.5 1022.5h0M866.6 1022.6h0M851.3 1022.3h0M701.5 1022.2h0M848.4 1022.9h0M727.9 1022.6h0M884.7 1022.5h0M669.7 1022.3h0M868.1 1022.8h0M741.2 1022.8h0M841.2 1022.7h0M605.7 1022.7h0M852.8 1022.6h0M708.9 1022.7h0M632.3 1022.4h0M790.8 1023.0h0M607.4 1022.7h0M733.6 1022.2h0M622.8 1022.4h0M794.7 1022.3h0M691.5 1022.7h0M814.9 1023.0h0M841.8 1022.4h0M751.6 1022.7h0M749.4 1022.7h0M694.5 1022.4h0M786.6 1022.9h0M791.5 1022.7h0M880.6 1022.4h0M756.7 1022.9h0M781.9 1022.2h0M736.0 1022.9h0M636.1 1022.5h0M888.6 1022.6h0M746.5 1022.7h0M845.7 1022.6h0M861.4 1022.8h0M700.5 1022.7h0M667.8 1022.2h0M727.7 1022.2h0M667.4 1022.9h0M884.8 1022.4h0M624.3 1022.5h0M716.4 1022.3h0M831.7 1022.3h0M745.2 1022.4h0M779.9 1022.3h0M730.5 1022.9h0M576.0 1022.4h0M594.0 1022.9h0M787.7 1022.4h0M861.9 1022.3h0M728.7 1022.8h0M765.2 1022.3h0M585.9 1022.3h0M876.7 1022.9h0M667.9 1022.2h0M776.1 1022.4h0M859.3 1022.9h0M823.7 1022.8h0M822.6 1022.9h0M693.5 1022.8h0M574.7 1022.8h0M714.6 1023.0h0M824.9 1022.6h0M799.4 1022.7h0M770.3 1022.2h0M643.4 1022.4h0M798.3 1022.9h0M774.0 1022.8h0M776.5 1022.3h0M653.2 1022.7h0M814.7 1022.5h0M795.5 1022.5h0M672.5 1022.3h0M704.6 1022.7h0M606.1 1022.9h0M573.3 1022.8h0M682.9 1023.0h0M663.4 1022.2h0M794.1 1022.5h0M835.4 1022.7h0M713.4 1022.7h0M791.1 1022.5h0M633.7 1022.7h0M754.8 1022.2h0M623.0 1022.5h0M599.7 1022.6h0M698.6 1022.4h0M813.6 1022.8h0M592.3 1022.7h0M891.9 1022.7h0M889.4 1022.4h0M642.1 1022.5h0M646.5 1022.3h0M653.1 1022.6h0M833.3 1022.8h0M583.5 1022.8h0M777.2 1022.4h0M572.8 1022.9h0M614.2 1022.4h0M669.0 1022.8h0M876.6 1022.9h0M845.6 1022.9h0M723.5 1022.2h0M646.6 1022.3h0M608.1 1022.3h0M673.9 1022.2h0M666.2 1022.9h0M648.9 1022.6h0M846.0 1022.2h0M806.0 1022.6h0M580.4 1022.9h0M828.1 1022.3h0M881.8 1022.7h0M776.2 1022.4h0M580.5 1022.8h0M801.5 1022.3h0M581.6 1022.7h0M670.3 1022.5h0M851.6 1022.7h0M608.8 1022.8h0M803.8 1022.7h0M879.3 1022.6h0M781.0 1022.2h0M668.0 1022.4h0M709.7 1022.6h0M607.7 1022.8h0M588.2 1022.4h0M760.0 1022.2h0M677.0 1022.8h0M807.4 1022.5h0M624.7 1022.8h0M852.0 1022.3h0M706.0 1022.6h0M795.0 1022.4h0M836.7 1022.7h0M829.2 1023.0h0M791.8 1022.7h0M666.9 1022.4h0M691.6 1022.8h0M763.5 1022.4h0M862.8 1022.6h0M887.5 1022.7h0M808.5 1022.5h0M891.6 1022.6h0M788.7 1022.5h0M739.9 1022.3h0M689.8 1022.5h0M811.1 1022.3h0M634.6 1022.7h0M723.9 1022.9h0M576.9 1022.6h0M839.7 1022.8h0M684.8 1022.6h0M699.1 1022.2h0M596.9 1022.4h0M852.9 1022.4h0M663.0 1022.6h0M796.3 1022.7h0M670.7 1022.5h0M574.8 1022.8h0M692.7 1022.4h0M637.7 1022.6h0M619.1 1022.5h0M604.7 1022.4h0M741.3 1022.5h0M605.3 1022.9h0M589.9 1022.5h0M665.4 1022.2h0M666.3 1022.6h0M793.7 1022.4h0M693.4 1022.9h0M776.1 1022.6h0M639.3 1022.8h0M871.8 1022.4h0M846.0 1022.5h0M725.6 1022.2h0M649.2 1022.4h0M636.2 1022.9h0M878.4 1022.5h0M830.3 1022.4h0M758.7 1022.4h0M864.9 1022.6h0M761.7 1022.8h0M740.1 1022.6h0M801.0 1022.6h0M757.2 1022.4h0M620.0 1022.4h0M885.0 1022.7h0M576.5 1022.3h0M759.4 1022.6h0M890.8 1022.9h0M593.7 1022.8h0M888.8 1022.8h0M879.2 1022.5h0M774.2 1022.7h0M828.5 1022.8h0M836.2 1022.5h0M828.0 1022.7h0M881.7 1022.5h0M771.2 1022.9h0M816.6 1022.8h0M617.8 1022.3h0M673.5 1022.7h0M581.2 1022.7h0M609.4 1022.4h0M660.5 1022.6h0M803.1 1023.0h0M644.6 1022.3h0M848.2 1022.7h0M868.1 1022.8h0M612.7 1022.5h0M641.6 1022.6h0M663.0 1022.9h0M860.6 1022.4h0M894.2 1023.0h0M695.3 1022.9h0M876.8 1022.8h0M688.1 1022.7h0M818.8 1022.5h0M724.5 1022.3h0M621.2 1022.8h0M670.5 1022.8h0M709.6 1022.8h0M663.0 1022.3h0M786.7 1022.4h0M636.8 1022.6h0M731.2 1022.9h0M796.2 1022.5h0M713.3 1022.7h0M612.6 1022.4h0M766.1 1023.0h0M765.1 1022.4h0M883.8 1022.8h0M642.7 1022.5h0M581.5 1022.8h0M641.2 1022.9h0M802.9 1022.8h0M753.3 1022.4h0M582.3 1022.7h0M574.9 1022.6h0M821.1 1022.3h0M712.0 1022.6h0M619.4 1022.4h0M768.2 1022.3h0M619.9 1022.4h0M873.9 1022.9h0M606.6 1022.7h0M703.7 1022.2h0M652.0 1022.7h0M576.9 1023.0h0M663.0 1022.5h0M877.8 1022.3h0M612.9 1022.6h0M672.0 1022.5h0M759.2 1023.0h0M704.9 1022.2h0M691.3 1022.9h0M710.6 1022.2h0M651.4 1022.4h0M684.1 1022.5h0M787.8 1022.8h0M585.1 1022.3h0M836.7 1022.9h0M825.8 1022.3h0M794.9 1022.3h0M789.2 1022.4h0M842.4 1022.9h0M721.8 1022.8h0M876.4 1022.9h0M780.1 1022.7h0M686.1 1022.7h0M616.2 1022.6h0M598.2 1022.3h0M786.8 1022.5h0M637.8 1023.0h0M664.6 1022.6h0M729.3 1022.3h0M892.2 1022.8h0M859.3 1022.4h0M865.5 1022.9h0M875.4 1022.3h0M621.0 1022.3h0M599.7 1022.8h0M587.0 1022.6h0M685.5 1022.8h0M585.7 1022.8h0M880.7 1022.4h0M701.2 1022.8h0M669.5 1022.9h0M893.1 1022.4h0M722.8 1022.3h0M751.1 1022.5h0M885.3 1022.8h0M891.8 1022.8h0M837.6 1022.5h0M785.8 1022.3h0M683.3 1022.9h0M887.8 1022.3h0M730.7 1022.5h0M771.3 1022.7h0M655.1 1022.9h0M716.3 1022.8h0" stroke="#f00" stroke-width="2.8" stroke-linecap="round" fill="none"/>
<path d="M897.3 1047.5h0M896.8 1038.1h0M897.4 1029.5h0M895.6 1043.5h0M897.2 1042.0h0M897.5 1028.8h0M897.7 1039.4h0" stroke="#f00" stroke-width="2.6" stroke-linecap="round" fill="none"/>
<path d="M898.3 1037.3h0M898.1 1025.4h0M896.0 1037.3h0M897.5 1033.3h0M895.7 1045.3h0M895.7 1045.3h0M896.2 1040.9h0" stroke="#00f" stroke-width="2.8" stroke-linecap="round" fill="none"/>
<rect x="569.6" y="1023" width="325.9" height="28.6" fill="#00f"/>
<path d="M762.6 1051.1h0M676.9 1051.1h0M743.1 1051.2h0M746.6 1051.2h0M609.6 1051.4h0M655.3 1051.6h0M701.8 1051.2h0M803.1 1051.5h0M690.5 1051.4h0M677.9 1051.6h0M667.8 1051.0h0M571.9 1051.3h0M772.8 1051.2h0M704.6 1051.2h0M688.2 1051.1h0M746.9 1051.4h0M579.4 1051.5h0M654.6 1051.3h0M641.1 1051.4h0M702.0 1051.3h0M702.6 1051.3h0M598.6 1051.6h0M708.4 1051.2h0M844.7 1051.2h0M826.7 1051.3h0M608.4 1051.3h0M661.3 1051.1h0M891.0 1051.6h0M723.2 1051.5h0M787.4 1051.2h0M612.5 1051.3h0M632.4 1051.5h0M763.2 1051.1h0M822.0 1051.6h0M726.0 1051.6h0M716.2 1051.0h0M720.2 1051.2h0M867.6 1051.3h0M881.6 1051.1h0M694.6 1051.0h0M587.2 1051.4h0M581.3 1051.1h0M711.2 1051.6h0M647.0 1051.0h0M797.6 1051.4h0M615.5 1051.6h0M850.7 1051.6h0M837.2 1051.3h0M797.6 1051.1h0M779.0 1051.2h0M679.3 1051.2h0M596.8 1051.5h0M818.0 1051.0h0M736.6 1051.0h0M747.1 1051.1h0M881.6 1051.2h0M740.0 1051.2h0M863.2 1051.0h0M668.6 1051.1h0M812.2 1051.2h0M849.5 1051.2h0M611.3 1051.3h0M598.5 1051.1h0M739.9 1051.3h0M639.8 1051.1h0M739.4 1051.3h0M726.5 1051.4h0M616.2 1051.0h0M591.6 1051.5h0M798.0 1051.1h0M677.6 1051.2h0M869.3 1051.2h0M801.8 1051.1h0M584.0 1051.1h0M778.3 1051.3h0M852.9 1051.5h0M785.7 1051.6h0M881.4 1051.5h0M599.5 1051.2h0M617.7 1051.4h0M734.1 1051.1h0M596.3 1051.3h0M772.9 1051.2h0M723.3 1051.4h0M796.5 1051.4h0M705.0 1051.1h0M852.2 1051.0h0M637.2 1051.1h0M763.0 1051.4h0M602.9 1051.3h0M756.7 1051.4h0M594.5 1051.4h0M658.1 1051.2h0M610.9 1051.5h0M770.7 1051.5h0M737.2 1051.1h0M700.5 1051.0h0M602.6 1051.5h0M570.6 1051.2h0M584.1 1051.5h0M891.3 1051.0h0M688.3 1051.6h0M651.8 1051.2h0M890.2 1051.6h0M695.7 1051.4h0M827.6 1051.2h0M571.3 1051.2h0M794.8 1051.6h0M713.6 1051.2h0M693.9 1051.4h0M577.8 1051.5h0M879.4 1051.0h0M572.6 1051.2h0M617.8 1051.5h0M852.2 1051.3h0M876.2 1051.1h0M634.1 1051.2h0M716.7 1051.1h0M868.7 1051.5h0M663.9 1051.1h0M662.4 1051.2h0M782.4 1051.5h0M878.1 1051.0h0M633.9 1051.2h0M878.8 1051.3h0M803.4 1051.5h0M719.8 1051.2h0M821.8 1051.4h0M892.0 1051.2h0M879.2 1051.3h0M851.8 1051.4h0M753.0 1051.5h0M596.7 1051.2h0M728.4 1051.5h0M630.8 1051.5h0M599.1 1051.2h0M720.7 1051.4h0M739.8 1051.5h0M794.8 1051.2h0M739.2 1051.2h0M853.0 1051.2h0M629.1 1051.1h0M651.7 1051.5h0M792.9 1051.1h0M706.6 1051.5h0M881.6 1051.1h0M876.1 1051.0h0M893.9 1051.2h0M879.5 1051.0h0M793.4 1051.6h0M836.1 1051.3h0M621.0 1051.1h0M875.9 1051.5h0M642.2 1051.2h0M769.1 1051.2h0M639.6 1051.5h0M606.6 1051.4h0M701.9 1051.3h0M852.7 1051.4h0M821.3 1051.0h0M832.9 1051.5h0M570.8 1051.1h0M807.1 1051.5h0M745.2 1051.5h0M599.0 1051.2h0M836.1 1051.5h0M642.9 1051.3h0M712.5 1051.4h0M699.5 1051.2h0M817.2 1051.4h0M687.7 1051.4h0M655.5 1051.3h0M631.3 1051.2h0M706.1 1051.1h0M671.5 1051.2h0M676.5 1051.3h0M861.8 1051.5h0M666.3 1051.1h0M599.0 1051.5h0M816.6 1051.4h0M864.5 1051.2h0M626.0 1051.1h0M699.9 1051.5h0M598.2 1051.3h0M596.9 1051.1h0M749.8 1051.4h0M875.7 1051.2h0M645.8 1051.0h0M631.4 1051.0h0M571.0 1051.1h0M744.3 1051.3h0M864.1 1051.3h0M598.7 1051.1h0M797.3 1051.6h0M813.2 1051.1h0M682.4 1051.3h0M710.9 1051.2h0M620.6 1051.0h0M855.5 1051.6h0M887.2 1051.2h0" stroke="#00f" stroke-width="2.0" stroke-linecap="round" fill="none"/>
<rect x="569.6" y="1181.2" width="329.6" height="13" fill="#000" rx="1"/>
<rect x="569.6" y="1190" width="15" height="7" fill="#000"/>
<text transform="matrix(0.318 0 0 0.381 324.557 34.7)" font-size="100" font-family="Liberation Sans, sans-serif" fill="#000">M</text>
<text transform="matrix(0.186 0 0 0.191 351.747 40.35)" font-size="100" font-family="Liberation Sans, sans-serif" font-weight="bold" fill="#000" stroke="#000" stroke-width="0.5" vector-effect="non-scaling-stroke" stroke-linejoin="round">N</text>
<text transform="matrix(0.44 0 0 0.237 366.602 31.337)" font-size="100" font-family="Liberation Sans, sans-serif" fill="#000" stroke="#000" stroke-width="2.2" vector-effect="non-scaling-stroke" stroke-linejoin="round">=</text>
<text transform="matrix(0.419 0 0 0.389 395.122 34.911)" font-size="100" font-family="Liberation Sans, sans-serif" fill="#000" stroke="#fff" stroke-width="0.6" vector-effect="non-scaling-stroke">300</text>
<text transform="matrix(0.328 0 0 0.377 478.059 34.623)" font-size="100" font-family="Liberation Sans, sans-serif" fill="#000">GeV</text>
<text transform="matrix(0.48 0 0 0.421 542.88 33.929)" font-size="100" font-family="Liberation Sans, sans-serif" fill="#000">,</text>
<text transform="matrix(0.327 0 0 0.381 566.585 34.7)" font-size="100" font-family="Liberation Sans, sans-serif" fill="#000">M</text>
<text transform="matrix(0.194 0 0 0.177 594.394 39.75)" font-size="100" font-family="Liberation Sans, sans-serif" font-weight="bold" fill="#000" stroke="#000" stroke-width="0.5" vector-effect="non-scaling-stroke" stroke-linejoin="round">h</text>
<text transform="matrix(0.444 0 0 0.237 608.581 31.337)" font-size="100" font-family="Liberation Sans, sans-serif" fill="#000" stroke="#000" stroke-width="2.2" vector-effect="non-scaling-stroke" stroke-linejoin="round">=</text>
<text transform="matrix(0.362 0 0 0.381 639.189 34.7)" font-size="100" font-family="Liberation Sans, sans-serif" clip-path="url(#k1)" fill="#000">1</text>
<text transform="matrix(0.401 0 0 0.389 660.395 34.911)" font-size="100" font-family="Liberation Sans, sans-serif" fill="#000" stroke="#fff" stroke-width="0.6" vector-effect="non-scaling-stroke">25</text>
<text transform="matrix(0.332 0 0 0.377 718.738 34.623)" font-size="100" font-family="Liberation Sans, sans-serif" fill="#000">GeV</text>
<text transform="matrix(0.305 0 0 0.396 209.782 80.7)" font-size="100" font-family="Liberation Sans, sans-serif" fill="#000">Ω</text>
<text transform="matrix(0.444 0 0 0.272 234.381 76.822)" font-size="100" font-family="Liberation Sans, sans-serif" fill="#000" stroke="#000" stroke-width="2.2" vector-effect="non-scaling-stroke" stroke-linejoin="round">=</text>
<text transform="matrix(0.369 0 0 0.388 265.654 79.8)" font-size="100" font-family="Liberation Sans, sans-serif" clip-path="url(#k1)" fill="#000">1</text>
<text transform="matrix(0.431 0 0 0.424 298.715 79.086)" font-size="100" font-family="Liberation Sans, sans-serif" fill="#000">(</text>
<text transform="matrix(0.355 0 0 0.388 314.863 79.8)" font-size="100" font-family="Liberation Sans, sans-serif" fill="#000">NH</text>
<text transform="matrix(0.431 0 0 0.424 367.369 79.086)" font-size="100" font-family="Liberation Sans, sans-serif" fill="#000">)</text>
<text transform="matrix(0.295 0 0 0.396 652.018 80.7)" font-size="100" font-family="Liberation Sans, sans-serif" fill="#000">Ω</text>
<text transform="matrix(0.454 0 0 0.272 676.229 76.822)" font-size="100" font-family="Liberation Sans, sans-serif" fill="#000" stroke="#000" stroke-width="2.2" vector-effect="non-scaling-stroke" stroke-linejoin="round">=</text>
<text transform="matrix(0.369 0 0 0.388 706.854 79.8)" font-size="100" font-family="Liberation Sans, sans-serif" clip-path="url(#k1)" fill="#000">1</text>
<text transform="matrix(0.427 0 0 0.424 740.138 79.086)" font-size="100" font-family="Liberation Sans, sans-serif" fill="#000">(</text>
<text transform="matrix(0.29 0 0 0.388 756.89 79.8)" font-size="100" font-family="Liberation Sans, sans-serif" fill="#000">I</text>
<text transform="matrix(0.359 0 0 0.388 766.029 79.8)" font-size="100" font-family="Liberation Sans, sans-serif" fill="#000">H</text>
<text transform="matrix(0.423 0 0 0.424 793.577 79.086)" font-size="100" font-family="Liberation Sans, sans-serif" fill="#000">)</text>
<text transform="matrix(0.334 0 0 0.332 98.26 498.668)" font-size="100" font-family="Liberation Sans, sans-serif" clip-path="url(#k10)" fill="#000" stroke="#000" stroke-width="0.6" vector-effect="non-scaling-stroke" stroke-linejoin="round">10</text>
<text transform="matrix(0.265 0 0 0.265 144.641 474.765)" font-size="100" font-family="Liberation Sans, sans-serif" fill="#000" stroke="#000" stroke-width="0.6" vector-effect="non-scaling-stroke" stroke-linejoin="round">-4</text>
<text transform="matrix(0.334 0 0 0.332 212.726 498.668)" font-size="100" font-family="Liberation Sans, sans-serif" clip-path="url(#k10)" fill="#000" stroke="#000" stroke-width="0.6" vector-effect="non-scaling-stroke" stroke-linejoin="round">10</text>
<text transform="matrix(0.266 0 0 0.262 259.102 474.538)" font-size="100" font-family="Liberation Sans, sans-serif" fill="#000" stroke="#000" stroke-width="0.6" vector-effect="non-scaling-stroke" stroke-linejoin="round">-3</text>
<text transform="matrix(0.334 0 0 0.332 327.193 498.668)" font-size="100" font-family="Liberation Sans, sans-serif" clip-path="url(#k10)" fill="#000" stroke="#000" stroke-width="0.6" vector-effect="non-scaling-stroke" stroke-linejoin="round">10</text>
<text transform="matrix(0.264 0 0 0.261 373.578 474.5)" font-size="100" font-family="Liberation Sans, sans-serif" fill="#000" stroke="#000" stroke-width="0.6" vector-effect="non-scaling-stroke" stroke-linejoin="round">-2</text>
<text transform="matrix(0.334 0 0 0.332 441.66 498.668)" font-size="100" font-family="Liberation Sans, sans-serif" clip-path="url(#k10)" fill="#000" stroke="#000" stroke-width="0.6" vector-effect="non-scaling-stroke" stroke-linejoin="round">10</text>
<text transform="matrix(0.281 0 0 0.264 487.976 474.6)" font-size="100" font-family="Liberation Sans, sans-serif" clip-path="url(#km1)" fill="#000" stroke="#000" stroke-width="0.6" vector-effect="non-scaling-stroke" stroke-linejoin="round">-1</text>
<text transform="matrix(0.342 0 0 0.336 86.183 106.9)" font-size="100" font-family="Liberation Sans, sans-serif" clip-path="url(#k1)" fill="#000" stroke="#000" stroke-width="0.6" vector-effect="non-scaling-stroke" stroke-linejoin="round">1</text>
<text transform="matrix(0.34 0 0 0.33 54.298 219.97)" font-size="100" font-family="Liberation Sans, sans-serif" clip-path="url(#k10)" fill="#000" stroke="#000" stroke-width="0.6" vector-effect="non-scaling-stroke" stroke-linejoin="round">10</text>
<text transform="matrix(0.281 0 0 0.264 104.976 190)" font-size="100" font-family="Liberation Sans, sans-serif" clip-path="url(#km1)" fill="#000" stroke="#000" stroke-width="0.6" vector-effect="non-scaling-stroke" stroke-linejoin="round">-1</text>
<text transform="matrix(0.334 0 0 0.331 54.56 446.269)" font-size="100" font-family="Liberation Sans, sans-serif" clip-path="url(#k10)" fill="#000" stroke="#000" stroke-width="0.6" vector-effect="non-scaling-stroke" stroke-linejoin="round">10</text>
<text transform="matrix(0.274 0 0 0.256 105.005 416.544)" font-size="100" font-family="Liberation Sans, sans-serif" fill="#000" stroke="#000" stroke-width="0.6" vector-effect="non-scaling-stroke" stroke-linejoin="round">-3</text>
<text transform="matrix(0.334 0 0 0.332 98.26 935.468)" font-size="100" font-family="Liberation Sans, sans-serif" clip-path="url(#k10)" fill="#000" stroke="#000" stroke-width="0.6" vector-effect="non-scaling-stroke" stroke-linejoin="round">10</text>
<text transform="matrix(0.265 0 0 0.265 144.641 911.565)" font-size="100" font-family="Liberation Sans, sans-serif" fill="#000" stroke="#000" stroke-width="0.6" vector-effect="non-scaling-stroke" stroke-linejoin="round">-4</text>
<text transform="matrix(0.334 0 0 0.332 212.726 935.468)" font-size="100" font-family="Liberation Sans, sans-serif" clip-path="url(#k10)" fill="#000" stroke="#000" stroke-width="0.6" vector-effect="non-scaling-stroke" stroke-linejoin="round">10</text>
<text transform="matrix(0.266 0 0 0.262 259.102 911.338)" font-size="100" font-family="Liberation Sans, sans-serif" fill="#000" stroke="#000" stroke-width="0.6" vector-effect="non-scaling-stroke" stroke-linejoin="round">-3</text>
<text transform="matrix(0.334 0 0 0.332 327.193 935.468)" font-size="100" font-family="Liberation Sans, sans-serif" clip-path="url(#k10)" fill="#000" stroke="#000" stroke-width="0.6" vector-effect="non-scaling-stroke" stroke-linejoin="round">10</text>
<text transform="matrix(0.264 0 0 0.261 373.578 911.3)" font-size="100" font-family="Liberation Sans, sans-serif" fill="#000" stroke="#000" stroke-width="0.6" vector-effect="non-scaling-stroke" stroke-linejoin="round">-2</text>
<text transform="matrix(0.334 0 0 0.332 441.66 935.468)" font-size="100" font-family="Liberation Sans, sans-serif" clip-path="url(#k10)" fill="#000" stroke="#000" stroke-width="0.6" vector-effect="non-scaling-stroke" stroke-linejoin="round">10</text>
<text transform="matrix(0.281 0 0 0.264 487.976 911.4)" font-size="100" font-family="Liberation Sans, sans-serif" clip-path="url(#km1)" fill="#000" stroke="#000" stroke-width="0.6" vector-effect="non-scaling-stroke" stroke-linejoin="round">-1</text>
<text transform="matrix(0.342 0 0 0.336 86.183 543.7)" font-size="100" font-family="Liberation Sans, sans-serif" clip-path="url(#k1)" fill="#000" stroke="#000" stroke-width="0.6" vector-effect="non-scaling-stroke" stroke-linejoin="round">1</text>
<text transform="matrix(0.34 0 0 0.33 54.298 656.77)" font-size="100" font-family="Liberation Sans, sans-serif" clip-path="url(#k10)" fill="#000" stroke="#000" stroke-width="0.6" vector-effect="non-scaling-stroke" stroke-linejoin="round">10</text>
<text transform="matrix(0.281 0 0 0.264 104.976 626.8)" font-size="100" font-family="Liberation Sans, sans-serif" clip-path="url(#km1)" fill="#000" stroke="#000" stroke-width="0.6" vector-effect="non-scaling-stroke" stroke-linejoin="round">-1</text>
<text transform="matrix(0.334 0 0 0.331 54.56 883.069)" font-size="100" font-family="Liberation Sans, sans-serif" clip-path="url(#k10)" fill="#000" stroke="#000" stroke-width="0.6" vector-effect="non-scaling-stroke" stroke-linejoin="round">10</text>
<text transform="matrix(0.274 0 0 0.256 105.005 853.344)" font-size="100" font-family="Liberation Sans, sans-serif" fill="#000" stroke="#000" stroke-width="0.6" vector-effect="non-scaling-stroke" stroke-linejoin="round">-3</text>
<text transform="matrix(0.334 0 0 0.332 98.26 1372.668)" font-size="100" font-family="Liberation Sans, sans-serif" clip-path="url(#k10)" fill="#000" stroke="#000" stroke-width="0.6" vector-effect="non-scaling-stroke" stroke-linejoin="round">10</text>
<text transform="matrix(0.265 0 0 0.265 144.641 1348.765)" font-size="100" font-family="Liberation Sans, sans-serif" fill="#000" stroke="#000" stroke-width="0.6" vector-effect="non-scaling-stroke" stroke-linejoin="round">-4</text>
<text transform="matrix(0.334 0 0 0.332 212.726 1372.668)" font-size="100" font-family="Liberation Sans, sans-serif" clip-path="url(#k10)" fill="#000" stroke="#000" stroke-width="0.6" vector-effect="non-scaling-stroke" stroke-linejoin="round">10</text>
<text transform="matrix(0.266 0 0 0.262 259.102 1348.538)" font-size="100" font-family="Liberation Sans, sans-serif" fill="#000" stroke="#000" stroke-width="0.6" vector-effect="non-scaling-stroke" stroke-linejoin="round">-3</text>
<text transform="matrix(0.334 0 0 0.332 327.193 1372.668)" font-size="100" font-family="Liberation Sans, sans-serif" clip-path="url(#k10)" fill="#000" stroke="#000" stroke-width="0.6" vector-effect="non-scaling-stroke" stroke-linejoin="round">10</text>
<text transform="matrix(0.264 0 0 0.261 373.578 1348.5)" font-size="100" font-family="Liberation Sans, sans-serif" fill="#000" stroke="#000" stroke-width="0.6" vector-effect="non-scaling-stroke" stroke-linejoin="round">-2</text>
<text transform="matrix(0.334 0 0 0.332 441.66 1372.668)" font-size="100" font-family="Liberation Sans, sans-serif" clip-path="url(#k10)" fill="#000" stroke="#000" stroke-width="0.6" vector-effect="non-scaling-stroke" stroke-linejoin="round">10</text>
<text transform="matrix(0.281 0 0 0.264 487.976 1348.6)" font-size="100" font-family="Liberation Sans, sans-serif" clip-path="url(#km1)" fill="#000" stroke="#000" stroke-width="0.6" vector-effect="non-scaling-stroke" stroke-linejoin="round">-1</text>
<text transform="matrix(0.342 0 0 0.336 86.183 980.9)" font-size="100" font-family="Liberation Sans, sans-serif" clip-path="url(#k1)" fill="#000" stroke="#000" stroke-width="0.6" vector-effect="non-scaling-stroke" stroke-linejoin="round">1</text>
<text transform="matrix(0.34 0 0 0.33 54.298 1093.97)" font-size="100" font-family="Liberation Sans, sans-serif" clip-path="url(#k10)" fill="#000" stroke="#000" stroke-width="0.6" vector-effect="non-scaling-stroke" stroke-linejoin="round">10</text>
<text transform="matrix(0.281 0 0 0.264 104.976 1064)" font-size="100" font-family="Liberation Sans, sans-serif" clip-path="url(#km1)" fill="#000" stroke="#000" stroke-width="0.6" vector-effect="non-scaling-stroke" stroke-linejoin="round">-1</text>
<text transform="matrix(0.334 0 0 0.331 54.56 1320.269)" font-size="100" font-family="Liberation Sans, sans-serif" clip-path="url(#k10)" fill="#000" stroke="#000" stroke-width="0.6" vector-effect="non-scaling-stroke" stroke-linejoin="round">10</text>
<text transform="matrix(0.274 0 0 0.256 105.005 1290.544)" font-size="100" font-family="Liberation Sans, sans-serif" fill="#000" stroke="#000" stroke-width="0.6" vector-effect="non-scaling-stroke" stroke-linejoin="round">-3</text>
<text transform="matrix(0.334 0 0 0.332 540.16 498.668)" font-size="100" font-family="Liberation Sans, sans-serif" clip-path="url(#k10)" fill="#000" stroke="#000" stroke-width="0.6" vector-effect="non-scaling-stroke" stroke-linejoin="round">10</text>
<text transform="matrix(0.265 0 0 0.265 586.541 474.765)" font-size="100" font-family="Liberation Sans, sans-serif" fill="#000" stroke="#000" stroke-width="0.6" vector-effect="non-scaling-stroke" stroke-linejoin="round">-4</text>
<text transform="matrix(0.334 0 0 0.332 654.96 498.668)" font-size="100" font-family="Liberation Sans, sans-serif" clip-path="url(#k10)" fill="#000" stroke="#000" stroke-width="0.6" vector-effect="non-scaling-stroke" stroke-linejoin="round">10</text>
<text transform="matrix(0.266 0 0 0.262 701.335 474.538)" font-size="100" font-family="Liberation Sans, sans-serif" fill="#000" stroke="#000" stroke-width="0.6" vector-effect="non-scaling-stroke" stroke-linejoin="round">-3</text>
<text transform="matrix(0.334 0 0 0.332 769.76 498.668)" font-size="100" font-family="Liberation Sans, sans-serif" clip-path="url(#k10)" fill="#000" stroke="#000" stroke-width="0.6" vector-effect="non-scaling-stroke" stroke-linejoin="round">10</text>
<text transform="matrix(0.264 0 0 0.261 816.145 474.5)" font-size="100" font-family="Liberation Sans, sans-serif" fill="#000" stroke="#000" stroke-width="0.6" vector-effect="non-scaling-stroke" stroke-linejoin="round">-2</text>
<text transform="matrix(0.334 0 0 0.332 884.56 498.668)" font-size="100" font-family="Liberation Sans, sans-serif" clip-path="url(#k10)" fill="#000" stroke="#000" stroke-width="0.6" vector-effect="non-scaling-stroke" stroke-linejoin="round">10</text>
<text transform="matrix(0.281 0 0 0.264 930.876 474.6)" font-size="100" font-family="Liberation Sans, sans-serif" clip-path="url(#km1)" fill="#000" stroke="#000" stroke-width="0.6" vector-effect="non-scaling-stroke" stroke-linejoin="round">-1</text>
<text transform="matrix(0.342 0 0 0.336 528.483 106.9)" font-size="100" font-family="Liberation Sans, sans-serif" clip-path="url(#k1)" fill="#000" stroke="#000" stroke-width="0.6" vector-effect="non-scaling-stroke" stroke-linejoin="round">1</text>
<text transform="matrix(0.34 0 0 0.33 496.598 219.97)" font-size="100" font-family="Liberation Sans, sans-serif" clip-path="url(#k10)" fill="#000" stroke="#000" stroke-width="0.6" vector-effect="non-scaling-stroke" stroke-linejoin="round">10</text>
<text transform="matrix(0.281 0 0 0.264 547.276 190)" font-size="100" font-family="Liberation Sans, sans-serif" clip-path="url(#km1)" fill="#000" stroke="#000" stroke-width="0.6" vector-effect="non-scaling-stroke" stroke-linejoin="round">-1</text>
<text transform="matrix(0.334 0 0 0.331 496.86 446.269)" font-size="100" font-family="Liberation Sans, sans-serif" clip-path="url(#k10)" fill="#000" stroke="#000" stroke-width="0.6" vector-effect="non-scaling-stroke" stroke-linejoin="round">10</text>
<text transform="matrix(0.274 0 0 0.256 547.305 416.544)" font-size="100" font-family="Liberation Sans, sans-serif" fill="#000" stroke="#000" stroke-width="0.6" vector-effect="non-scaling-stroke" stroke-linejoin="round">-3</text>
<text transform="matrix(0.334 0 0 0.332 540.16 935.468)" font-size="100" font-family="Liberation Sans, sans-serif" clip-path="url(#k10)" fill="#000" stroke="#000" stroke-width="0.6" vector-effect="non-scaling-stroke" stroke-linejoin="round">10</text>
<text transform="matrix(0.265 0 0 0.265 586.541 911.565)" font-size="100" font-family="Liberation Sans, sans-serif" fill="#000" stroke="#000" stroke-width="0.6" vector-effect="non-scaling-stroke" stroke-linejoin="round">-4</text>
<text transform="matrix(0.334 0 0 0.332 654.96 935.468)" font-size="100" font-family="Liberation Sans, sans-serif" clip-path="url(#k10)" fill="#000" stroke="#000" stroke-width="0.6" vector-effect="non-scaling-stroke" stroke-linejoin="round">10</text>
<text transform="matrix(0.266 0 0 0.262 701.335 911.338)" font-size="100" font-family="Liberation Sans, sans-serif" fill="#000" stroke="#000" stroke-width="0.6" vector-effect="non-scaling-stroke" stroke-linejoin="round">-3</text>
<text transform="matrix(0.334 0 0 0.332 769.76 935.468)" font-size="100" font-family="Liberation Sans, sans-serif" clip-path="url(#k10)" fill="#000" stroke="#000" stroke-width="0.6" vector-effect="non-scaling-stroke" stroke-linejoin="round">10</text>
<text transform="matrix(0.264 0 0 0.261 816.145 911.3)" font-size="100" font-family="Liberation Sans, sans-serif" fill="#000" stroke="#000" stroke-width="0.6" vector-effect="non-scaling-stroke" stroke-linejoin="round">-2</text>
<text transform="matrix(0.334 0 0 0.332 884.56 935.468)" font-size="100" font-family="Liberation Sans, sans-serif" clip-path="url(#k10)" fill="#000" stroke="#000" stroke-width="0.6" vector-effect="non-scaling-stroke" stroke-linejoin="round">10</text>
<text transform="matrix(0.281 0 0 0.264 930.876 911.4)" font-size="100" font-family="Liberation Sans, sans-serif" clip-path="url(#km1)" fill="#000" stroke="#000" stroke-width="0.6" vector-effect="non-scaling-stroke" stroke-linejoin="round">-1</text>
<text transform="matrix(0.342 0 0 0.336 528.483 543.7)" font-size="100" font-family="Liberation Sans, sans-serif" clip-path="url(#k1)" fill="#000" stroke="#000" stroke-width="0.6" vector-effect="non-scaling-stroke" stroke-linejoin="round">1</text>
<text transform="matrix(0.34 0 0 0.33 496.598 656.77)" font-size="100" font-family="Liberation Sans, sans-serif" clip-path="url(#k10)" fill="#000" stroke="#000" stroke-width="0.6" vector-effect="non-scaling-stroke" stroke-linejoin="round">10</text>
<text transform="matrix(0.281 0 0 0.264 547.276 626.8)" font-size="100" font-family="Liberation Sans, sans-serif" clip-path="url(#km1)" fill="#000" stroke="#000" stroke-width="0.6" vector-effect="non-scaling-stroke" stroke-linejoin="round">-1</text>
<text transform="matrix(0.334 0 0 0.331 496.86 883.069)" font-size="100" font-family="Liberation Sans, sans-serif" clip-path="url(#k10)" fill="#000" stroke="#000" stroke-width="0.6" vector-effect="non-scaling-stroke" stroke-linejoin="round">10</text>
<text transform="matrix(0.274 0 0 0.256 547.305 853.344)" font-size="100" font-family="Liberation Sans, sans-serif" fill="#000" stroke="#000" stroke-width="0.6" vector-effect="non-scaling-stroke" stroke-linejoin="round">-3</text>
<text transform="matrix(0.334 0 0 0.332 540.16 1372.668)" font-size="100" font-family="Liberation Sans, sans-serif" clip-path="url(#k10)" fill="#000" stroke="#000" stroke-width="0.6" vector-effect="non-scaling-stroke" stroke-linejoin="round">10</text>
<text transform="matrix(0.265 0 0 0.265 586.541 1348.765)" font-size="100" font-family="Liberation Sans, sans-serif" fill="#000" stroke="#000" stroke-width="0.6" vector-effect="non-scaling-stroke" stroke-linejoin="round">-4</text>
<text transform="matrix(0.334 0 0 0.332 654.96 1372.668)" font-size="100" font-family="Liberation Sans, sans-serif" clip-path="url(#k10)" fill="#000" stroke="#000" stroke-width="0.6" vector-effect="non-scaling-stroke" stroke-linejoin="round">10</text>
<text transform="matrix(0.266 0 0 0.262 701.335 1348.538)" font-size="100" font-family="Liberation Sans, sans-serif" fill="#000" stroke="#000" stroke-width="0.6" vector-effect="non-scaling-stroke" stroke-linejoin="round">-3</text>
<text transform="matrix(0.334 0 0 0.332 769.76 1372.668)" font-size="100" font-family="Liberation Sans, sans-serif" clip-path="url(#k10)" fill="#000" stroke="#000" stroke-width="0.6" vector-effect="non-scaling-stroke" stroke-linejoin="round">10</text>
<text transform="matrix(0.264 0 0 0.261 816.145 1348.5)" font-size="100" font-family="Liberation Sans, sans-serif" fill="#000" stroke="#000" stroke-width="0.6" vector-effect="non-scaling-stroke" stroke-linejoin="round">-2</text>
<text transform="matrix(0.334 0 0 0.332 884.56 1372.668)" font-size="100" font-family="Liberation Sans, sans-serif" clip-path="url(#k10)" fill="#000" stroke="#000" stroke-width="0.6" vector-effect="non-scaling-stroke" stroke-linejoin="round">10</text>
<text transform="matrix(0.281 0 0 0.264 930.876 1348.6)" font-size="100" font-family="Liberation Sans, sans-serif" clip-path="url(#km1)" fill="#000" stroke="#000" stroke-width="0.6" vector-effect="non-scaling-stroke" stroke-linejoin="round">-1</text>
<text transform="matrix(0.342 0 0 0.336 528.483 980.9)" font-size="100" font-family="Liberation Sans, sans-serif" clip-path="url(#k1)" fill="#000" stroke="#000" stroke-width="0.6" vector-effect="non-scaling-stroke" stroke-linejoin="round">1</text>
<text transform="matrix(0.34 0 0 0.33 496.598 1093.97)" font-size="100" font-family="Liberation Sans, sans-serif" clip-path="url(#k10)" fill="#000" stroke="#000" stroke-width="0.6" vector-effect="non-scaling-stroke" stroke-linejoin="round">10</text>
<text transform="matrix(0.281 0 0 0.264 547.276 1064)" font-size="100" font-family="Liberation Sans, sans-serif" clip-path="url(#km1)" fill="#000" stroke="#000" stroke-width="0.6" vector-effect="non-scaling-stroke" stroke-linejoin="round">-1</text>
<text transform="matrix(0.334 0 0 0.331 496.86 1320.269)" font-size="100" font-family="Liberation Sans, sans-serif" clip-path="url(#k10)" fill="#000" stroke="#000" stroke-width="0.6" vector-effect="non-scaling-stroke" stroke-linejoin="round">10</text>
<text transform="matrix(0.274 0 0 0.256 547.305 1290.544)" font-size="100" font-family="Liberation Sans, sans-serif" fill="#000" stroke="#000" stroke-width="0.6" vector-effect="non-scaling-stroke" stroke-linejoin="round">-3</text>
<text transform="matrix(0.315 0 0 0.373 164.789 135.077)" font-size="100" font-family="Liberation Sans, sans-serif" fill="#000" stroke="#000" stroke-width="0.5" vector-effect="non-scaling-stroke" stroke-linejoin="round">eW</text>
<text transform="matrix(0.469 0 0 0.392 164.288 323.808)" font-size="100" font-family="Liberation Sans, sans-serif" font-style="italic" fill="#f00" stroke="#fff" stroke-width="1.5" vector-effect="non-scaling-stroke">μ</text>
<text transform="matrix(0.281 0 0 0.378 189.169 321.55)" font-size="100" font-family="Liberation Sans, sans-serif" fill="#f00" stroke="#f00" stroke-width="0.5" vector-effect="non-scaling-stroke" stroke-linejoin="round">W</text>
<text transform="matrix(0.547 0 0 0.365 231.061 322.485)" font-size="100" font-family="Liberation Sans, sans-serif" font-style="italic" fill="#00f" stroke="#fff" stroke-width="1.3" vector-effect="non-scaling-stroke">τ</text>
<text transform="matrix(0.281 0 0 0.378 256.569 321.55)" font-size="100" font-family="Liberation Sans, sans-serif" fill="#00f" stroke="#00f" stroke-width="0.5" vector-effect="non-scaling-stroke" stroke-linejoin="round">W</text>
<text transform="matrix(0.315 0 0 0.373 164.789 576.877)" font-size="100" font-family="Liberation Sans, sans-serif" fill="#000" stroke="#000" stroke-width="0.5" vector-effect="non-scaling-stroke" stroke-linejoin="round">eW</text>
<text transform="matrix(0.469 0 0 0.392 232.688 579.508)" font-size="100" font-family="Liberation Sans, sans-serif" font-style="italic" fill="#f00" stroke="#fff" stroke-width="1.5" vector-effect="non-scaling-stroke">μ</text>
<text transform="matrix(0.281 0 0 0.378 257.569 577.25)" font-size="100" font-family="Liberation Sans, sans-serif" fill="#f00" stroke="#f00" stroke-width="0.5" vector-effect="non-scaling-stroke" stroke-linejoin="round">W</text>
<text transform="matrix(0.547 0 0 0.365 311.461 578.185)" font-size="100" font-family="Liberation Sans, sans-serif" font-style="italic" fill="#00f" stroke="#fff" stroke-width="1.3" vector-effect="non-scaling-stroke">τ</text>
<text transform="matrix(0.281 0 0 0.378 336.969 577.25)" font-size="100" font-family="Liberation Sans, sans-serif" fill="#00f" stroke="#00f" stroke-width="0.5" vector-effect="non-scaling-stroke" stroke-linejoin="round">W</text>
<text transform="matrix(0.469 0 0 0.392 163.688 1011.308)" font-size="100" font-family="Liberation Sans, sans-serif" font-style="italic" fill="#f00" stroke="#fff" stroke-width="1.5" vector-effect="non-scaling-stroke">μ</text>
<text transform="matrix(0.281 0 0 0.378 188.569 1009.05)" font-size="100" font-family="Liberation Sans, sans-serif" fill="#f00" stroke="#f00" stroke-width="0.5" vector-effect="non-scaling-stroke" stroke-linejoin="round">W</text>
<text transform="matrix(0.547 0 0 0.365 231.161 1009.985)" font-size="100" font-family="Liberation Sans, sans-serif" font-style="italic" fill="#00f" stroke="#fff" stroke-width="1.3" vector-effect="non-scaling-stroke">τ</text>
<text transform="matrix(0.281 0 0 0.378 256.669 1009.05)" font-size="100" font-family="Liberation Sans, sans-serif" fill="#00f" stroke="#00f" stroke-width="0.5" vector-effect="non-scaling-stroke" stroke-linejoin="round">W</text>
<text transform="matrix(0.315 0 0 0.373 164.589 1141.177)" font-size="100" font-family="Liberation Sans, sans-serif" fill="#000" stroke="#000" stroke-width="0.5" vector-effect="non-scaling-stroke" stroke-linejoin="round">eW</text>
<text transform="matrix(0.315 0 0 0.373 606.289 135.077)" font-size="100" font-family="Liberation Sans, sans-serif" fill="#000" stroke="#000" stroke-width="0.5" vector-effect="non-scaling-stroke" stroke-linejoin="round">eW</text>
<text transform="matrix(0.469 0 0 0.392 605.788 323.808)" font-size="100" font-family="Liberation Sans, sans-serif" font-style="italic" fill="#f00" stroke="#fff" stroke-width="1.5" vector-effect="non-scaling-stroke">μ</text>
<text transform="matrix(0.281 0 0 0.378 630.669 321.55)" font-size="100" font-family="Liberation Sans, sans-serif" fill="#f00" stroke="#f00" stroke-width="0.5" vector-effect="non-scaling-stroke" stroke-linejoin="round">W</text>
<text transform="matrix(0.547 0 0 0.365 672.561 322.485)" font-size="100" font-family="Liberation Sans, sans-serif" font-style="italic" fill="#00f" stroke="#fff" stroke-width="1.3" vector-effect="non-scaling-stroke">τ</text>
<text transform="matrix(0.281 0 0 0.378 698.069 321.55)" font-size="100" font-family="Liberation Sans, sans-serif" fill="#00f" stroke="#00f" stroke-width="0.5" vector-effect="non-scaling-stroke" stroke-linejoin="round">W</text>
<text transform="matrix(0.315 0 0 0.373 606.289 576.877)" font-size="100" font-family="Liberation Sans, sans-serif" fill="#000" stroke="#000" stroke-width="0.5" vector-effect="non-scaling-stroke" stroke-linejoin="round">eW</text>
<text transform="matrix(0.469 0 0 0.392 674.188 579.508)" font-size="100" font-family="Liberation Sans, sans-serif" font-style="italic" fill="#f00" stroke="#fff" stroke-width="1.5" vector-effect="non-scaling-stroke">μ</text>
<text transform="matrix(0.281 0 0 0.378 699.069 577.25)" font-size="100" font-family="Liberation Sans, sans-serif" fill="#f00" stroke="#f00" stroke-width="0.5" vector-effect="non-scaling-stroke" stroke-linejoin="round">W</text>
<text transform="matrix(0.547 0 0 0.365 752.961 578.185)" font-size="100" font-family="Liberation Sans, sans-serif" font-style="italic" fill="#00f" stroke="#fff" stroke-width="1.3" vector-effect="non-scaling-stroke">τ</text>
<text transform="matrix(0.281 0 0 0.378 778.469 577.25)" font-size="100" font-family="Liberation Sans, sans-serif" fill="#00f" stroke="#00f" stroke-width="0.5" vector-effect="non-scaling-stroke" stroke-linejoin="round">W</text>
<text transform="matrix(0.469 0 0 0.392 605.188 1011.308)" font-size="100" font-family="Liberation Sans, sans-serif" font-style="italic" fill="#f00" stroke="#fff" stroke-width="1.5" vector-effect="non-scaling-stroke">μ</text>
<text transform="matrix(0.281 0 0 0.378 630.069 1009.05)" font-size="100" font-family="Liberation Sans, sans-serif" fill="#f00" stroke="#f00" stroke-width="0.5" vector-effect="non-scaling-stroke" stroke-linejoin="round">W</text>
<text transform="matrix(0.547 0 0 0.365 672.661 1009.985)" font-size="100" font-family="Liberation Sans, sans-serif" font-style="italic" fill="#00f" stroke="#fff" stroke-width="1.3" vector-effect="non-scaling-stroke">τ</text>
<text transform="matrix(0.281 0 0 0.378 698.169 1009.05)" font-size="100" font-family="Liberation Sans, sans-serif" fill="#00f" stroke="#00f" stroke-width="0.5" vector-effect="non-scaling-stroke" stroke-linejoin="round">W</text>
<text transform="matrix(0.315 0 0 0.373 606.089 1141.177)" font-size="100" font-family="Liberation Sans, sans-serif" fill="#000" stroke="#000" stroke-width="0.5" vector-effect="non-scaling-stroke" stroke-linejoin="round">eW</text>
<text transform="matrix(0.343 0 0 0.331 357.55 1405.55)" font-size="100" font-family="Liberation Sans, sans-serif" fill="#000" stroke="#000" stroke-width="0.3" vector-effect="non-scaling-stroke" stroke-linejoin="round">m</text>
<text transform="matrix(0.241 0 0 0.241 387.07 1417.45)" font-size="100" font-family="Liberation Sans, sans-serif" clip-path="url(#k1)" fill="#000" stroke="#000" stroke-width="0.3" vector-effect="non-scaling-stroke" stroke-linejoin="round">1</text>
<text transform="matrix(0.254 0 0 0.33 410.027 1406.124)" font-size="100" font-family="Liberation Sans, sans-serif" fill="#000" stroke="#000" stroke-width="0.3" vector-effect="non-scaling-stroke" stroke-linejoin="round">(</text>
<text transform="matrix(0.327 0 0 0.341 420.942 1405.609)" font-size="100" font-family="Liberation Sans, sans-serif" fill="#000" stroke="#000" stroke-width="0.3" vector-effect="non-scaling-stroke" stroke-linejoin="round">eV</text>
<text transform="matrix(0.231 0 0 0.33 463.019 1406.124)" font-size="100" font-family="Liberation Sans, sans-serif" fill="#000" stroke="#000" stroke-width="0.3" vector-effect="non-scaling-stroke" stroke-linejoin="round">)</text>
<text transform="matrix(0.346 0 0 0.331 799.73 1405.55)" font-size="100" font-family="Liberation Sans, sans-serif" fill="#000" stroke="#000" stroke-width="0.3" vector-effect="non-scaling-stroke" stroke-linejoin="round">m</text>
<text transform="matrix(0.247 0 0 0.248 828.163 1417.902)" font-size="100" font-family="Liberation Sans, sans-serif" fill="#000" stroke="#000" stroke-width="0.3" vector-effect="non-scaling-stroke" stroke-linejoin="round">3</text>
<text transform="matrix(0.258 0 0 0.33 852.304 1406.124)" font-size="100" font-family="Liberation Sans, sans-serif" fill="#000" stroke="#000" stroke-width="0.3" vector-effect="non-scaling-stroke" stroke-linejoin="round">(</text>
<text transform="matrix(0.33 0 0 0.341 862.931 1405.609)" font-size="100" font-family="Liberation Sans, sans-serif" fill="#000" stroke="#000" stroke-width="0.3" vector-effect="non-scaling-stroke" stroke-linejoin="round">eV</text>
<text transform="matrix(0.242 0 0 0.33 905.008 1406.124)" font-size="100" font-family="Liberation Sans, sans-serif" fill="#000" stroke="#000" stroke-width="0.3" vector-effect="non-scaling-stroke" stroke-linejoin="round">)</text>
<text transform="matrix(0 -0.333 0.345 0 40.15 378.41)" font-size="100" font-family="Liberation Sans, sans-serif" fill="#000" stroke="#000" stroke-width="0.3" vector-effect="non-scaling-stroke" stroke-linejoin="round">BR</text>
<text transform="matrix(0 -0.262 0.341 0 41.079 329.619)" font-size="100" font-family="Liberation Sans, sans-serif" fill="#000" stroke="#000" stroke-width="0.3" vector-effect="non-scaling-stroke" stroke-linejoin="round">(</text>
<text transform="matrix(0 -0.336 0.345 0 40.15 320.336)" font-size="100" font-family="Liberation Sans, sans-serif" fill="#000" stroke="#000" stroke-width="0.3" vector-effect="non-scaling-stroke" stroke-linejoin="round">N</text>
<text transform="matrix(0 -0.238 0.238 0 51.75 295.331)" font-size="100" font-family="Liberation Sans, sans-serif" clip-path="url(#k1)" fill="#000" stroke="#000" stroke-width="0.3" vector-effect="non-scaling-stroke" stroke-linejoin="round">1</text>
<text transform="matrix(0 -0.524 0.8 0 44.9 291.975)" font-size="100" font-family="Liberation Sans, sans-serif" fill="#000" stroke="#fff" stroke-width="1.2" vector-effect="non-scaling-stroke">→</text>
<text transform="matrix(0 -0.244 0.331 0 40.481 247.761)" font-size="100" font-family="Liberation Sans, sans-serif" fill="#000" stroke="#000" stroke-width="0.3" vector-effect="non-scaling-stroke" stroke-linejoin="round">l</text>
<text transform="matrix(0 -0.229 0.235 0 25.762 241.996)" font-size="100" font-family="Liberation Sans, sans-serif" fill="#000" stroke="#000" stroke-width="0.3" vector-effect="non-scaling-stroke" stroke-linejoin="round">+</text>
<text transform="matrix(0 -0.318 0.345 0 40.15 227.168)" font-size="100" font-family="Liberation Sans, sans-serif" fill="#000" stroke="#000" stroke-width="0.3" vector-effect="non-scaling-stroke" stroke-linejoin="round">W</text>
<text transform="matrix(0 -0.204 0.213 0 22.938 196.066)" font-size="100" font-family="Liberation Sans, sans-serif" fill="#000" stroke="#000" stroke-width="0.3" vector-effect="non-scaling-stroke" stroke-linejoin="round">-</text>
<text transform="matrix(0 -0.342 0.316 0 42.997 188.158)" font-size="100" font-family="Liberation Sans, sans-serif" fill="#000" stroke="#000" stroke-width="0.3" vector-effect="non-scaling-stroke" stroke-linejoin="round">+</text>
<text transform="matrix(0 -0.278 0.331 0 40.481 167.394)" font-size="100" font-family="Liberation Sans, sans-serif" fill="#000" stroke="#000" stroke-width="0.3" vector-effect="non-scaling-stroke" stroke-linejoin="round">l</text>
<text transform="matrix(0 -0.224 0.213 0 22.938 160.646)" font-size="100" font-family="Liberation Sans, sans-serif" fill="#000" stroke="#000" stroke-width="0.3" vector-effect="non-scaling-stroke" stroke-linejoin="round">-</text>
<text transform="matrix(0 -0.319 0.345 0 40.15 152.269)" font-size="100" font-family="Liberation Sans, sans-serif" fill="#000" stroke="#000" stroke-width="0.3" vector-effect="non-scaling-stroke" stroke-linejoin="round">W</text>
<text transform="matrix(0 -0.235 0.235 0 25.762 121.727)" font-size="100" font-family="Liberation Sans, sans-serif" fill="#000" stroke="#000" stroke-width="0.3" vector-effect="non-scaling-stroke" stroke-linejoin="round">+</text>
<text transform="matrix(0 -0.265 0.339 0 40.923 106.115)" font-size="100" font-family="Liberation Sans, sans-serif" fill="#000" stroke="#000" stroke-width="0.3" vector-effect="non-scaling-stroke" stroke-linejoin="round">)</text>
<text transform="matrix(0 -0.333 0.345 0 40.15 815.21)" font-size="100" font-family="Liberation Sans, sans-serif" fill="#000" stroke="#000" stroke-width="0.3" vector-effect="non-scaling-stroke" stroke-linejoin="round">BR</text>
<text transform="matrix(0 -0.262 0.341 0 41.079 766.419)" font-size="100" font-family="Liberation Sans, sans-serif" fill="#000" stroke="#000" stroke-width="0.3" vector-effect="non-scaling-stroke" stroke-linejoin="round">(</text>
<text transform="matrix(0 -0.336 0.345 0 40.15 757.136)" font-size="100" font-family="Liberation Sans, sans-serif" fill="#000" stroke="#000" stroke-width="0.3" vector-effect="non-scaling-stroke" stroke-linejoin="round">N</text>
<text transform="matrix(0 -0.252 0.237 0 51.85 733.311)" font-size="100" font-family="Liberation Sans, sans-serif" fill="#000" stroke="#000" stroke-width="0.3" vector-effect="non-scaling-stroke" stroke-linejoin="round">2</text>
<text transform="matrix(0 -0.524 0.8 0 44.9 728.775)" font-size="100" font-family="Liberation Sans, sans-serif" fill="#000" stroke="#fff" stroke-width="1.2" vector-effect="non-scaling-stroke">→</text>
<text transform="matrix(0 -0.244 0.331 0 40.481 684.561)" font-size="100" font-family="Liberation Sans, sans-serif" fill="#000" stroke="#000" stroke-width="0.3" vector-effect="non-scaling-stroke" stroke-linejoin="round">l</text>
<text transform="matrix(0 -0.229 0.235 0 25.762 678.796)" font-size="100" font-family="Liberation Sans, sans-serif" fill="#000" stroke="#000" stroke-width="0.3" vector-effect="non-scaling-stroke" stroke-linejoin="round">+</text>
<text transform="matrix(0 -0.318 0.345 0 40.15 663.968)" font-size="100" font-family="Liberation Sans, sans-serif" fill="#000" stroke="#000" stroke-width="0.3" vector-effect="non-scaling-stroke" stroke-linejoin="round">W</text>
<text transform="matrix(0 -0.204 0.213 0 22.938 632.866)" font-size="100" font-family="Liberation Sans, sans-serif" fill="#000" stroke="#000" stroke-width="0.3" vector-effect="non-scaling-stroke" stroke-linejoin="round">-</text>
<text transform="matrix(0 -0.342 0.316 0 42.997 624.958)" font-size="100" font-family="Liberation Sans, sans-serif" fill="#000" stroke="#000" stroke-width="0.3" vector-effect="non-scaling-stroke" stroke-linejoin="round">+</text>
<text transform="matrix(0 -0.278 0.331 0 40.481 604.194)" font-size="100" font-family="Liberation Sans, sans-serif" fill="#000" stroke="#000" stroke-width="0.3" vector-effect="non-scaling-stroke" stroke-linejoin="round">l</text>
<text transform="matrix(0 -0.224 0.213 0 22.938 597.446)" font-size="100" font-family="Liberation Sans, sans-serif" fill="#000" stroke="#000" stroke-width="0.3" vector-effect="non-scaling-stroke" stroke-linejoin="round">-</text>
<text transform="matrix(0 -0.319 0.345 0 40.15 589.069)" font-size="100" font-family="Liberation Sans, sans-serif" fill="#000" stroke="#000" stroke-width="0.3" vector-effect="non-scaling-stroke" stroke-linejoin="round">W</text>
<text transform="matrix(0 -0.235 0.235 0 25.762 558.527)" font-size="100" font-family="Liberation Sans, sans-serif" fill="#000" stroke="#000" stroke-width="0.3" vector-effect="non-scaling-stroke" stroke-linejoin="round">+</text>
<text transform="matrix(0 -0.265 0.339 0 40.923 542.915)" font-size="100" font-family="Liberation Sans, sans-serif" fill="#000" stroke="#000" stroke-width="0.3" vector-effect="non-scaling-stroke" stroke-linejoin="round">)</text>
<text transform="matrix(0 -0.333 0.345 0 40.15 1252.41)" font-size="100" font-family="Liberation Sans, sans-serif" fill="#000" stroke="#000" stroke-width="0.3" vector-effect="non-scaling-stroke" stroke-linejoin="round">BR</text>
<text transform="matrix(0 -0.262 0.341 0 41.079 1203.619)" font-size="100" font-family="Liberation Sans, sans-serif" fill="#000" stroke="#000" stroke-width="0.3" vector-effect="non-scaling-stroke" stroke-linejoin="round">(</text>
<text transform="matrix(0 -0.336 0.345 0 40.15 1194.336)" font-size="100" font-family="Liberation Sans, sans-serif" fill="#000" stroke="#000" stroke-width="0.3" vector-effect="non-scaling-stroke" stroke-linejoin="round">N</text>
<text transform="matrix(0 -0.226 0.248 0 52.602 1169.852)" font-size="100" font-family="Liberation Sans, sans-serif" fill="#000" stroke="#000" stroke-width="0.3" vector-effect="non-scaling-stroke" stroke-linejoin="round">3</text>
<text transform="matrix(0 -0.524 0.8 0 44.9 1165.975)" font-size="100" font-family="Liberation Sans, sans-serif" fill="#000" stroke="#fff" stroke-width="1.2" vector-effect="non-scaling-stroke">→</text>
<text transform="matrix(0 -0.244 0.331 0 40.481 1121.761)" font-size="100" font-family="Liberation Sans, sans-serif" fill="#000" stroke="#000" stroke-width="0.3" vector-effect="non-scaling-stroke" stroke-linejoin="round">l</text>
<text transform="matrix(0 -0.229 0.235 0 25.762 1115.996)" font-size="100" font-family="Liberation Sans, sans-serif" fill="#000" stroke="#000" stroke-width="0.3" vector-effect="non-scaling-stroke" stroke-linejoin="round">+</text>
<text transform="matrix(0 -0.318 0.345 0 40.15 1101.168)" font-size="100" font-family="Liberation Sans, sans-serif" fill="#000" stroke="#000" stroke-width="0.3" vector-effect="non-scaling-stroke" stroke-linejoin="round">W</text>
<text transform="matrix(0 -0.204 0.213 0 22.938 1070.066)" font-size="100" font-family="Liberation Sans, sans-serif" fill="#000" stroke="#000" stroke-width="0.3" vector-effect="non-scaling-stroke" stroke-linejoin="round">-</text>
<text transform="matrix(0 -0.342 0.316 0 42.997 1062.158)" font-size="100" font-family="Liberation Sans, sans-serif" fill="#000" stroke="#000" stroke-width="0.3" vector-effect="non-scaling-stroke" stroke-linejoin="round">+</text>
<text transform="matrix(0 -0.278 0.331 0 40.481 1041.394)" font-size="100" font-family="Liberation Sans, sans-serif" fill="#000" stroke="#000" stroke-width="0.3" vector-effect="non-scaling-stroke" stroke-linejoin="round">l</text>
<text transform="matrix(0 -0.224 0.213 0 22.938 1034.646)" font-size="100" font-family="Liberation Sans, sans-serif" fill="#000" stroke="#000" stroke-width="0.3" vector-effect="non-scaling-stroke" stroke-linejoin="round">-</text>
<text transform="matrix(0 -0.319 0.345 0 40.15 1026.269)" font-size="100" font-family="Liberation Sans, sans-serif" fill="#000" stroke="#000" stroke-width="0.3" vector-effect="non-scaling-stroke" stroke-linejoin="round">W</text>
<text transform="matrix(0 -0.235 0.235 0 25.762 995.727)" font-size="100" font-family="Liberation Sans, sans-serif" fill="#000" stroke="#000" stroke-width="0.3" vector-effect="non-scaling-stroke" stroke-linejoin="round">+</text>
<text transform="matrix(0 -0.265 0.339 0 40.923 980.115)" font-size="100" font-family="Liberation Sans, sans-serif" fill="#000" stroke="#000" stroke-width="0.3" vector-effect="non-scaling-stroke" stroke-linejoin="round">)</text>
</svg></body></html>
